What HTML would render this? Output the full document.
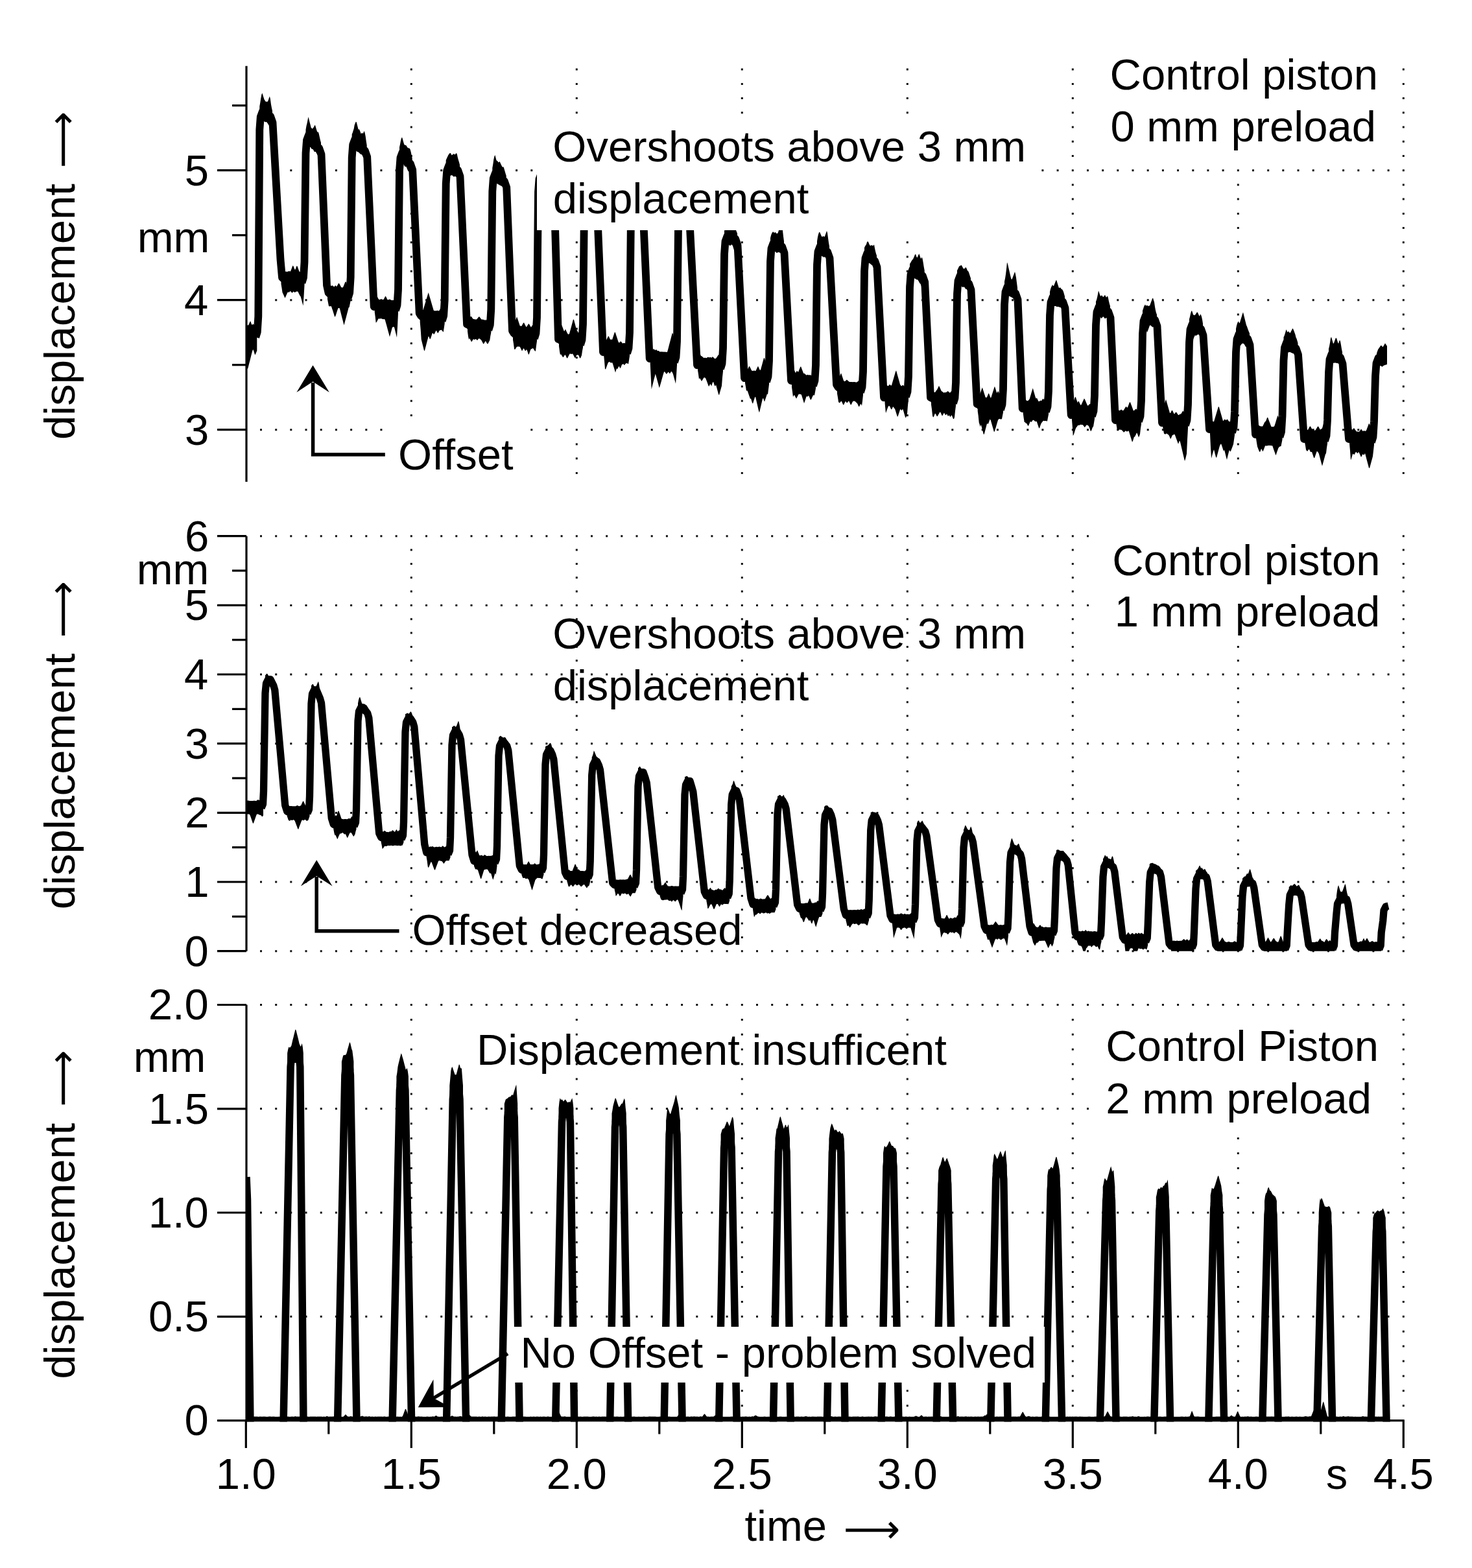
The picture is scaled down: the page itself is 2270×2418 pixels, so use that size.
<!DOCTYPE html>
<html><head><meta charset="utf-8"><title>Control piston displacement</title><style>html,body{margin:0;padding:0;background:#fff;width:2270px;height:2418px;overflow:hidden}svg{display:block}.t text{font-family:"Liberation Sans",Arial,Helvetica,sans-serif}.a text{font-family:"DejaVu Sans",sans-serif}</style></head><body>
<svg width="2270" height="2418" viewBox="0 0 2270 2418">
<rect width="2270" height="2418" fill="#fff"/>
<defs><clipPath id="cT"><rect x="380" y="101.7" width="1786" height="641.3"/></clipPath><clipPath id="cM"><rect x="380" y="826.7" width="1786" height="640"/></clipPath><clipPath id="cB"><rect x="380" y="1549.5" width="1786" height="643.1"/></clipPath></defs>
<path fill="#111" d="M401 261.2h3v3h-3zM424.2 261.2h3v3h-3zM447.3 261.2h3v3h-3zM470.5 261.2h3v3h-3zM493.7 261.2h3v3h-3zM516.9 261.2h3v3h-3zM540.1 261.2h3v3h-3zM563.3 261.2h3v3h-3zM586.4 261.2h3v3h-3zM609.6 261.2h3v3h-3zM632.8 261.2h3v3h-3zM656 261.2h3v3h-3zM679.2 261.2h3v3h-3zM702.3 261.2h3v3h-3zM725.5 261.2h3v3h-3zM748.7 261.2h3v3h-3zM771.9 261.2h3v3h-3zM795.1 261.2h3v3h-3zM818.3 261.2h3v3h-3zM841.4 261.2h3v3h-3zM864.6 261.2h3v3h-3zM887.8 261.2h3v3h-3zM911 261.2h3v3h-3zM934.2 261.2h3v3h-3zM957.3 261.2h3v3h-3zM980.5 261.2h3v3h-3zM1003.7 261.2h3v3h-3zM1026.9 261.2h3v3h-3zM1050.1 261.2h3v3h-3zM1073.3 261.2h3v3h-3zM1096.4 261.2h3v3h-3zM1119.6 261.2h3v3h-3zM1142.8 261.2h3v3h-3zM1166 261.2h3v3h-3zM1189.2 261.2h3v3h-3zM1212.3 261.2h3v3h-3zM1235.5 261.2h3v3h-3zM1258.7 261.2h3v3h-3zM1281.9 261.2h3v3h-3zM1305.1 261.2h3v3h-3zM1328.3 261.2h3v3h-3zM1351.4 261.2h3v3h-3zM1374.6 261.2h3v3h-3zM1397.8 261.2h3v3h-3zM1421 261.2h3v3h-3zM1444.2 261.2h3v3h-3zM1467.3 261.2h3v3h-3zM1490.5 261.2h3v3h-3zM1513.7 261.2h3v3h-3zM1536.9 261.2h3v3h-3zM1560.1 261.2h3v3h-3zM1583.3 261.2h3v3h-3zM1606.4 261.2h3v3h-3zM1629.6 261.2h3v3h-3zM1652.8 261.2h3v3h-3zM1676 261.2h3v3h-3zM1699.2 261.2h3v3h-3zM1722.3 261.2h3v3h-3zM1745.5 261.2h3v3h-3zM1768.7 261.2h3v3h-3zM1791.9 261.2h3v3h-3zM1815.1 261.2h3v3h-3zM1838.3 261.2h3v3h-3zM1861.4 261.2h3v3h-3zM1884.6 261.2h3v3h-3zM1907.8 261.2h3v3h-3zM1931 261.2h3v3h-3zM1954.2 261.2h3v3h-3zM1977.3 261.2h3v3h-3zM2000.5 261.2h3v3h-3zM2023.7 261.2h3v3h-3zM2046.9 261.2h3v3h-3zM2070.1 261.2h3v3h-3zM2093.3 261.2h3v3h-3zM2116.4 261.2h3v3h-3zM2139.6 261.2h3v3h-3zM2162.8 261.2h3v3h-3zM401 461.2h3v3h-3zM424.2 461.2h3v3h-3zM447.3 461.2h3v3h-3zM470.5 461.2h3v3h-3zM493.7 461.2h3v3h-3zM516.9 461.2h3v3h-3zM540.1 461.2h3v3h-3zM563.3 461.2h3v3h-3zM586.4 461.2h3v3h-3zM609.6 461.2h3v3h-3zM632.8 461.2h3v3h-3zM656 461.2h3v3h-3zM679.2 461.2h3v3h-3zM702.3 461.2h3v3h-3zM725.5 461.2h3v3h-3zM748.7 461.2h3v3h-3zM771.9 461.2h3v3h-3zM795.1 461.2h3v3h-3zM818.3 461.2h3v3h-3zM841.4 461.2h3v3h-3zM864.6 461.2h3v3h-3zM887.8 461.2h3v3h-3zM911 461.2h3v3h-3zM934.2 461.2h3v3h-3zM957.3 461.2h3v3h-3zM980.5 461.2h3v3h-3zM1003.7 461.2h3v3h-3zM1026.9 461.2h3v3h-3zM1050.1 461.2h3v3h-3zM1073.3 461.2h3v3h-3zM1096.4 461.2h3v3h-3zM1119.6 461.2h3v3h-3zM1142.8 461.2h3v3h-3zM1166 461.2h3v3h-3zM1189.2 461.2h3v3h-3zM1212.3 461.2h3v3h-3zM1235.5 461.2h3v3h-3zM1258.7 461.2h3v3h-3zM1281.9 461.2h3v3h-3zM1305.1 461.2h3v3h-3zM1328.3 461.2h3v3h-3zM1351.4 461.2h3v3h-3zM1374.6 461.2h3v3h-3zM1397.8 461.2h3v3h-3zM1421 461.2h3v3h-3zM1444.2 461.2h3v3h-3zM1467.3 461.2h3v3h-3zM1490.5 461.2h3v3h-3zM1513.7 461.2h3v3h-3zM1536.9 461.2h3v3h-3zM1560.1 461.2h3v3h-3zM1583.3 461.2h3v3h-3zM1606.4 461.2h3v3h-3zM1629.6 461.2h3v3h-3zM1652.8 461.2h3v3h-3zM1676 461.2h3v3h-3zM1699.2 461.2h3v3h-3zM1722.3 461.2h3v3h-3zM1745.5 461.2h3v3h-3zM1768.7 461.2h3v3h-3zM1791.9 461.2h3v3h-3zM1815.1 461.2h3v3h-3zM1838.3 461.2h3v3h-3zM1861.4 461.2h3v3h-3zM1884.6 461.2h3v3h-3zM1907.8 461.2h3v3h-3zM1931 461.2h3v3h-3zM1954.2 461.2h3v3h-3zM1977.3 461.2h3v3h-3zM2000.5 461.2h3v3h-3zM2023.7 461.2h3v3h-3zM2046.9 461.2h3v3h-3zM2070.1 461.2h3v3h-3zM2093.3 461.2h3v3h-3zM2116.4 461.2h3v3h-3zM2139.6 461.2h3v3h-3zM2162.8 461.2h3v3h-3zM401 661.2h3v3h-3zM424.2 661.2h3v3h-3zM447.3 661.2h3v3h-3zM470.5 661.2h3v3h-3zM493.7 661.2h3v3h-3zM516.9 661.2h3v3h-3zM540.1 661.2h3v3h-3zM563.3 661.2h3v3h-3zM586.4 661.2h3v3h-3zM609.6 661.2h3v3h-3zM632.8 661.2h3v3h-3zM656 661.2h3v3h-3zM679.2 661.2h3v3h-3zM702.3 661.2h3v3h-3zM725.5 661.2h3v3h-3zM748.7 661.2h3v3h-3zM771.9 661.2h3v3h-3zM795.1 661.2h3v3h-3zM818.3 661.2h3v3h-3zM841.4 661.2h3v3h-3zM864.6 661.2h3v3h-3zM887.8 661.2h3v3h-3zM911 661.2h3v3h-3zM934.2 661.2h3v3h-3zM957.3 661.2h3v3h-3zM980.5 661.2h3v3h-3zM1003.7 661.2h3v3h-3zM1026.9 661.2h3v3h-3zM1050.1 661.2h3v3h-3zM1073.3 661.2h3v3h-3zM1096.4 661.2h3v3h-3zM1119.6 661.2h3v3h-3zM1142.8 661.2h3v3h-3zM1166 661.2h3v3h-3zM1189.2 661.2h3v3h-3zM1212.3 661.2h3v3h-3zM1235.5 661.2h3v3h-3zM1258.7 661.2h3v3h-3zM1281.9 661.2h3v3h-3zM1305.1 661.2h3v3h-3zM1328.3 661.2h3v3h-3zM1351.4 661.2h3v3h-3zM1374.6 661.2h3v3h-3zM1397.8 661.2h3v3h-3zM1421 661.2h3v3h-3zM1444.2 661.2h3v3h-3zM1467.3 661.2h3v3h-3zM1490.5 661.2h3v3h-3zM1513.7 661.2h3v3h-3zM1536.9 661.2h3v3h-3zM1560.1 661.2h3v3h-3zM1583.3 661.2h3v3h-3zM1606.4 661.2h3v3h-3zM1629.6 661.2h3v3h-3zM1652.8 661.2h3v3h-3zM1676 661.2h3v3h-3zM1699.2 661.2h3v3h-3zM1722.3 661.2h3v3h-3zM1745.5 661.2h3v3h-3zM1768.7 661.2h3v3h-3zM1791.9 661.2h3v3h-3zM1815.1 661.2h3v3h-3zM1838.3 661.2h3v3h-3zM1861.4 661.2h3v3h-3zM1884.6 661.2h3v3h-3zM1907.8 661.2h3v3h-3zM1931 661.2h3v3h-3zM1954.2 661.2h3v3h-3zM1977.3 661.2h3v3h-3zM2000.5 661.2h3v3h-3zM2023.7 661.2h3v3h-3zM2046.9 661.2h3v3h-3zM2070.1 661.2h3v3h-3zM2093.3 661.2h3v3h-3zM2116.4 661.2h3v3h-3zM2139.6 661.2h3v3h-3zM2162.8 661.2h3v3h-3zM401 1465.2h3v3h-3zM424.2 1465.2h3v3h-3zM447.3 1465.2h3v3h-3zM470.5 1465.2h3v3h-3zM493.7 1465.2h3v3h-3zM516.9 1465.2h3v3h-3zM540.1 1465.2h3v3h-3zM563.3 1465.2h3v3h-3zM586.4 1465.2h3v3h-3zM609.6 1465.2h3v3h-3zM632.8 1465.2h3v3h-3zM656 1465.2h3v3h-3zM679.2 1465.2h3v3h-3zM702.3 1465.2h3v3h-3zM725.5 1465.2h3v3h-3zM748.7 1465.2h3v3h-3zM771.9 1465.2h3v3h-3zM795.1 1465.2h3v3h-3zM818.3 1465.2h3v3h-3zM841.4 1465.2h3v3h-3zM864.6 1465.2h3v3h-3zM887.8 1465.2h3v3h-3zM911 1465.2h3v3h-3zM934.2 1465.2h3v3h-3zM957.3 1465.2h3v3h-3zM980.5 1465.2h3v3h-3zM1003.7 1465.2h3v3h-3zM1026.9 1465.2h3v3h-3zM1050.1 1465.2h3v3h-3zM1073.3 1465.2h3v3h-3zM1096.4 1465.2h3v3h-3zM1119.6 1465.2h3v3h-3zM1142.8 1465.2h3v3h-3zM1166 1465.2h3v3h-3zM1189.2 1465.2h3v3h-3zM1212.3 1465.2h3v3h-3zM1235.5 1465.2h3v3h-3zM1258.7 1465.2h3v3h-3zM1281.9 1465.2h3v3h-3zM1305.1 1465.2h3v3h-3zM1328.3 1465.2h3v3h-3zM1351.4 1465.2h3v3h-3zM1374.6 1465.2h3v3h-3zM1397.8 1465.2h3v3h-3zM1421 1465.2h3v3h-3zM1444.2 1465.2h3v3h-3zM1467.3 1465.2h3v3h-3zM1490.5 1465.2h3v3h-3zM1513.7 1465.2h3v3h-3zM1536.9 1465.2h3v3h-3zM1560.1 1465.2h3v3h-3zM1583.3 1465.2h3v3h-3zM1606.4 1465.2h3v3h-3zM1629.6 1465.2h3v3h-3zM1652.8 1465.2h3v3h-3zM1676 1465.2h3v3h-3zM1699.2 1465.2h3v3h-3zM1722.3 1465.2h3v3h-3zM1745.5 1465.2h3v3h-3zM1768.7 1465.2h3v3h-3zM1791.9 1465.2h3v3h-3zM1815.1 1465.2h3v3h-3zM1838.3 1465.2h3v3h-3zM1861.4 1465.2h3v3h-3zM1884.6 1465.2h3v3h-3zM1907.8 1465.2h3v3h-3zM1931 1465.2h3v3h-3zM1954.2 1465.2h3v3h-3zM1977.3 1465.2h3v3h-3zM2000.5 1465.2h3v3h-3zM2023.7 1465.2h3v3h-3zM2046.9 1465.2h3v3h-3zM2070.1 1465.2h3v3h-3zM2093.3 1465.2h3v3h-3zM2116.4 1465.2h3v3h-3zM2139.6 1465.2h3v3h-3zM2162.8 1465.2h3v3h-3zM401 1358.5h3v3h-3zM424.2 1358.5h3v3h-3zM447.3 1358.5h3v3h-3zM470.5 1358.5h3v3h-3zM493.7 1358.5h3v3h-3zM516.9 1358.5h3v3h-3zM540.1 1358.5h3v3h-3zM563.3 1358.5h3v3h-3zM586.4 1358.5h3v3h-3zM609.6 1358.5h3v3h-3zM632.8 1358.5h3v3h-3zM656 1358.5h3v3h-3zM679.2 1358.5h3v3h-3zM702.3 1358.5h3v3h-3zM725.5 1358.5h3v3h-3zM748.7 1358.5h3v3h-3zM771.9 1358.5h3v3h-3zM795.1 1358.5h3v3h-3zM818.3 1358.5h3v3h-3zM841.4 1358.5h3v3h-3zM864.6 1358.5h3v3h-3zM887.8 1358.5h3v3h-3zM911 1358.5h3v3h-3zM934.2 1358.5h3v3h-3zM957.3 1358.5h3v3h-3zM980.5 1358.5h3v3h-3zM1003.7 1358.5h3v3h-3zM1026.9 1358.5h3v3h-3zM1050.1 1358.5h3v3h-3zM1073.3 1358.5h3v3h-3zM1096.4 1358.5h3v3h-3zM1119.6 1358.5h3v3h-3zM1142.8 1358.5h3v3h-3zM1166 1358.5h3v3h-3zM1189.2 1358.5h3v3h-3zM1212.3 1358.5h3v3h-3zM1235.5 1358.5h3v3h-3zM1258.7 1358.5h3v3h-3zM1281.9 1358.5h3v3h-3zM1305.1 1358.5h3v3h-3zM1328.3 1358.5h3v3h-3zM1351.4 1358.5h3v3h-3zM1374.6 1358.5h3v3h-3zM1397.8 1358.5h3v3h-3zM1421 1358.5h3v3h-3zM1444.2 1358.5h3v3h-3zM1467.3 1358.5h3v3h-3zM1490.5 1358.5h3v3h-3zM1513.7 1358.5h3v3h-3zM1536.9 1358.5h3v3h-3zM1560.1 1358.5h3v3h-3zM1583.3 1358.5h3v3h-3zM1606.4 1358.5h3v3h-3zM1629.6 1358.5h3v3h-3zM1652.8 1358.5h3v3h-3zM1676 1358.5h3v3h-3zM1699.2 1358.5h3v3h-3zM1722.3 1358.5h3v3h-3zM1745.5 1358.5h3v3h-3zM1768.7 1358.5h3v3h-3zM1791.9 1358.5h3v3h-3zM1815.1 1358.5h3v3h-3zM1838.3 1358.5h3v3h-3zM1861.4 1358.5h3v3h-3zM1884.6 1358.5h3v3h-3zM1907.8 1358.5h3v3h-3zM1931 1358.5h3v3h-3zM1954.2 1358.5h3v3h-3zM1977.3 1358.5h3v3h-3zM2000.5 1358.5h3v3h-3zM2023.7 1358.5h3v3h-3zM2046.9 1358.5h3v3h-3zM2070.1 1358.5h3v3h-3zM2093.3 1358.5h3v3h-3zM2116.4 1358.5h3v3h-3zM2139.6 1358.5h3v3h-3zM2162.8 1358.5h3v3h-3zM401 1251.9h3v3h-3zM424.2 1251.9h3v3h-3zM447.3 1251.9h3v3h-3zM470.5 1251.9h3v3h-3zM493.7 1251.9h3v3h-3zM516.9 1251.9h3v3h-3zM540.1 1251.9h3v3h-3zM563.3 1251.9h3v3h-3zM586.4 1251.9h3v3h-3zM609.6 1251.9h3v3h-3zM632.8 1251.9h3v3h-3zM656 1251.9h3v3h-3zM679.2 1251.9h3v3h-3zM702.3 1251.9h3v3h-3zM725.5 1251.9h3v3h-3zM748.7 1251.9h3v3h-3zM771.9 1251.9h3v3h-3zM795.1 1251.9h3v3h-3zM818.3 1251.9h3v3h-3zM841.4 1251.9h3v3h-3zM864.6 1251.9h3v3h-3zM887.8 1251.9h3v3h-3zM911 1251.9h3v3h-3zM934.2 1251.9h3v3h-3zM957.3 1251.9h3v3h-3zM980.5 1251.9h3v3h-3zM1003.7 1251.9h3v3h-3zM1026.9 1251.9h3v3h-3zM1050.1 1251.9h3v3h-3zM1073.3 1251.9h3v3h-3zM1096.4 1251.9h3v3h-3zM1119.6 1251.9h3v3h-3zM1142.8 1251.9h3v3h-3zM1166 1251.9h3v3h-3zM1189.2 1251.9h3v3h-3zM1212.3 1251.9h3v3h-3zM1235.5 1251.9h3v3h-3zM1258.7 1251.9h3v3h-3zM1281.9 1251.9h3v3h-3zM1305.1 1251.9h3v3h-3zM1328.3 1251.9h3v3h-3zM1351.4 1251.9h3v3h-3zM1374.6 1251.9h3v3h-3zM1397.8 1251.9h3v3h-3zM1421 1251.9h3v3h-3zM1444.2 1251.9h3v3h-3zM1467.3 1251.9h3v3h-3zM1490.5 1251.9h3v3h-3zM1513.7 1251.9h3v3h-3zM1536.9 1251.9h3v3h-3zM1560.1 1251.9h3v3h-3zM1583.3 1251.9h3v3h-3zM1606.4 1251.9h3v3h-3zM1629.6 1251.9h3v3h-3zM1652.8 1251.9h3v3h-3zM1676 1251.9h3v3h-3zM1699.2 1251.9h3v3h-3zM1722.3 1251.9h3v3h-3zM1745.5 1251.9h3v3h-3zM1768.7 1251.9h3v3h-3zM1791.9 1251.9h3v3h-3zM1815.1 1251.9h3v3h-3zM1838.3 1251.9h3v3h-3zM1861.4 1251.9h3v3h-3zM1884.6 1251.9h3v3h-3zM1907.8 1251.9h3v3h-3zM1931 1251.9h3v3h-3zM1954.2 1251.9h3v3h-3zM1977.3 1251.9h3v3h-3zM2000.5 1251.9h3v3h-3zM2023.7 1251.9h3v3h-3zM2046.9 1251.9h3v3h-3zM2070.1 1251.9h3v3h-3zM2093.3 1251.9h3v3h-3zM2116.4 1251.9h3v3h-3zM2139.6 1251.9h3v3h-3zM2162.8 1251.9h3v3h-3zM401 1145.2h3v3h-3zM424.2 1145.2h3v3h-3zM447.3 1145.2h3v3h-3zM470.5 1145.2h3v3h-3zM493.7 1145.2h3v3h-3zM516.9 1145.2h3v3h-3zM540.1 1145.2h3v3h-3zM563.3 1145.2h3v3h-3zM586.4 1145.2h3v3h-3zM609.6 1145.2h3v3h-3zM632.8 1145.2h3v3h-3zM656 1145.2h3v3h-3zM679.2 1145.2h3v3h-3zM702.3 1145.2h3v3h-3zM725.5 1145.2h3v3h-3zM748.7 1145.2h3v3h-3zM771.9 1145.2h3v3h-3zM795.1 1145.2h3v3h-3zM818.3 1145.2h3v3h-3zM841.4 1145.2h3v3h-3zM864.6 1145.2h3v3h-3zM887.8 1145.2h3v3h-3zM911 1145.2h3v3h-3zM934.2 1145.2h3v3h-3zM957.3 1145.2h3v3h-3zM980.5 1145.2h3v3h-3zM1003.7 1145.2h3v3h-3zM1026.9 1145.2h3v3h-3zM1050.1 1145.2h3v3h-3zM1073.3 1145.2h3v3h-3zM1096.4 1145.2h3v3h-3zM1119.6 1145.2h3v3h-3zM1142.8 1145.2h3v3h-3zM1166 1145.2h3v3h-3zM1189.2 1145.2h3v3h-3zM1212.3 1145.2h3v3h-3zM1235.5 1145.2h3v3h-3zM1258.7 1145.2h3v3h-3zM1281.9 1145.2h3v3h-3zM1305.1 1145.2h3v3h-3zM1328.3 1145.2h3v3h-3zM1351.4 1145.2h3v3h-3zM1374.6 1145.2h3v3h-3zM1397.8 1145.2h3v3h-3zM1421 1145.2h3v3h-3zM1444.2 1145.2h3v3h-3zM1467.3 1145.2h3v3h-3zM1490.5 1145.2h3v3h-3zM1513.7 1145.2h3v3h-3zM1536.9 1145.2h3v3h-3zM1560.1 1145.2h3v3h-3zM1583.3 1145.2h3v3h-3zM1606.4 1145.2h3v3h-3zM1629.6 1145.2h3v3h-3zM1652.8 1145.2h3v3h-3zM1676 1145.2h3v3h-3zM1699.2 1145.2h3v3h-3zM1722.3 1145.2h3v3h-3zM1745.5 1145.2h3v3h-3zM1768.7 1145.2h3v3h-3zM1791.9 1145.2h3v3h-3zM1815.1 1145.2h3v3h-3zM1838.3 1145.2h3v3h-3zM1861.4 1145.2h3v3h-3zM1884.6 1145.2h3v3h-3zM1907.8 1145.2h3v3h-3zM1931 1145.2h3v3h-3zM1954.2 1145.2h3v3h-3zM1977.3 1145.2h3v3h-3zM2000.5 1145.2h3v3h-3zM2023.7 1145.2h3v3h-3zM2046.9 1145.2h3v3h-3zM2070.1 1145.2h3v3h-3zM2093.3 1145.2h3v3h-3zM2116.4 1145.2h3v3h-3zM2139.6 1145.2h3v3h-3zM2162.8 1145.2h3v3h-3zM401 1038.5h3v3h-3zM424.2 1038.5h3v3h-3zM447.3 1038.5h3v3h-3zM470.5 1038.5h3v3h-3zM493.7 1038.5h3v3h-3zM516.9 1038.5h3v3h-3zM540.1 1038.5h3v3h-3zM563.3 1038.5h3v3h-3zM586.4 1038.5h3v3h-3zM609.6 1038.5h3v3h-3zM632.8 1038.5h3v3h-3zM656 1038.5h3v3h-3zM679.2 1038.5h3v3h-3zM702.3 1038.5h3v3h-3zM725.5 1038.5h3v3h-3zM748.7 1038.5h3v3h-3zM771.9 1038.5h3v3h-3zM795.1 1038.5h3v3h-3zM818.3 1038.5h3v3h-3zM841.4 1038.5h3v3h-3zM864.6 1038.5h3v3h-3zM887.8 1038.5h3v3h-3zM911 1038.5h3v3h-3zM934.2 1038.5h3v3h-3zM957.3 1038.5h3v3h-3zM980.5 1038.5h3v3h-3zM1003.7 1038.5h3v3h-3zM1026.9 1038.5h3v3h-3zM1050.1 1038.5h3v3h-3zM1073.3 1038.5h3v3h-3zM1096.4 1038.5h3v3h-3zM1119.6 1038.5h3v3h-3zM1142.8 1038.5h3v3h-3zM1166 1038.5h3v3h-3zM1189.2 1038.5h3v3h-3zM1212.3 1038.5h3v3h-3zM1235.5 1038.5h3v3h-3zM1258.7 1038.5h3v3h-3zM1281.9 1038.5h3v3h-3zM1305.1 1038.5h3v3h-3zM1328.3 1038.5h3v3h-3zM1351.4 1038.5h3v3h-3zM1374.6 1038.5h3v3h-3zM1397.8 1038.5h3v3h-3zM1421 1038.5h3v3h-3zM1444.2 1038.5h3v3h-3zM1467.3 1038.5h3v3h-3zM1490.5 1038.5h3v3h-3zM1513.7 1038.5h3v3h-3zM1536.9 1038.5h3v3h-3zM1560.1 1038.5h3v3h-3zM1583.3 1038.5h3v3h-3zM1606.4 1038.5h3v3h-3zM1629.6 1038.5h3v3h-3zM1652.8 1038.5h3v3h-3zM1676 1038.5h3v3h-3zM1699.2 1038.5h3v3h-3zM1722.3 1038.5h3v3h-3zM1745.5 1038.5h3v3h-3zM1768.7 1038.5h3v3h-3zM1791.9 1038.5h3v3h-3zM1815.1 1038.5h3v3h-3zM1838.3 1038.5h3v3h-3zM1861.4 1038.5h3v3h-3zM1884.6 1038.5h3v3h-3zM1907.8 1038.5h3v3h-3zM1931 1038.5h3v3h-3zM1954.2 1038.5h3v3h-3zM1977.3 1038.5h3v3h-3zM2000.5 1038.5h3v3h-3zM2023.7 1038.5h3v3h-3zM2046.9 1038.5h3v3h-3zM2070.1 1038.5h3v3h-3zM2093.3 1038.5h3v3h-3zM2116.4 1038.5h3v3h-3zM2139.6 1038.5h3v3h-3zM2162.8 1038.5h3v3h-3zM401 931.9h3v3h-3zM424.2 931.9h3v3h-3zM447.3 931.9h3v3h-3zM470.5 931.9h3v3h-3zM493.7 931.9h3v3h-3zM516.9 931.9h3v3h-3zM540.1 931.9h3v3h-3zM563.3 931.9h3v3h-3zM586.4 931.9h3v3h-3zM609.6 931.9h3v3h-3zM632.8 931.9h3v3h-3zM656 931.9h3v3h-3zM679.2 931.9h3v3h-3zM702.3 931.9h3v3h-3zM725.5 931.9h3v3h-3zM748.7 931.9h3v3h-3zM771.9 931.9h3v3h-3zM795.1 931.9h3v3h-3zM818.3 931.9h3v3h-3zM841.4 931.9h3v3h-3zM864.6 931.9h3v3h-3zM887.8 931.9h3v3h-3zM911 931.9h3v3h-3zM934.2 931.9h3v3h-3zM957.3 931.9h3v3h-3zM980.5 931.9h3v3h-3zM1003.7 931.9h3v3h-3zM1026.9 931.9h3v3h-3zM1050.1 931.9h3v3h-3zM1073.3 931.9h3v3h-3zM1096.4 931.9h3v3h-3zM1119.6 931.9h3v3h-3zM1142.8 931.9h3v3h-3zM1166 931.9h3v3h-3zM1189.2 931.9h3v3h-3zM1212.3 931.9h3v3h-3zM1235.5 931.9h3v3h-3zM1258.7 931.9h3v3h-3zM1281.9 931.9h3v3h-3zM1305.1 931.9h3v3h-3zM1328.3 931.9h3v3h-3zM1351.4 931.9h3v3h-3zM1374.6 931.9h3v3h-3zM1397.8 931.9h3v3h-3zM1421 931.9h3v3h-3zM1444.2 931.9h3v3h-3zM1467.3 931.9h3v3h-3zM1490.5 931.9h3v3h-3zM1513.7 931.9h3v3h-3zM1536.9 931.9h3v3h-3zM1560.1 931.9h3v3h-3zM1583.3 931.9h3v3h-3zM1606.4 931.9h3v3h-3zM1629.6 931.9h3v3h-3zM1652.8 931.9h3v3h-3zM1676 931.9h3v3h-3zM1699.2 931.9h3v3h-3zM1722.3 931.9h3v3h-3zM1745.5 931.9h3v3h-3zM1768.7 931.9h3v3h-3zM1791.9 931.9h3v3h-3zM1815.1 931.9h3v3h-3zM1838.3 931.9h3v3h-3zM1861.4 931.9h3v3h-3zM1884.6 931.9h3v3h-3zM1907.8 931.9h3v3h-3zM1931 931.9h3v3h-3zM1954.2 931.9h3v3h-3zM1977.3 931.9h3v3h-3zM2000.5 931.9h3v3h-3zM2023.7 931.9h3v3h-3zM2046.9 931.9h3v3h-3zM2070.1 931.9h3v3h-3zM2093.3 931.9h3v3h-3zM2116.4 931.9h3v3h-3zM2139.6 931.9h3v3h-3zM2162.8 931.9h3v3h-3zM401 825.2h3v3h-3zM424.2 825.2h3v3h-3zM447.3 825.2h3v3h-3zM470.5 825.2h3v3h-3zM493.7 825.2h3v3h-3zM516.9 825.2h3v3h-3zM540.1 825.2h3v3h-3zM563.3 825.2h3v3h-3zM586.4 825.2h3v3h-3zM609.6 825.2h3v3h-3zM632.8 825.2h3v3h-3zM656 825.2h3v3h-3zM679.2 825.2h3v3h-3zM702.3 825.2h3v3h-3zM725.5 825.2h3v3h-3zM748.7 825.2h3v3h-3zM771.9 825.2h3v3h-3zM795.1 825.2h3v3h-3zM818.3 825.2h3v3h-3zM841.4 825.2h3v3h-3zM864.6 825.2h3v3h-3zM887.8 825.2h3v3h-3zM911 825.2h3v3h-3zM934.2 825.2h3v3h-3zM957.3 825.2h3v3h-3zM980.5 825.2h3v3h-3zM1003.7 825.2h3v3h-3zM1026.9 825.2h3v3h-3zM1050.1 825.2h3v3h-3zM1073.3 825.2h3v3h-3zM1096.4 825.2h3v3h-3zM1119.6 825.2h3v3h-3zM1142.8 825.2h3v3h-3zM1166 825.2h3v3h-3zM1189.2 825.2h3v3h-3zM1212.3 825.2h3v3h-3zM1235.5 825.2h3v3h-3zM1258.7 825.2h3v3h-3zM1281.9 825.2h3v3h-3zM1305.1 825.2h3v3h-3zM1328.3 825.2h3v3h-3zM1351.4 825.2h3v3h-3zM1374.6 825.2h3v3h-3zM1397.8 825.2h3v3h-3zM1421 825.2h3v3h-3zM1444.2 825.2h3v3h-3zM1467.3 825.2h3v3h-3zM1490.5 825.2h3v3h-3zM1513.7 825.2h3v3h-3zM1536.9 825.2h3v3h-3zM1560.1 825.2h3v3h-3zM1583.3 825.2h3v3h-3zM1606.4 825.2h3v3h-3zM1629.6 825.2h3v3h-3zM1652.8 825.2h3v3h-3zM1676 825.2h3v3h-3zM1699.2 825.2h3v3h-3zM1722.3 825.2h3v3h-3zM1745.5 825.2h3v3h-3zM1768.7 825.2h3v3h-3zM1791.9 825.2h3v3h-3zM1815.1 825.2h3v3h-3zM1838.3 825.2h3v3h-3zM1861.4 825.2h3v3h-3zM1884.6 825.2h3v3h-3zM1907.8 825.2h3v3h-3zM1931 825.2h3v3h-3zM1954.2 825.2h3v3h-3zM1977.3 825.2h3v3h-3zM2000.5 825.2h3v3h-3zM2023.7 825.2h3v3h-3zM2046.9 825.2h3v3h-3zM2070.1 825.2h3v3h-3zM2093.3 825.2h3v3h-3zM2116.4 825.2h3v3h-3zM2139.6 825.2h3v3h-3zM2162.8 825.2h3v3h-3zM401 2189.1h3v3h-3zM424.2 2189.1h3v3h-3zM447.3 2189.1h3v3h-3zM470.5 2189.1h3v3h-3zM493.7 2189.1h3v3h-3zM516.9 2189.1h3v3h-3zM540.1 2189.1h3v3h-3zM563.3 2189.1h3v3h-3zM586.4 2189.1h3v3h-3zM609.6 2189.1h3v3h-3zM632.8 2189.1h3v3h-3zM656 2189.1h3v3h-3zM679.2 2189.1h3v3h-3zM702.3 2189.1h3v3h-3zM725.5 2189.1h3v3h-3zM748.7 2189.1h3v3h-3zM771.9 2189.1h3v3h-3zM795.1 2189.1h3v3h-3zM818.3 2189.1h3v3h-3zM841.4 2189.1h3v3h-3zM864.6 2189.1h3v3h-3zM887.8 2189.1h3v3h-3zM911 2189.1h3v3h-3zM934.2 2189.1h3v3h-3zM957.3 2189.1h3v3h-3zM980.5 2189.1h3v3h-3zM1003.7 2189.1h3v3h-3zM1026.9 2189.1h3v3h-3zM1050.1 2189.1h3v3h-3zM1073.3 2189.1h3v3h-3zM1096.4 2189.1h3v3h-3zM1119.6 2189.1h3v3h-3zM1142.8 2189.1h3v3h-3zM1166 2189.1h3v3h-3zM1189.2 2189.1h3v3h-3zM1212.3 2189.1h3v3h-3zM1235.5 2189.1h3v3h-3zM1258.7 2189.1h3v3h-3zM1281.9 2189.1h3v3h-3zM1305.1 2189.1h3v3h-3zM1328.3 2189.1h3v3h-3zM1351.4 2189.1h3v3h-3zM1374.6 2189.1h3v3h-3zM1397.8 2189.1h3v3h-3zM1421 2189.1h3v3h-3zM1444.2 2189.1h3v3h-3zM1467.3 2189.1h3v3h-3zM1490.5 2189.1h3v3h-3zM1513.7 2189.1h3v3h-3zM1536.9 2189.1h3v3h-3zM1560.1 2189.1h3v3h-3zM1583.3 2189.1h3v3h-3zM1606.4 2189.1h3v3h-3zM1629.6 2189.1h3v3h-3zM1652.8 2189.1h3v3h-3zM1676 2189.1h3v3h-3zM1699.2 2189.1h3v3h-3zM1722.3 2189.1h3v3h-3zM1745.5 2189.1h3v3h-3zM1768.7 2189.1h3v3h-3zM1791.9 2189.1h3v3h-3zM1815.1 2189.1h3v3h-3zM1838.3 2189.1h3v3h-3zM1861.4 2189.1h3v3h-3zM1884.6 2189.1h3v3h-3zM1907.8 2189.1h3v3h-3zM1931 2189.1h3v3h-3zM1954.2 2189.1h3v3h-3zM1977.3 2189.1h3v3h-3zM2000.5 2189.1h3v3h-3zM2023.7 2189.1h3v3h-3zM2046.9 2189.1h3v3h-3zM2070.1 2189.1h3v3h-3zM2093.3 2189.1h3v3h-3zM2116.4 2189.1h3v3h-3zM2139.6 2189.1h3v3h-3zM2162.8 2189.1h3v3h-3zM401 2028.8h3v3h-3zM424.2 2028.8h3v3h-3zM447.3 2028.8h3v3h-3zM470.5 2028.8h3v3h-3zM493.7 2028.8h3v3h-3zM516.9 2028.8h3v3h-3zM540.1 2028.8h3v3h-3zM563.3 2028.8h3v3h-3zM586.4 2028.8h3v3h-3zM609.6 2028.8h3v3h-3zM632.8 2028.8h3v3h-3zM656 2028.8h3v3h-3zM679.2 2028.8h3v3h-3zM702.3 2028.8h3v3h-3zM725.5 2028.8h3v3h-3zM748.7 2028.8h3v3h-3zM771.9 2028.8h3v3h-3zM795.1 2028.8h3v3h-3zM818.3 2028.8h3v3h-3zM841.4 2028.8h3v3h-3zM864.6 2028.8h3v3h-3zM887.8 2028.8h3v3h-3zM911 2028.8h3v3h-3zM934.2 2028.8h3v3h-3zM957.3 2028.8h3v3h-3zM980.5 2028.8h3v3h-3zM1003.7 2028.8h3v3h-3zM1026.9 2028.8h3v3h-3zM1050.1 2028.8h3v3h-3zM1073.3 2028.8h3v3h-3zM1096.4 2028.8h3v3h-3zM1119.6 2028.8h3v3h-3zM1142.8 2028.8h3v3h-3zM1166 2028.8h3v3h-3zM1189.2 2028.8h3v3h-3zM1212.3 2028.8h3v3h-3zM1235.5 2028.8h3v3h-3zM1258.7 2028.8h3v3h-3zM1281.9 2028.8h3v3h-3zM1305.1 2028.8h3v3h-3zM1328.3 2028.8h3v3h-3zM1351.4 2028.8h3v3h-3zM1374.6 2028.8h3v3h-3zM1397.8 2028.8h3v3h-3zM1421 2028.8h3v3h-3zM1444.2 2028.8h3v3h-3zM1467.3 2028.8h3v3h-3zM1490.5 2028.8h3v3h-3zM1513.7 2028.8h3v3h-3zM1536.9 2028.8h3v3h-3zM1560.1 2028.8h3v3h-3zM1583.3 2028.8h3v3h-3zM1606.4 2028.8h3v3h-3zM1629.6 2028.8h3v3h-3zM1652.8 2028.8h3v3h-3zM1676 2028.8h3v3h-3zM1699.2 2028.8h3v3h-3zM1722.3 2028.8h3v3h-3zM1745.5 2028.8h3v3h-3zM1768.7 2028.8h3v3h-3zM1791.9 2028.8h3v3h-3zM1815.1 2028.8h3v3h-3zM1838.3 2028.8h3v3h-3zM1861.4 2028.8h3v3h-3zM1884.6 2028.8h3v3h-3zM1907.8 2028.8h3v3h-3zM1931 2028.8h3v3h-3zM1954.2 2028.8h3v3h-3zM1977.3 2028.8h3v3h-3zM2000.5 2028.8h3v3h-3zM2023.7 2028.8h3v3h-3zM2046.9 2028.8h3v3h-3zM2070.1 2028.8h3v3h-3zM2093.3 2028.8h3v3h-3zM2116.4 2028.8h3v3h-3zM2139.6 2028.8h3v3h-3zM2162.8 2028.8h3v3h-3zM401 1868.5h3v3h-3zM424.2 1868.5h3v3h-3zM447.3 1868.5h3v3h-3zM470.5 1868.5h3v3h-3zM493.7 1868.5h3v3h-3zM516.9 1868.5h3v3h-3zM540.1 1868.5h3v3h-3zM563.3 1868.5h3v3h-3zM586.4 1868.5h3v3h-3zM609.6 1868.5h3v3h-3zM632.8 1868.5h3v3h-3zM656 1868.5h3v3h-3zM679.2 1868.5h3v3h-3zM702.3 1868.5h3v3h-3zM725.5 1868.5h3v3h-3zM748.7 1868.5h3v3h-3zM771.9 1868.5h3v3h-3zM795.1 1868.5h3v3h-3zM818.3 1868.5h3v3h-3zM841.4 1868.5h3v3h-3zM864.6 1868.5h3v3h-3zM887.8 1868.5h3v3h-3zM911 1868.5h3v3h-3zM934.2 1868.5h3v3h-3zM957.3 1868.5h3v3h-3zM980.5 1868.5h3v3h-3zM1003.7 1868.5h3v3h-3zM1026.9 1868.5h3v3h-3zM1050.1 1868.5h3v3h-3zM1073.3 1868.5h3v3h-3zM1096.4 1868.5h3v3h-3zM1119.6 1868.5h3v3h-3zM1142.8 1868.5h3v3h-3zM1166 1868.5h3v3h-3zM1189.2 1868.5h3v3h-3zM1212.3 1868.5h3v3h-3zM1235.5 1868.5h3v3h-3zM1258.7 1868.5h3v3h-3zM1281.9 1868.5h3v3h-3zM1305.1 1868.5h3v3h-3zM1328.3 1868.5h3v3h-3zM1351.4 1868.5h3v3h-3zM1374.6 1868.5h3v3h-3zM1397.8 1868.5h3v3h-3zM1421 1868.5h3v3h-3zM1444.2 1868.5h3v3h-3zM1467.3 1868.5h3v3h-3zM1490.5 1868.5h3v3h-3zM1513.7 1868.5h3v3h-3zM1536.9 1868.5h3v3h-3zM1560.1 1868.5h3v3h-3zM1583.3 1868.5h3v3h-3zM1606.4 1868.5h3v3h-3zM1629.6 1868.5h3v3h-3zM1652.8 1868.5h3v3h-3zM1676 1868.5h3v3h-3zM1699.2 1868.5h3v3h-3zM1722.3 1868.5h3v3h-3zM1745.5 1868.5h3v3h-3zM1768.7 1868.5h3v3h-3zM1791.9 1868.5h3v3h-3zM1815.1 1868.5h3v3h-3zM1838.3 1868.5h3v3h-3zM1861.4 1868.5h3v3h-3zM1884.6 1868.5h3v3h-3zM1907.8 1868.5h3v3h-3zM1931 1868.5h3v3h-3zM1954.2 1868.5h3v3h-3zM1977.3 1868.5h3v3h-3zM2000.5 1868.5h3v3h-3zM2023.7 1868.5h3v3h-3zM2046.9 1868.5h3v3h-3zM2070.1 1868.5h3v3h-3zM2093.3 1868.5h3v3h-3zM2116.4 1868.5h3v3h-3zM2139.6 1868.5h3v3h-3zM2162.8 1868.5h3v3h-3zM401 1708.3h3v3h-3zM424.2 1708.3h3v3h-3zM447.3 1708.3h3v3h-3zM470.5 1708.3h3v3h-3zM493.7 1708.3h3v3h-3zM516.9 1708.3h3v3h-3zM540.1 1708.3h3v3h-3zM563.3 1708.3h3v3h-3zM586.4 1708.3h3v3h-3zM609.6 1708.3h3v3h-3zM632.8 1708.3h3v3h-3zM656 1708.3h3v3h-3zM679.2 1708.3h3v3h-3zM702.3 1708.3h3v3h-3zM725.5 1708.3h3v3h-3zM748.7 1708.3h3v3h-3zM771.9 1708.3h3v3h-3zM795.1 1708.3h3v3h-3zM818.3 1708.3h3v3h-3zM841.4 1708.3h3v3h-3zM864.6 1708.3h3v3h-3zM887.8 1708.3h3v3h-3zM911 1708.3h3v3h-3zM934.2 1708.3h3v3h-3zM957.3 1708.3h3v3h-3zM980.5 1708.3h3v3h-3zM1003.7 1708.3h3v3h-3zM1026.9 1708.3h3v3h-3zM1050.1 1708.3h3v3h-3zM1073.3 1708.3h3v3h-3zM1096.4 1708.3h3v3h-3zM1119.6 1708.3h3v3h-3zM1142.8 1708.3h3v3h-3zM1166 1708.3h3v3h-3zM1189.2 1708.3h3v3h-3zM1212.3 1708.3h3v3h-3zM1235.5 1708.3h3v3h-3zM1258.7 1708.3h3v3h-3zM1281.9 1708.3h3v3h-3zM1305.1 1708.3h3v3h-3zM1328.3 1708.3h3v3h-3zM1351.4 1708.3h3v3h-3zM1374.6 1708.3h3v3h-3zM1397.8 1708.3h3v3h-3zM1421 1708.3h3v3h-3zM1444.2 1708.3h3v3h-3zM1467.3 1708.3h3v3h-3zM1490.5 1708.3h3v3h-3zM1513.7 1708.3h3v3h-3zM1536.9 1708.3h3v3h-3zM1560.1 1708.3h3v3h-3zM1583.3 1708.3h3v3h-3zM1606.4 1708.3h3v3h-3zM1629.6 1708.3h3v3h-3zM1652.8 1708.3h3v3h-3zM1676 1708.3h3v3h-3zM1699.2 1708.3h3v3h-3zM1722.3 1708.3h3v3h-3zM1745.5 1708.3h3v3h-3zM1768.7 1708.3h3v3h-3zM1791.9 1708.3h3v3h-3zM1815.1 1708.3h3v3h-3zM1838.3 1708.3h3v3h-3zM1861.4 1708.3h3v3h-3zM1884.6 1708.3h3v3h-3zM1907.8 1708.3h3v3h-3zM1931 1708.3h3v3h-3zM1954.2 1708.3h3v3h-3zM1977.3 1708.3h3v3h-3zM2000.5 1708.3h3v3h-3zM2023.7 1708.3h3v3h-3zM2046.9 1708.3h3v3h-3zM2070.1 1708.3h3v3h-3zM2093.3 1708.3h3v3h-3zM2116.4 1708.3h3v3h-3zM2139.6 1708.3h3v3h-3zM2162.8 1708.3h3v3h-3zM401 1548h3v3h-3zM424.2 1548h3v3h-3zM447.3 1548h3v3h-3zM470.5 1548h3v3h-3zM493.7 1548h3v3h-3zM516.9 1548h3v3h-3zM540.1 1548h3v3h-3zM563.3 1548h3v3h-3zM586.4 1548h3v3h-3zM609.6 1548h3v3h-3zM632.8 1548h3v3h-3zM656 1548h3v3h-3zM679.2 1548h3v3h-3zM702.3 1548h3v3h-3zM725.5 1548h3v3h-3zM748.7 1548h3v3h-3zM771.9 1548h3v3h-3zM795.1 1548h3v3h-3zM818.3 1548h3v3h-3zM841.4 1548h3v3h-3zM864.6 1548h3v3h-3zM887.8 1548h3v3h-3zM911 1548h3v3h-3zM934.2 1548h3v3h-3zM957.3 1548h3v3h-3zM980.5 1548h3v3h-3zM1003.7 1548h3v3h-3zM1026.9 1548h3v3h-3zM1050.1 1548h3v3h-3zM1073.3 1548h3v3h-3zM1096.4 1548h3v3h-3zM1119.6 1548h3v3h-3zM1142.8 1548h3v3h-3zM1166 1548h3v3h-3zM1189.2 1548h3v3h-3zM1212.3 1548h3v3h-3zM1235.5 1548h3v3h-3zM1258.7 1548h3v3h-3zM1281.9 1548h3v3h-3zM1305.1 1548h3v3h-3zM1328.3 1548h3v3h-3zM1351.4 1548h3v3h-3zM1374.6 1548h3v3h-3zM1397.8 1548h3v3h-3zM1421 1548h3v3h-3zM1444.2 1548h3v3h-3zM1467.3 1548h3v3h-3zM1490.5 1548h3v3h-3zM1513.7 1548h3v3h-3zM1536.9 1548h3v3h-3zM1560.1 1548h3v3h-3zM1583.3 1548h3v3h-3zM1606.4 1548h3v3h-3zM1629.6 1548h3v3h-3zM1652.8 1548h3v3h-3zM1676 1548h3v3h-3zM1699.2 1548h3v3h-3zM1722.3 1548h3v3h-3zM1745.5 1548h3v3h-3zM1768.7 1548h3v3h-3zM1791.9 1548h3v3h-3zM1815.1 1548h3v3h-3zM1838.3 1548h3v3h-3zM1861.4 1548h3v3h-3zM1884.6 1548h3v3h-3zM1907.8 1548h3v3h-3zM1931 1548h3v3h-3zM1954.2 1548h3v3h-3zM1977.3 1548h3v3h-3zM2000.5 1548h3v3h-3zM2023.7 1548h3v3h-3zM2046.9 1548h3v3h-3zM2070.1 1548h3v3h-3zM2093.3 1548h3v3h-3zM2116.4 1548h3v3h-3zM2139.6 1548h3v3h-3zM2162.8 1548h3v3h-3zM632.8 639h3v3h-3zM632.8 127.9h3v3h-3zM632.8 261.2h3v3h-3zM632.8 394.5h3v3h-3zM632.8 527.9h3v3h-3zM632.8 661.2h3v3h-3zM632.8 150.1h3v3h-3zM632.8 283.4h3v3h-3zM632.8 416.8h3v3h-3zM632.8 550.1h3v3h-3zM632.8 683.4h3v3h-3zM632.8 172.3h3v3h-3zM632.8 305.6h3v3h-3zM632.8 439h3v3h-3zM632.8 572.3h3v3h-3zM632.8 705.6h3v3h-3zM632.8 194.5h3v3h-3zM632.8 327.9h3v3h-3zM632.8 461.2h3v3h-3zM632.8 594.5h3v3h-3zM632.8 727.9h3v3h-3zM632.8 216.8h3v3h-3zM632.8 350.1h3v3h-3zM632.8 483.4h3v3h-3zM632.8 616.8h3v3h-3zM632.8 105.6h3v3h-3zM632.8 239h3v3h-3zM632.8 372.3h3v3h-3zM632.8 505.6h3v3h-3zM632.8 1145.2h3v3h-3zM632.8 1273.2h3v3h-3zM632.8 1401.2h3v3h-3zM632.8 910.5h3v3h-3zM632.8 1038.5h3v3h-3zM632.8 1166.5h3v3h-3zM632.8 1294.5h3v3h-3zM632.8 1422.5h3v3h-3zM632.8 931.9h3v3h-3zM632.8 1059.9h3v3h-3zM632.8 1187.9h3v3h-3zM632.8 1315.9h3v3h-3zM632.8 1443.9h3v3h-3zM632.8 953.2h3v3h-3zM632.8 1081.2h3v3h-3zM632.8 1209.2h3v3h-3zM632.8 825.2h3v3h-3zM632.8 1337.2h3v3h-3zM632.8 1465.2h3v3h-3zM632.8 846.5h3v3h-3zM632.8 974.5h3v3h-3zM632.8 1102.5h3v3h-3zM632.8 1230.5h3v3h-3zM632.8 1358.5h3v3h-3zM632.8 867.9h3v3h-3zM632.8 995.9h3v3h-3zM632.8 1123.9h3v3h-3zM632.8 1251.9h3v3h-3zM632.8 1379.9h3v3h-3zM632.8 1017.2h3v3h-3zM632.8 889.2h3v3h-3zM632.8 1662.5h3v3h-3zM632.8 2051.7h3v3h-3zM632.8 1799.9h3v3h-3zM632.8 1548h3v3h-3zM632.8 2189.1h3v3h-3zM632.8 1937.2h3v3h-3zM632.8 1685.4h3v3h-3zM632.8 2074.6h3v3h-3zM632.8 1822.8h3v3h-3zM632.8 1570.9h3v3h-3zM632.8 1960.1h3v3h-3zM632.8 1708.3h3v3h-3zM632.8 2097.5h3v3h-3zM632.8 1845.7h3v3h-3zM632.8 1593.8h3v3h-3zM632.8 1983h3v3h-3zM632.8 1731.2h3v3h-3zM632.8 2120.4h3v3h-3zM632.8 1868.5h3v3h-3zM632.8 1616.7h3v3h-3zM632.8 2005.9h3v3h-3zM632.8 1754.1h3v3h-3zM632.8 2143.3h3v3h-3zM632.8 1891.4h3v3h-3zM632.8 1639.6h3v3h-3zM632.8 2028.8h3v3h-3zM632.8 1777h3v3h-3zM632.8 2166.2h3v3h-3zM632.8 1914.3h3v3h-3zM887.8 639h3v3h-3zM887.8 127.9h3v3h-3zM887.8 261.2h3v3h-3zM887.8 394.5h3v3h-3zM887.8 527.9h3v3h-3zM887.8 661.2h3v3h-3zM887.8 150.1h3v3h-3zM887.8 283.4h3v3h-3zM887.8 416.8h3v3h-3zM887.8 550.1h3v3h-3zM887.8 683.4h3v3h-3zM887.8 172.3h3v3h-3zM887.8 305.6h3v3h-3zM887.8 439h3v3h-3zM887.8 572.3h3v3h-3zM887.8 705.6h3v3h-3zM887.8 194.5h3v3h-3zM887.8 327.9h3v3h-3zM887.8 461.2h3v3h-3zM887.8 594.5h3v3h-3zM887.8 727.9h3v3h-3zM887.8 216.8h3v3h-3zM887.8 350.1h3v3h-3zM887.8 483.4h3v3h-3zM887.8 616.8h3v3h-3zM887.8 105.6h3v3h-3zM887.8 239h3v3h-3zM887.8 372.3h3v3h-3zM887.8 505.6h3v3h-3zM887.8 1145.2h3v3h-3zM887.8 1273.2h3v3h-3zM887.8 1401.2h3v3h-3zM887.8 910.5h3v3h-3zM887.8 1038.5h3v3h-3zM887.8 1166.5h3v3h-3zM887.8 1294.5h3v3h-3zM887.8 1422.5h3v3h-3zM887.8 931.9h3v3h-3zM887.8 1059.9h3v3h-3zM887.8 1187.9h3v3h-3zM887.8 1315.9h3v3h-3zM887.8 1443.9h3v3h-3zM887.8 953.2h3v3h-3zM887.8 1081.2h3v3h-3zM887.8 1209.2h3v3h-3zM887.8 825.2h3v3h-3zM887.8 1337.2h3v3h-3zM887.8 1465.2h3v3h-3zM887.8 846.5h3v3h-3zM887.8 974.5h3v3h-3zM887.8 1102.5h3v3h-3zM887.8 1230.5h3v3h-3zM887.8 1358.5h3v3h-3zM887.8 867.9h3v3h-3zM887.8 995.9h3v3h-3zM887.8 1123.9h3v3h-3zM887.8 1251.9h3v3h-3zM887.8 1379.9h3v3h-3zM887.8 1017.2h3v3h-3zM887.8 889.2h3v3h-3zM887.8 1662.5h3v3h-3zM887.8 2051.7h3v3h-3zM887.8 1799.9h3v3h-3zM887.8 1548h3v3h-3zM887.8 2189.1h3v3h-3zM887.8 1937.2h3v3h-3zM887.8 1685.4h3v3h-3zM887.8 2074.6h3v3h-3zM887.8 1822.8h3v3h-3zM887.8 1570.9h3v3h-3zM887.8 1960.1h3v3h-3zM887.8 1708.3h3v3h-3zM887.8 2097.5h3v3h-3zM887.8 1845.7h3v3h-3zM887.8 1593.8h3v3h-3zM887.8 1983h3v3h-3zM887.8 1731.2h3v3h-3zM887.8 2120.4h3v3h-3zM887.8 1868.5h3v3h-3zM887.8 1616.7h3v3h-3zM887.8 2005.9h3v3h-3zM887.8 1754.1h3v3h-3zM887.8 2143.3h3v3h-3zM887.8 1891.4h3v3h-3zM887.8 1639.6h3v3h-3zM887.8 2028.8h3v3h-3zM887.8 1777h3v3h-3zM887.8 2166.2h3v3h-3zM887.8 1914.3h3v3h-3zM1142.8 639h3v3h-3zM1142.8 127.9h3v3h-3zM1142.8 261.2h3v3h-3zM1142.8 394.5h3v3h-3zM1142.8 527.9h3v3h-3zM1142.8 661.2h3v3h-3zM1142.8 150.1h3v3h-3zM1142.8 283.4h3v3h-3zM1142.8 416.8h3v3h-3zM1142.8 550.1h3v3h-3zM1142.8 683.4h3v3h-3zM1142.8 172.3h3v3h-3zM1142.8 305.6h3v3h-3zM1142.8 439h3v3h-3zM1142.8 572.3h3v3h-3zM1142.8 705.6h3v3h-3zM1142.8 194.5h3v3h-3zM1142.8 327.9h3v3h-3zM1142.8 461.2h3v3h-3zM1142.8 594.5h3v3h-3zM1142.8 727.9h3v3h-3zM1142.8 216.8h3v3h-3zM1142.8 350.1h3v3h-3zM1142.8 483.4h3v3h-3zM1142.8 616.8h3v3h-3zM1142.8 105.6h3v3h-3zM1142.8 239h3v3h-3zM1142.8 372.3h3v3h-3zM1142.8 505.6h3v3h-3zM1142.8 1145.2h3v3h-3zM1142.8 1273.2h3v3h-3zM1142.8 1401.2h3v3h-3zM1142.8 910.5h3v3h-3zM1142.8 1038.5h3v3h-3zM1142.8 1166.5h3v3h-3zM1142.8 1294.5h3v3h-3zM1142.8 1422.5h3v3h-3zM1142.8 931.9h3v3h-3zM1142.8 1059.9h3v3h-3zM1142.8 1187.9h3v3h-3zM1142.8 1315.9h3v3h-3zM1142.8 1443.9h3v3h-3zM1142.8 953.2h3v3h-3zM1142.8 1081.2h3v3h-3zM1142.8 1209.2h3v3h-3zM1142.8 825.2h3v3h-3zM1142.8 1337.2h3v3h-3zM1142.8 1465.2h3v3h-3zM1142.8 846.5h3v3h-3zM1142.8 974.5h3v3h-3zM1142.8 1102.5h3v3h-3zM1142.8 1230.5h3v3h-3zM1142.8 1358.5h3v3h-3zM1142.8 867.9h3v3h-3zM1142.8 995.9h3v3h-3zM1142.8 1123.9h3v3h-3zM1142.8 1251.9h3v3h-3zM1142.8 1379.9h3v3h-3zM1142.8 1017.2h3v3h-3zM1142.8 889.2h3v3h-3zM1142.8 1662.5h3v3h-3zM1142.8 2051.7h3v3h-3zM1142.8 1799.9h3v3h-3zM1142.8 1548h3v3h-3zM1142.8 2189.1h3v3h-3zM1142.8 1937.2h3v3h-3zM1142.8 1685.4h3v3h-3zM1142.8 2074.6h3v3h-3zM1142.8 1822.8h3v3h-3zM1142.8 1570.9h3v3h-3zM1142.8 1960.1h3v3h-3zM1142.8 1708.3h3v3h-3zM1142.8 2097.5h3v3h-3zM1142.8 1845.7h3v3h-3zM1142.8 1593.8h3v3h-3zM1142.8 1983h3v3h-3zM1142.8 1731.2h3v3h-3zM1142.8 2120.4h3v3h-3zM1142.8 1868.5h3v3h-3zM1142.8 1616.7h3v3h-3zM1142.8 2005.9h3v3h-3zM1142.8 1754.1h3v3h-3zM1142.8 2143.3h3v3h-3zM1142.8 1891.4h3v3h-3zM1142.8 1639.6h3v3h-3zM1142.8 2028.8h3v3h-3zM1142.8 1777h3v3h-3zM1142.8 2166.2h3v3h-3zM1142.8 1914.3h3v3h-3zM1397.8 639h3v3h-3zM1397.8 127.9h3v3h-3zM1397.8 261.2h3v3h-3zM1397.8 394.5h3v3h-3zM1397.8 527.9h3v3h-3zM1397.8 661.2h3v3h-3zM1397.8 150.1h3v3h-3zM1397.8 283.4h3v3h-3zM1397.8 416.8h3v3h-3zM1397.8 550.1h3v3h-3zM1397.8 683.4h3v3h-3zM1397.8 172.3h3v3h-3zM1397.8 305.6h3v3h-3zM1397.8 439h3v3h-3zM1397.8 572.3h3v3h-3zM1397.8 705.6h3v3h-3zM1397.8 194.5h3v3h-3zM1397.8 327.9h3v3h-3zM1397.8 461.2h3v3h-3zM1397.8 594.5h3v3h-3zM1397.8 727.9h3v3h-3zM1397.8 216.8h3v3h-3zM1397.8 350.1h3v3h-3zM1397.8 483.4h3v3h-3zM1397.8 616.8h3v3h-3zM1397.8 105.6h3v3h-3zM1397.8 239h3v3h-3zM1397.8 372.3h3v3h-3zM1397.8 505.6h3v3h-3zM1397.8 1145.2h3v3h-3zM1397.8 1273.2h3v3h-3zM1397.8 1401.2h3v3h-3zM1397.8 910.5h3v3h-3zM1397.8 1038.5h3v3h-3zM1397.8 1166.5h3v3h-3zM1397.8 1294.5h3v3h-3zM1397.8 1422.5h3v3h-3zM1397.8 931.9h3v3h-3zM1397.8 1059.9h3v3h-3zM1397.8 1187.9h3v3h-3zM1397.8 1315.9h3v3h-3zM1397.8 1443.9h3v3h-3zM1397.8 953.2h3v3h-3zM1397.8 1081.2h3v3h-3zM1397.8 1209.2h3v3h-3zM1397.8 825.2h3v3h-3zM1397.8 1337.2h3v3h-3zM1397.8 1465.2h3v3h-3zM1397.8 846.5h3v3h-3zM1397.8 974.5h3v3h-3zM1397.8 1102.5h3v3h-3zM1397.8 1230.5h3v3h-3zM1397.8 1358.5h3v3h-3zM1397.8 867.9h3v3h-3zM1397.8 995.9h3v3h-3zM1397.8 1123.9h3v3h-3zM1397.8 1251.9h3v3h-3zM1397.8 1379.9h3v3h-3zM1397.8 1017.2h3v3h-3zM1397.8 889.2h3v3h-3zM1397.8 1662.5h3v3h-3zM1397.8 2051.7h3v3h-3zM1397.8 1799.9h3v3h-3zM1397.8 1548h3v3h-3zM1397.8 2189.1h3v3h-3zM1397.8 1937.2h3v3h-3zM1397.8 1685.4h3v3h-3zM1397.8 2074.6h3v3h-3zM1397.8 1822.8h3v3h-3zM1397.8 1570.9h3v3h-3zM1397.8 1960.1h3v3h-3zM1397.8 1708.3h3v3h-3zM1397.8 2097.5h3v3h-3zM1397.8 1845.7h3v3h-3zM1397.8 1593.8h3v3h-3zM1397.8 1983h3v3h-3zM1397.8 1731.2h3v3h-3zM1397.8 2120.4h3v3h-3zM1397.8 1868.5h3v3h-3zM1397.8 1616.7h3v3h-3zM1397.8 2005.9h3v3h-3zM1397.8 1754.1h3v3h-3zM1397.8 2143.3h3v3h-3zM1397.8 1891.4h3v3h-3zM1397.8 1639.6h3v3h-3zM1397.8 2028.8h3v3h-3zM1397.8 1777h3v3h-3zM1397.8 2166.2h3v3h-3zM1397.8 1914.3h3v3h-3zM1652.8 639h3v3h-3zM1652.8 127.9h3v3h-3zM1652.8 261.2h3v3h-3zM1652.8 394.5h3v3h-3zM1652.8 527.9h3v3h-3zM1652.8 661.2h3v3h-3zM1652.8 150.1h3v3h-3zM1652.8 283.4h3v3h-3zM1652.8 416.8h3v3h-3zM1652.8 550.1h3v3h-3zM1652.8 683.4h3v3h-3zM1652.8 172.3h3v3h-3zM1652.8 305.6h3v3h-3zM1652.8 439h3v3h-3zM1652.8 572.3h3v3h-3zM1652.8 705.6h3v3h-3zM1652.8 194.5h3v3h-3zM1652.8 327.9h3v3h-3zM1652.8 461.2h3v3h-3zM1652.8 594.5h3v3h-3zM1652.8 727.9h3v3h-3zM1652.8 216.8h3v3h-3zM1652.8 350.1h3v3h-3zM1652.8 483.4h3v3h-3zM1652.8 616.8h3v3h-3zM1652.8 105.6h3v3h-3zM1652.8 239h3v3h-3zM1652.8 372.3h3v3h-3zM1652.8 505.6h3v3h-3zM1652.8 1145.2h3v3h-3zM1652.8 1273.2h3v3h-3zM1652.8 1401.2h3v3h-3zM1652.8 910.5h3v3h-3zM1652.8 1038.5h3v3h-3zM1652.8 1166.5h3v3h-3zM1652.8 1294.5h3v3h-3zM1652.8 1422.5h3v3h-3zM1652.8 931.9h3v3h-3zM1652.8 1059.9h3v3h-3zM1652.8 1187.9h3v3h-3zM1652.8 1315.9h3v3h-3zM1652.8 1443.9h3v3h-3zM1652.8 953.2h3v3h-3zM1652.8 1081.2h3v3h-3zM1652.8 1209.2h3v3h-3zM1652.8 825.2h3v3h-3zM1652.8 1337.2h3v3h-3zM1652.8 1465.2h3v3h-3zM1652.8 846.5h3v3h-3zM1652.8 974.5h3v3h-3zM1652.8 1102.5h3v3h-3zM1652.8 1230.5h3v3h-3zM1652.8 1358.5h3v3h-3zM1652.8 867.9h3v3h-3zM1652.8 995.9h3v3h-3zM1652.8 1123.9h3v3h-3zM1652.8 1251.9h3v3h-3zM1652.8 1379.9h3v3h-3zM1652.8 1017.2h3v3h-3zM1652.8 889.2h3v3h-3zM1652.8 1662.5h3v3h-3zM1652.8 2051.7h3v3h-3zM1652.8 1799.9h3v3h-3zM1652.8 1548h3v3h-3zM1652.8 2189.1h3v3h-3zM1652.8 1937.2h3v3h-3zM1652.8 1685.4h3v3h-3zM1652.8 2074.6h3v3h-3zM1652.8 1822.8h3v3h-3zM1652.8 1570.9h3v3h-3zM1652.8 1960.1h3v3h-3zM1652.8 1708.3h3v3h-3zM1652.8 2097.5h3v3h-3zM1652.8 1845.7h3v3h-3zM1652.8 1593.8h3v3h-3zM1652.8 1983h3v3h-3zM1652.8 1731.2h3v3h-3zM1652.8 2120.4h3v3h-3zM1652.8 1868.5h3v3h-3zM1652.8 1616.7h3v3h-3zM1652.8 2005.9h3v3h-3zM1652.8 1754.1h3v3h-3zM1652.8 2143.3h3v3h-3zM1652.8 1891.4h3v3h-3zM1652.8 1639.6h3v3h-3zM1652.8 2028.8h3v3h-3zM1652.8 1777h3v3h-3zM1652.8 2166.2h3v3h-3zM1652.8 1914.3h3v3h-3zM1907.8 639h3v3h-3zM1907.8 127.9h3v3h-3zM1907.8 261.2h3v3h-3zM1907.8 394.5h3v3h-3zM1907.8 527.9h3v3h-3zM1907.8 661.2h3v3h-3zM1907.8 150.1h3v3h-3zM1907.8 283.4h3v3h-3zM1907.8 416.8h3v3h-3zM1907.8 550.1h3v3h-3zM1907.8 683.4h3v3h-3zM1907.8 172.3h3v3h-3zM1907.8 305.6h3v3h-3zM1907.8 439h3v3h-3zM1907.8 572.3h3v3h-3zM1907.8 705.6h3v3h-3zM1907.8 194.5h3v3h-3zM1907.8 327.9h3v3h-3zM1907.8 461.2h3v3h-3zM1907.8 594.5h3v3h-3zM1907.8 727.9h3v3h-3zM1907.8 216.8h3v3h-3zM1907.8 350.1h3v3h-3zM1907.8 483.4h3v3h-3zM1907.8 616.8h3v3h-3zM1907.8 105.6h3v3h-3zM1907.8 239h3v3h-3zM1907.8 372.3h3v3h-3zM1907.8 505.6h3v3h-3zM1907.8 1145.2h3v3h-3zM1907.8 1273.2h3v3h-3zM1907.8 1401.2h3v3h-3zM1907.8 910.5h3v3h-3zM1907.8 1038.5h3v3h-3zM1907.8 1166.5h3v3h-3zM1907.8 1294.5h3v3h-3zM1907.8 1422.5h3v3h-3zM1907.8 931.9h3v3h-3zM1907.8 1059.9h3v3h-3zM1907.8 1187.9h3v3h-3zM1907.8 1315.9h3v3h-3zM1907.8 1443.9h3v3h-3zM1907.8 953.2h3v3h-3zM1907.8 1081.2h3v3h-3zM1907.8 1209.2h3v3h-3zM1907.8 825.2h3v3h-3zM1907.8 1337.2h3v3h-3zM1907.8 1465.2h3v3h-3zM1907.8 846.5h3v3h-3zM1907.8 974.5h3v3h-3zM1907.8 1102.5h3v3h-3zM1907.8 1230.5h3v3h-3zM1907.8 1358.5h3v3h-3zM1907.8 867.9h3v3h-3zM1907.8 995.9h3v3h-3zM1907.8 1123.9h3v3h-3zM1907.8 1251.9h3v3h-3zM1907.8 1379.9h3v3h-3zM1907.8 1017.2h3v3h-3zM1907.8 889.2h3v3h-3zM1907.8 1662.5h3v3h-3zM1907.8 2051.7h3v3h-3zM1907.8 1799.9h3v3h-3zM1907.8 1548h3v3h-3zM1907.8 2189.1h3v3h-3zM1907.8 1937.2h3v3h-3zM1907.8 1685.4h3v3h-3zM1907.8 2074.6h3v3h-3zM1907.8 1822.8h3v3h-3zM1907.8 1570.9h3v3h-3zM1907.8 1960.1h3v3h-3zM1907.8 1708.3h3v3h-3zM1907.8 2097.5h3v3h-3zM1907.8 1845.7h3v3h-3zM1907.8 1593.8h3v3h-3zM1907.8 1983h3v3h-3zM1907.8 1731.2h3v3h-3zM1907.8 2120.4h3v3h-3zM1907.8 1868.5h3v3h-3zM1907.8 1616.7h3v3h-3zM1907.8 2005.9h3v3h-3zM1907.8 1754.1h3v3h-3zM1907.8 2143.3h3v3h-3zM1907.8 1891.4h3v3h-3zM1907.8 1639.6h3v3h-3zM1907.8 2028.8h3v3h-3zM1907.8 1777h3v3h-3zM1907.8 2166.2h3v3h-3zM1907.8 1914.3h3v3h-3zM2162.8 639h3v3h-3zM2162.8 127.9h3v3h-3zM2162.8 261.2h3v3h-3zM2162.8 394.5h3v3h-3zM2162.8 527.9h3v3h-3zM2162.8 661.2h3v3h-3zM2162.8 150.1h3v3h-3zM2162.8 283.4h3v3h-3zM2162.8 416.8h3v3h-3zM2162.8 550.1h3v3h-3zM2162.8 683.4h3v3h-3zM2162.8 172.3h3v3h-3zM2162.8 305.6h3v3h-3zM2162.8 439h3v3h-3zM2162.8 572.3h3v3h-3zM2162.8 705.6h3v3h-3zM2162.8 194.5h3v3h-3zM2162.8 327.9h3v3h-3zM2162.8 461.2h3v3h-3zM2162.8 594.5h3v3h-3zM2162.8 727.9h3v3h-3zM2162.8 216.8h3v3h-3zM2162.8 350.1h3v3h-3zM2162.8 483.4h3v3h-3zM2162.8 616.8h3v3h-3zM2162.8 105.6h3v3h-3zM2162.8 239h3v3h-3zM2162.8 372.3h3v3h-3zM2162.8 505.6h3v3h-3zM2162.8 1145.2h3v3h-3zM2162.8 1273.2h3v3h-3zM2162.8 1401.2h3v3h-3zM2162.8 910.5h3v3h-3zM2162.8 1038.5h3v3h-3zM2162.8 1166.5h3v3h-3zM2162.8 1294.5h3v3h-3zM2162.8 1422.5h3v3h-3zM2162.8 931.9h3v3h-3zM2162.8 1059.9h3v3h-3zM2162.8 1187.9h3v3h-3zM2162.8 1315.9h3v3h-3zM2162.8 1443.9h3v3h-3zM2162.8 953.2h3v3h-3zM2162.8 1081.2h3v3h-3zM2162.8 1209.2h3v3h-3zM2162.8 825.2h3v3h-3zM2162.8 1337.2h3v3h-3zM2162.8 1465.2h3v3h-3zM2162.8 846.5h3v3h-3zM2162.8 974.5h3v3h-3zM2162.8 1102.5h3v3h-3zM2162.8 1230.5h3v3h-3zM2162.8 1358.5h3v3h-3zM2162.8 867.9h3v3h-3zM2162.8 995.9h3v3h-3zM2162.8 1123.9h3v3h-3zM2162.8 1251.9h3v3h-3zM2162.8 1379.9h3v3h-3zM2162.8 1017.2h3v3h-3zM2162.8 889.2h3v3h-3zM2162.8 1662.5h3v3h-3zM2162.8 2051.7h3v3h-3zM2162.8 1799.9h3v3h-3zM2162.8 1548h3v3h-3zM2162.8 2189.1h3v3h-3zM2162.8 1937.2h3v3h-3zM2162.8 1685.4h3v3h-3zM2162.8 2074.6h3v3h-3zM2162.8 1822.8h3v3h-3zM2162.8 1570.9h3v3h-3zM2162.8 1960.1h3v3h-3zM2162.8 1708.3h3v3h-3zM2162.8 2097.5h3v3h-3zM2162.8 1845.7h3v3h-3zM2162.8 1593.8h3v3h-3zM2162.8 1983h3v3h-3zM2162.8 1731.2h3v3h-3zM2162.8 2120.4h3v3h-3zM2162.8 1868.5h3v3h-3zM2162.8 1616.7h3v3h-3zM2162.8 2005.9h3v3h-3zM2162.8 1754.1h3v3h-3zM2162.8 2143.3h3v3h-3zM2162.8 1891.4h3v3h-3zM2162.8 1639.6h3v3h-3zM2162.8 2028.8h3v3h-3zM2162.8 1777h3v3h-3zM2162.8 2166.2h3v3h-3zM2162.8 1914.3h3v3h-3z"/>
<g clip-path="url(#cT)">
<path fill="#000" d="M380 500.8 381 501 382 501.4 383.1 501.5 384.1 499.3 385.1 497.1 386.1 494.9 387.1 497.6 388.1 500.5 389.2 500.8 390.2 499.7 391.2 500.1 392.2 502 393.2 503.8 394.3 505.5 395.3 506.1 396.3 506.7 396.3 540.8 395.3 543.2 394.3 545.6 393.2 547.4 392.2 544.3 391.2 541.1 390.2 538.8 389.2 541.3 388.1 545.3 387.1 549.2 386.1 553.2 385.1 557.2 384.1 561.1 383.1 565.1 382 569 381 568.2 380 563.5ZM400.3 164 401.3 158.3 402.4 151 403.4 145.7 404.4 143.5 405.5 146.9 406.5 150.3 407.6 153.5 408.6 155 409.6 156.6 410.7 157 411.7 156.6 412.7 157 413.8 154.2 414.8 151.3 415.9 148.5 416.9 152.8 417.9 160.6 419 166.6 420 171 420 183 419 185 417.9 187.3 416.9 189.4 415.9 192.5 414.8 193.4 413.8 192 412.7 190.3 411.7 188.7 410.7 188.1 409.6 188.2 408.6 188.2 407.6 187.3 406.5 186.4 405.5 186 404.4 186.2 403.4 184.3 402.4 181.3 401.3 178.5 400.3 176ZM433.5 426 434.5 421.9 435.5 418.3 436.5 419 437.5 418.7 438.5 418.4 439.5 418.3 440.5 418.7 441.5 418.9 442.5 418.7 443.5 418.9 444.5 418.6 445.5 418.1 446.5 418.2 447.5 418.8 448.5 417.2 449.5 414.7 450.5 412.1 451.5 409.6 452.5 410.4 453.5 413.1 454.5 415.7 455.5 415.5 456.5 412.8 457.5 410.1 458.5 410.5 459.5 413.2 460.5 416 461.5 418.8 462.5 419.2 463.5 419.8 464.5 419.3 465.5 419.6 466.5 420.2 467.5 420.8 468.5 424.4 469.5 428 469.5 440 468.5 457.2 467.5 471.5 466.5 467.9 465.5 464.2 464.5 460.6 463.5 457 462.5 455.9 461.5 454 460.5 451.9 459.5 449.8 458.5 449.5 457.5 449.4 456.5 449.7 455.5 450.5 454.5 451.1 453.5 450.2 452.5 449.6 451.5 450.7 450.5 451.8 449.5 450.7 448.5 449.5 447.5 448.9 446.5 449.9 445.5 450.9 444.5 450.3 443.5 450.9 442.5 453.1 441.5 455.3 440.5 457.5 439.5 459.7 438.5 457.6 437.5 455.3 436.5 453 435.5 450.9 434.5 443.9 433.5 438ZM471.5 200 472.5 194.3 473.5 190.3 474.6 184.4 475.6 180.3 476.6 184.4 477.6 188.6 478.7 192.7 479.7 196.8 480.7 197.7 481.7 198.6 482.7 197.8 483.8 196 484.8 194.2 485.8 192.4 486.8 195.4 487.8 198.9 488.9 202.5 489.9 204.1 490.9 203.6 491.9 207.1 493 212.1 494 216.4 495 220 495 232 494 233.3 493 235.1 491.9 237.6 490.9 240.5 489.9 239.9 488.9 237.8 487.8 235.7 486.8 233.9 485.8 234.1 484.8 234.2 483.8 232.2 482.7 230.2 481.7 229.9 480.7 229.8 479.7 228.3 478.7 226.7 477.6 227 476.6 227.8 475.6 228.5 474.6 225.3 473.5 220.1 472.5 215.6 471.5 212ZM505 449.5 506 446 507 441.2 508.1 439.8 509.1 439.2 510.1 440.7 511.1 441.1 512.1 440.3 513.2 440.5 514.2 441.5 515.2 442.4 516.2 441.2 517.2 440 518.3 441.4 519.3 441.7 520.3 440 521.3 438.3 522.3 436.6 523.4 437.8 524.4 439.6 525.4 441.4 526.4 443.3 527.4 443.2 528.5 443.5 529.5 442 530.5 439.5 531.5 437 532.5 434.5 533.6 434.8 534.6 437.4 535.6 440 536.6 442.6 537.6 442.1 538.7 440.3 539.7 445.5 540.7 451.5 540.7 463.5 539.7 468.5 538.7 473.4 537.6 474.5 536.6 478.4 535.6 482.3 534.6 486.1 533.6 490 532.5 493.9 531.5 497.7 530.5 501.6 529.5 497.7 528.5 493.7 527.4 489.7 526.4 485.8 525.4 481.8 524.4 477.8 523.4 474.9 522.3 474.9 521.3 475.4 520.3 478.5 519.3 481.6 518.3 484.7 517.2 487.8 516.2 488.7 515.2 485.5 514.2 482.3 513.2 479.1 512.1 475.9 511.1 472.7 510.1 472.1 509.1 472.3 508.1 472.4 507 472.1 506 466.8 505 461.5ZM542.7 207 543.7 204.7 544.7 201.6 545.7 198.6 546.7 192.7 547.7 190.2 548.7 187.7 549.7 188.2 550.7 192.1 551.7 196.1 552.7 200 553.7 199.1 554.7 200.9 555.7 203.5 556.7 206.2 557.7 205.6 558.7 204.8 559.7 206.2 560.7 204.1 561.7 202 562.7 205.3 563.7 210.2 564.7 217.8 565.7 224 565.7 236 564.7 237.3 563.7 239.2 562.7 241.8 561.7 245 560.7 243.6 559.7 241.6 558.7 239.6 557.7 238.3 556.7 237.9 555.7 237.5 554.7 236.6 553.7 235.6 552.7 234.6 551.7 234.2 550.7 233.9 549.7 232.9 548.7 231.8 547.7 232.2 546.7 232.6 545.7 229.9 544.7 225.7 543.7 222.1 542.7 219ZM577.7 468.7 578.7 464.5 579.7 458.3 580.7 456.3 581.7 457 582.7 459.2 583.8 461.3 584.8 461.9 585.8 462 586.8 462.1 587.8 462.3 588.8 462.2 589.8 462.1 590.8 462 591.8 461.4 592.8 459.5 593.8 457.6 594.8 456.8 595.9 458.8 596.9 460.9 597.9 462.6 598.9 462.2 599.9 461.8 600.9 461.5 601.9 462 602.9 462.5 603.9 463 604.9 463 605.9 462.9 606.9 462.8 608 463.1 609 463.2 610 463 611 462.9 612 463.2 613 467 614 470.7 614 482.7 613 503.5 612 520.5 611 516.5 610 512.5 609 508.6 608 504.6 606.9 504 605.9 504.3 604.9 505.1 603.9 508.7 602.9 512.4 601.9 516 600.9 519.4 599.9 515.6 598.9 511.9 597.9 508.2 596.9 504.4 595.9 500.7 594.8 497 593.8 493.3 592.8 492 591.8 492.2 590.8 492.3 589.8 491.9 588.8 491.6 587.8 491.3 586.8 491.3 585.8 491.4 584.8 491.4 583.8 491.3 582.7 493.1 581.7 494.9 580.7 496.7 579.7 497.8 578.7 488.4 577.7 480.7ZM616 227 617 222.4 618.1 216.4 619.1 212.7 620.1 211.7 621.2 215.5 622.2 219.3 623.3 222.8 624.3 223.7 625.3 223.8 626.4 224.3 627.4 225.9 628.4 227.6 629.5 228.2 630.5 228.6 631.6 228.7 632.6 230.5 633.6 233.9 634.7 239.2 635.7 244 635.7 256 634.7 257.5 633.6 258.6 632.6 261.1 631.6 264 630.5 264.6 629.5 264.1 628.4 261.7 627.4 259.2 626.4 256.9 625.3 257 624.3 256.7 623.3 254.9 622.2 253 621.2 251.5 620.1 250.7 619.1 248 618.1 245 617 242 616 239ZM647.7 485 648.7 481.5 649.7 478 650.7 478 651.7 478 652.7 477.7 653.7 474.3 654.7 471 655.7 467.6 656.7 464.3 657.7 460.9 658.7 457.6 659.7 454.2 660.7 451 661.7 454.4 662.7 457.9 663.7 461.3 664.7 464.8 665.7 468.2 666.7 471.7 667.7 475.1 668.7 478.6 669.7 479.2 670.7 479.2 671.7 479.3 672.7 479.3 673.7 479 674.7 478.8 675.7 479.2 676.7 479.5 677.7 478.6 678.7 476.4 679.7 474.2 680.7 471.9 681.7 470.1 682.7 472.4 683.7 474.8 684.7 482 685.7 487 685.7 499 684.7 505.7 683.7 512.3 682.7 511 681.7 509.8 680.7 508.7 679.7 508.9 678.7 509.2 677.7 509.8 676.7 511.6 675.7 513.4 674.7 513.2 673.7 511.3 672.7 509.4 671.7 511.3 670.7 513.2 669.7 515.2 668.7 515.4 667.7 513.4 666.7 514 665.7 516.9 664.7 519.9 663.7 522.8 662.7 522.8 661.7 519.8 660.7 518.5 659.7 522.4 658.7 526.2 657.7 530 656.7 533.9 655.7 537.7 654.7 541.6 653.7 539.4 652.7 535.4 651.7 531.5 650.7 527.6 649.7 523.6 648.7 508.4 647.7 497ZM687.7 247 688.7 244.8 689.7 242.6 690.7 240.4 691.8 238.3 692.8 237.3 693.8 236.1 694.8 236.1 695.8 237.9 696.8 239.5 697.8 238.6 698.9 237.8 699.9 236.9 700.9 238.2 701.9 238.2 702.9 236.7 703.9 236 704.9 238.2 706 243.4 707 247.1 708 250.3 709 254 709 266 708 267.7 707 269.4 706 271.3 704.9 273.4 703.9 273 702.9 272.2 701.9 271.9 700.9 272.3 699.9 272.6 698.9 271.9 697.8 270.8 696.8 270 695.8 270.4 694.8 270.8 693.8 270.4 692.8 269.4 691.8 269.9 690.7 267.9 689.7 264.9 688.7 261.7 687.7 259ZM721 499 722 490.1 723 484.2 724 487.3 725 489.2 726 487.7 727 488.2 728.1 489.8 729.1 491.4 730.1 491.9 731.1 492.1 732.1 492.5 733.1 492.5 734.1 492.4 735.1 492.4 736.1 491.2 737.1 490 738.1 488.7 739.1 488.3 740.2 489.6 741.2 491 742.2 492.3 743.2 492.8 744.2 492.5 745.2 492.8 746.2 493.2 747.2 493.4 748.2 493.5 749.2 493.5 750.2 493.4 751.2 493.3 752.3 493.4 753.3 493.7 754.3 493.8 755.3 493.9 756.3 497.4 757.3 501 757.3 513 756.3 518 755.3 524.8 754.3 526.6 753.3 528.4 752.3 530.2 751.2 530.1 750.2 528.2 749.2 526.3 748.2 526.5 747.2 528.3 746.2 530.1 745.2 530.2 744.2 528.3 743.2 526.3 742.2 524.4 741.2 523.4 740.2 522.7 739.1 522 738.1 522.2 737.1 523.5 736.1 524.8 735.1 524.2 734.1 522.8 733.1 522.9 732.1 523.7 731.1 523.7 730.1 522.8 729.1 524.3 728.1 526.1 727 527.2 726 525.3 725 523.3 724 521.6 723 523.7 722 518.5 721 511ZM759.3 259 760.3 253.3 761.3 246 762.4 241.2 763.4 239.1 764.4 242.9 765.4 246.7 766.4 248.3 767.5 248.4 768.5 250.4 769.5 250.1 770.5 249 771.5 251 772.5 253.2 773.6 255.4 774.6 257.5 775.6 257.5 776.6 257.4 777.6 260.8 778.7 264.5 779.7 267.9 780.7 271 780.7 283 779.7 285.2 778.7 287.2 777.6 288.4 776.6 288.9 775.6 288.2 774.6 287.7 773.6 287.1 772.5 286.5 771.5 285.9 770.5 285.5 769.5 284.9 768.5 284.2 767.5 283.7 766.4 283.3 765.4 282.8 764.4 282.1 763.4 282 762.4 279.9 761.3 277.3 760.3 274.1 759.3 271ZM791 512 792 507.5 793 500 794 497 795 494.1 796 491.2 797 488.2 798 490.9 799 493.9 800 496.9 801 500 802 503 803 502.2 804 503.2 805 501.7 806 499.8 807 497.9 808 497.4 809 499.4 810 501.4 811 503.5 812 504.3 813 502.6 814 501 815 499.3 816 499.8 817 501.5 818 503.3 819 504.8 820 503.1 821 501.3 822 502.2 823 504.1 824 505.9 825 506.4 826 506.6 827 510.4 828 514 828 526 827 533 826 541.4 825 541.5 824 540 823 538.4 822 536.9 821 537.2 820 538 819 538.3 818 539.7 817 542.7 816 545.8 815 546.9 814 543.8 813 540.7 812 538.8 811 540.5 810 541.3 809 539.5 808 537.6 807 537.6 806 539.6 805 541.4 804 539.3 803 537.3 802 535.2 801 534.5 800 534.6 799 534.6 798 534.5 797 534.7 796 536.2 795 537.7 794 539.2 793 538 792 530.2 791 524ZM830 260 831 258.8 832 257.5 833 256.2 834 254.4 835 254.8 836 255.4 837 255.9 838 255.3 839 254.7 840 255.2 841 251.9 842 248.6 843 245.3 844 242 845 238.7 846 235.4 847 232.9 848 237.8 849 242.4 850 239.3 851 248.2 852 260.4 853 270.7 854 279 854 291 853 292.1 852 293.5 851 295 850 295.7 849 294.3 848 293.5 847 292.7 846 292.5 845 292.3 844 292.1 843 290.7 842 289.3 841 288.6 840 289 839 289.4 838 289.8 837 288.1 836 286.1 835 284.1 834 282.8 833 279.9 832 277.4 831 274.7 830 272ZM862 522 863 515.4 864 506.2 865 503.6 866 501.1 867 503.2 868 505.8 869 508.5 870 511.1 871 509.5 872 507.5 873 509.7 874 511.9 875 514.1 876 515.6 877 515.4 878 514.8 879 511.1 880 507.4 881 503.7 882 500 883 496.2 884 492.5 885 492.9 886 496.8 887 500.6 888 504.4 889 508.2 890 509.8 891 511.6 892 513.6 893 511.7 894 508.7 895 505.7 896 502.6 897 503.2 898 515.1 899 524 899 536 898 540.9 897 547.9 896 550.2 895 552.5 894 552 893 549.6 892 547.2 891 547.7 890 546.9 889 548.3 888 550.3 887 552.3 886 551.1 885 549 884 546.9 883 545.4 882 545.7 881 546 880 545.7 879 545.3 878 546.4 877 548.4 876 550.5 875 552.6 874 551.9 873 549.7 872 547.5 871 547.3 870 548.9 869 550.5 868 551 867 549.3 866 547.7 865 546 864 547.6 863 541.7 862 534ZM901 284 902 277.8 903 272.3 904 268.6 905 266.4 906 269.8 907 273.3 908 276 909 278.2 910 279.8 911 280 912 281 913 280.9 914 279.7 915 278.5 916 277.3 917 279.9 918 283.1 919 287.7 920 294 920 306 919 310 918 312.9 917 314.5 916 314.8 915 311.9 914 310.8 913 309.9 912 309 911 308.3 910 308 909 308 908 307.9 907 307 906 306 905 305.1 904 302.8 903 300.6 902 298.4 901 296ZM931 535 932 531.5 933 528.1 934 526.6 935 524.5 936 522.4 937 520.3 938 518.2 939 519 940 521.2 941 523.4 942 523.7 943 523.3 944 524 945 521 946 518.1 947 515.1 948 512.1 949 513.1 950 516.2 951 519.2 952 522.3 953 525.4 954 527.9 955 528.5 956 527.4 957 526.3 958 527 959 528.2 960 529.4 961 529.3 962 529.1 963 529.1 964 529.4 965 529.7 966 529 967 527.9 968 526.8 969 527.2 970 532.7 971 537 971 549 970 555.5 969 561.6 968 560.7 967 560.1 966 560.3 965 560.4 964 561.8 963 563.2 962 562.2 961 560.9 960 561.9 959 562.2 958 564.9 957 567.6 956 567.7 955 565 954 565.2 953 567.5 952 569.6 951 568.1 950 571.3 949 574.4 948 571.1 947 567.8 946 564.5 945 561.1 944 558.9 943 559.5 942 559.4 941 558.7 940 558 939 558.2 938 558.9 937 561.2 936 563.9 935 566.7 934 569.5 933 569.1 932 556.6 931 547ZM973 296 974 291.3 975 288.1 976 283.1 977 277.9 978 280.9 979 279.2 980 276.1 981 273 982 270.9 983 275.1 984 279.3 985 283.6 986 286.6 987 288.2 988 294.5 989 299.6 990 302.8 991 306 991 318 990 319.4 989 320.9 988 322.4 987 323.4 986 322.5 985 322.4 984 322.3 983 324.9 982 327.9 981 330.8 980 333.8 979 336.7 978 333 977 328.9 976 321.1 975 315 974 310.8 973 308ZM1002.7 548.7 1003.7 545.2 1004.7 541.7 1005.7 541 1006.7 539.6 1007.7 538.3 1008.7 538.3 1009.8 539.7 1010.8 540.1 1011.8 539 1012.8 539.8 1013.8 541 1014.8 540.9 1015.8 541 1016.8 541.9 1017.8 542.4 1018.8 542.4 1019.8 542.3 1020.8 542.4 1021.8 542.5 1022.8 542.6 1023.9 542.7 1024.9 542.6 1025.9 542.7 1026.9 542.8 1027.9 542.9 1028.9 542.9 1029.9 539.8 1030.9 536 1031.9 532.1 1032.9 528.3 1033.9 524.5 1034.9 520.7 1035.9 516.8 1036.9 513 1038 515.5 1039 519.4 1040 523.3 1041 527.3 1042 525.4 1043 536.3 1044 550.7 1044 562.7 1043 579.1 1042 591.7 1041 588 1040 584.4 1039 580.7 1038 577.1 1036.9 574.4 1035.9 573 1034.9 573.1 1033.9 574.7 1032.9 576.2 1031.9 575.1 1030.9 573.5 1029.9 574.4 1028.9 575.6 1027.9 576.9 1026.9 575.7 1025.9 574.4 1024.9 573 1023.9 573.8 1022.8 577.3 1021.8 580.8 1020.8 584.3 1019.8 587.9 1018.8 591.4 1017.8 594.9 1016.8 598.3 1015.8 594.7 1014.8 591.1 1013.8 587.5 1012.8 583.8 1011.8 580.2 1010.8 576.6 1009.8 580.3 1008.7 584.3 1007.7 588.3 1006.7 592.3 1005.7 596.3 1004.7 600.3 1003.7 581.1 1002.7 560.7ZM1046 314 1047 312.4 1048 310.7 1049 309.5 1050 308.4 1051 308.6 1052 308.8 1053 308.9 1054 309.4 1055 310.4 1056 311.4 1057 310.3 1058 308.9 1059 308.8 1060 314 1061 317.3 1062 320.3 1063 324 1063 336 1062 337.2 1061 338.4 1060 339.6 1059 340.8 1058 340.2 1057 339.7 1056 339.6 1055 339.4 1054 338.8 1053 337.7 1052 337.3 1051 338.3 1050 339.3 1049 335.9 1048 331.8 1047 328.5 1046 326ZM1076 558.7 1077 550.4 1078 541.5 1079 544 1080 546.5 1081 549 1082 549 1083 549.9 1084 550.8 1085 551.7 1086 552 1087 551.6 1088 551.7 1089 552.2 1090 551.7 1091 551.1 1092 550.5 1093 550.9 1094 551.5 1095 550.6 1096 551 1097 551.7 1098 550.9 1099 550.1 1100 551 1101 551.9 1102 552.9 1103 553 1104 552.8 1105 551.6 1106 550 1107 548.4 1108 546.8 1109 548.4 1110 549.5 1111 548 1112 549.5 1113 551.2 1114 556.7 1115 560.7 1115 572.7 1114 582 1113 594.9 1112 598.5 1111 602.1 1110 605.6 1109 609.2 1108 607.9 1107 604.2 1106 600.5 1105 596.8 1104 593.2 1103 595.4 1102 594.7 1101 591.7 1100 588.7 1099 589.8 1098 592.7 1097 595.7 1096 592.7 1095 592.2 1094 594.7 1093 596 1092 593.4 1091 590.7 1090 588.1 1089 585.5 1088 582.9 1087 582.5 1086 581.9 1085 583.1 1084 584.7 1083 586.3 1082 587.9 1081 586.3 1080 584.6 1079 583.1 1078 584.7 1077 577.2 1076 570.7ZM1117 356 1118 352.7 1119 348.4 1120 343.6 1121 341.6 1122 344 1123 343.6 1124 341 1125 339.6 1126 342.6 1127 345.5 1128 348.5 1129 349.6 1130 349.3 1131 349 1132 349.7 1133 350.5 1134 352.9 1135 355.1 1136 357.6 1137 360 1137 372 1136 377.4 1135 383.1 1134 386.5 1133 388.5 1132 385.4 1131 382.4 1130 379.3 1129 377.4 1128 377.2 1127 378.1 1126 379 1125 378.5 1124 377.2 1123 378.4 1122 380.6 1121 382.9 1120 381 1119 376 1118 371.4 1117 368ZM1149 578.7 1150 575.1 1151 570.4 1152 569.2 1153 569.4 1154 567.3 1155 565.3 1156 564.7 1157 566.9 1158 569 1159 571.2 1160 571.8 1161 572 1162 571.7 1163 571.3 1164 571.8 1165 572.3 1166 570.7 1167 568.6 1168 566.6 1169 564.6 1170 566.8 1171 568.9 1172 571.1 1173 570.2 1174 566.5 1175 562.9 1176 559.2 1177 555.5 1178 551.9 1179 552.3 1180 556.1 1181 559.9 1182 563.6 1183 567.4 1184 571.2 1185 576.3 1186 580.7 1186 592.7 1185 600.6 1184 608.6 1183 607.3 1182 610.4 1181 613.4 1180 616.4 1179 619.4 1178 617.2 1177 614.1 1176 615 1175 619.2 1174 623.5 1173 627.7 1172 632 1171 636.2 1170 633.6 1169 629.2 1168 624.8 1167 620.5 1166 616.1 1165 611.8 1164 612.7 1163 615.9 1162 619.2 1161 622.4 1160 621.2 1159 617.9 1158 614.6 1157 615.2 1156 612.3 1155 609.4 1154 606.4 1153 603.5 1152 602.1 1151 602.9 1150 596.4 1149 590.7ZM1188 367 1189 363.1 1190 360.3 1191 358.4 1192 357.3 1193 358 1194 359.2 1195 358.3 1196 358.2 1197 359.6 1198 360.3 1199 360 1200 358.2 1201 354.9 1202 351.7 1203 348.5 1204 345.2 1205 342 1206 346.9 1207 355.5 1208 364.6 1209 372 1209 384 1208 385.6 1207 387.3 1206 389.1 1205 390.6 1204 390.1 1203 389.7 1202 389.4 1201 389.1 1200 388.9 1199 389.5 1198 390.1 1197 389.6 1196 388.6 1195 387.7 1194 387.5 1193 387.3 1192 387.1 1191 385.1 1190 383 1189 381 1188 379ZM1221 585 1222 577.9 1223 568.3 1224 568.2 1225 570.8 1226 573.4 1227 575.1 1228 573.3 1229 571.5 1230 572.9 1231 573.7 1232 571.2 1233 568.7 1234 566.2 1235 565 1236 567.6 1237 570.2 1238 572.8 1239 575.4 1240 575.9 1241 576 1242 577.2 1243 578.3 1244 578.5 1245 577.9 1246 577.7 1247 578.4 1248 578.4 1249 577.9 1250 578.4 1251 579 1252 579.6 1253 579.3 1254 579 1255 579.2 1256 579.6 1257 583.4 1258 587 1258 599 1257 604.5 1256 609.8 1255 609.3 1254 609.4 1253 611.6 1252 613.8 1251 615.9 1250 616.7 1249 614.4 1248 612.1 1247 610 1246 611.1 1245 612.1 1244 610.8 1243 613.1 1242 616.2 1241 619.3 1240 621.9 1239 618.7 1238 615.5 1237 612.3 1236 609.1 1235 607.9 1234 607.9 1233 607.7 1232 607.6 1231 609 1230 611 1229 612.9 1228 614.8 1227 613 1226 611 1225 609 1224 610.3 1223 612.1 1222 604.3 1221 597ZM1260 372 1261 365.7 1262 361.2 1263 358.6 1264 357.8 1265 359.8 1266 362.2 1267 364.6 1268 365.2 1269 364.4 1270 363.9 1271 365.5 1272 364.3 1273 361.5 1274 358.7 1275 355.9 1276 359.5 1277 367.3 1278 374.5 1279 380 1279 392 1278 393.3 1277 394.7 1276 396 1275 397.6 1274 397.4 1273 396.7 1272 396.3 1271 396.4 1270 396.5 1269 396.1 1268 395.2 1267 394.5 1266 394.5 1265 394.3 1264 393.5 1263 390.8 1262 388.9 1261 386.6 1260 384ZM1291 595 1292 586.9 1293 579.2 1294 581.8 1295 580.3 1296 577.5 1297 575.2 1298 578.1 1299 581.1 1300 584 1301 587 1302 588 1303 588 1304 587.2 1305 586.3 1306 585.5 1307 586.4 1308 587.4 1309 588.3 1310 588.9 1311 588.9 1312 588.9 1313 589 1314 589.1 1315 589.2 1316 589.1 1317 589 1318 588.9 1319 589.2 1320 589.4 1321 589.5 1322 588.9 1323 588.1 1324 587.2 1325 587 1326 587.9 1327 588.9 1328 589.5 1329 589.4 1330 593.3 1331 597 1331 609 1330 618.5 1329 625.8 1328 623.5 1327 623 1326 625.1 1325 627.2 1324 626.4 1323 624.2 1322 621.9 1321 621.3 1320 620.3 1319 619.3 1318 618.5 1317 618.6 1316 618.4 1315 619.2 1314 621.3 1313 623.4 1312 624.6 1311 622.4 1310 620.2 1309 618.2 1308 619.3 1307 620.5 1306 621.4 1305 620.1 1304 618.8 1303 620.2 1302 622.4 1301 624.6 1300 623.7 1299 621.4 1298 619.1 1297 618.8 1296 620.1 1295 621.3 1294 621.1 1293 619.7 1292 612.7 1291 607ZM1333 382 1334 379.7 1335 378.3 1336 376.8 1337 373.3 1338 372.2 1339 373 1340 375.4 1341 377.8 1342 378.9 1343 378.6 1344 378.2 1345 378.1 1346 379.6 1347 378.3 1348 377.2 1349 382.8 1350 387.4 1351 391.2 1352 394 1352 406 1351 407.2 1350 408.4 1349 409.7 1348 410.8 1347 410 1346 409.3 1345 408.9 1344 408.4 1343 407.6 1342 406.8 1341 406.1 1340 405.7 1339 405.4 1338 405 1337 404 1336 401.5 1335 399.2 1334 396.6 1333 394ZM1364 602 1365 598.5 1366 594.5 1367 594 1368 594.4 1369 595 1370 595.1 1371 593.9 1372 592.7 1373 593.4 1374 594.8 1375 594.1 1376 590.6 1377 587.1 1378 583.7 1379 580.2 1380 576.7 1381 573.3 1382 571.2 1383 574.8 1384 578.4 1385 581.9 1386 585.5 1387 589.1 1388 592.7 1389 594.2 1390 595.6 1391 594.7 1392 593.8 1393 594.3 1394 595.3 1395 596.3 1396 596.5 1397 596.2 1398 596.2 1399 596.6 1400 600.4 1401 604 1401 616 1400 625.3 1399 637.9 1398 641.1 1397 644.4 1396 643.3 1395 639.9 1394 636.5 1393 633.1 1392 630.6 1391 632.5 1390 633 1389 630.9 1388 631.8 1387 634.9 1386 637.9 1385 641 1384 643.1 1383 639.9 1382 636.7 1381 633.6 1380 630.4 1379 629.6 1378 627.7 1377 627.3 1376 629.4 1375 631.4 1374 630.7 1373 628.5 1372 626.4 1371 625.8 1370 626.4 1369 628.8 1368 631.5 1367 634.3 1366 637 1365 626.9 1364 614ZM1403 407 1404 405.4 1405.1 403.6 1406.1 401.8 1407.1 400.6 1408.2 399.3 1409.2 396.9 1410.2 394.4 1411.3 392 1412.3 392.4 1413.3 395.7 1414.3 397.6 1415.4 395.3 1416.4 393 1417.4 391.2 1418.5 394.4 1419.5 397.6 1420.5 399 1421.6 396.6 1422.6 399.1 1423.6 404.4 1424.7 411.4 1425.7 417 1425.7 429 1424.7 433.6 1423.6 439.9 1422.6 443.1 1421.6 444 1420.5 440.3 1419.5 437.7 1418.5 437.1 1417.4 435.1 1416.4 433.2 1415.4 431.5 1414.3 431.2 1413.3 431 1412.3 430.5 1411.3 429.7 1410.2 429.2 1409.2 428.8 1408.2 428.5 1407.1 428.2 1406.1 426 1405.1 423.6 1404 421.3 1403 419ZM1436 612 1437 608.1 1438 603.7 1439 603.8 1440 604.3 1441 604.9 1442 605 1443 603.5 1444 602.1 1445 601.1 1446 599.1 1447 596.9 1448 594.8 1449 596.9 1450 599.1 1451 601.4 1452 603.2 1453 603.7 1454 604.6 1455 605.5 1456 605.4 1457 605.1 1458 605.3 1459 605.2 1460 604.3 1461 603.4 1462 603.3 1463 604.3 1464 605.2 1465 605.7 1466 604.4 1467 603.2 1468 603.3 1469 604.7 1470 606 1471 604.5 1472 602.7 1473 608.4 1474 614 1474 626 1473 633.5 1472 643.5 1471 645.9 1470 645.9 1469 643.4 1468 640.9 1467 640.3 1466 642.6 1465 642.7 1464 640.4 1463 640.8 1462 642 1461 640.1 1460 638.2 1459 639.5 1458 640.3 1457 638.5 1456 636.6 1455 638.1 1454 640.1 1453 641.5 1452 639.4 1451 637.3 1450 635.2 1449 636.1 1448 637.9 1447 639.6 1446 641.4 1445 642.3 1444 640.4 1443 638.6 1442 637.5 1441 639.9 1440 642.4 1439 643.6 1438 641.1 1437 631.3 1436 624ZM1476 417 1477 415.2 1478 412.9 1479 411 1480 409.9 1481 409.8 1482 409.1 1483 409.3 1484 411.2 1485 413 1486 414.5 1487 414.6 1488 413.5 1489 412.3 1490 412.8 1491 415.1 1492 417.4 1493 418.1 1494 420.1 1495 423 1496 426.2 1497 429 1497 441 1496 442.5 1495 443.8 1494 444.8 1493 446 1492 445.4 1491 445.7 1490 446.1 1489 445.4 1488 443.9 1487 442.5 1486 442.6 1485 442.7 1484 442.8 1483 441.7 1482 440.5 1481 440.9 1480 441.3 1479 437.5 1478 434.2 1477 431.4 1476 429ZM1507.7 622 1508.7 618.5 1509.7 612.4 1510.7 609.4 1511.7 606.5 1512.7 603.5 1513.7 600.5 1514.8 597.5 1515.8 600.5 1516.8 603.6 1517.8 606.7 1518.8 609.8 1519.8 612.9 1520.8 612.7 1521.8 613 1522.8 610.4 1523.8 607.9 1524.8 606.2 1525.8 608.8 1526.8 611.5 1527.9 614.1 1528.9 611.5 1529.9 608.3 1530.9 605.1 1531.9 602 1532.9 598.8 1533.9 595.7 1534.9 598.5 1535.9 601.8 1536.9 605 1537.9 605.7 1538.9 603.1 1539.9 604.3 1541 607 1542 609.7 1543 612.4 1544 615.1 1545 614.1 1546 619 1547 624 1547 636 1546 641 1545 646.1 1544 646.4 1543 646.4 1542 646 1541 645.9 1539.9 646.4 1538.9 648.2 1537.9 651.6 1536.9 655 1535.9 658.4 1534.9 661.8 1533.9 665.2 1532.9 666.1 1531.9 662.6 1530.9 659.1 1529.9 655.6 1528.9 652.1 1527.9 648.6 1526.8 646.2 1525.8 648.8 1524.8 651.4 1523.8 654 1522.8 653.1 1521.8 654 1520.8 657.9 1519.8 661.7 1518.8 665.6 1517.8 669.4 1516.8 669.8 1515.8 665.8 1514.8 661.9 1513.7 657.9 1512.7 654.8 1511.7 658 1510.7 654.8 1509.7 651.5 1508.7 641.2 1507.7 634ZM1549 434 1550 429.5 1551 423 1552 414.7 1553 404.4 1554 407.1 1555 411.5 1556 415.8 1557 420.2 1558 424.5 1559 428.8 1560 431.2 1561 429.8 1562 427.1 1563 424.4 1564 421.7 1565 418.9 1566 422.8 1567 428.3 1568 435.9 1569 444 1569 456 1568 457.3 1567 458.5 1566 459.8 1565 461.4 1564 461.3 1563 460.6 1562 459.7 1561 459 1560 458.5 1559 458 1558 457.5 1557 457 1556 456.5 1555 456.2 1554 458.8 1553 461.4 1552 459.8 1551 456.7 1550 451.9 1549 446ZM1577.7 625 1578.7 616.9 1579.7 611.3 1580.7 613.6 1581.7 616 1582.7 617.6 1583.7 617.9 1584.8 618.2 1585.8 617.5 1586.8 616.6 1587.8 615 1588.8 611.6 1589.8 608.2 1590.8 604.8 1591.8 601.4 1592.8 598.6 1593.8 602.2 1594.8 605.7 1595.8 609.2 1596.8 612.7 1597.9 614.7 1598.9 613.5 1599.9 615.6 1600.9 617.8 1601.9 619.2 1602.9 618.8 1603.9 618.1 1604.9 617.5 1605.9 618.3 1606.9 617 1607.9 615.2 1608.9 615 1609.9 616.4 1611 614 1612 611.7 1613 610.2 1614 612.6 1615 615 1616 622.2 1617 627 1617 639 1616 644.1 1615 649.4 1614 649.4 1613 649.1 1612 649.1 1611 649.2 1609.9 649 1608.9 648.7 1607.9 650 1606.9 651.3 1605.9 652.6 1604.9 654.7 1603.9 657.7 1602.9 660.7 1601.9 659.6 1600.9 656.5 1599.9 653.4 1598.9 650.4 1597.9 649.4 1596.8 650.3 1595.8 649.6 1594.8 648.6 1593.8 647.8 1592.8 647.8 1591.8 649.3 1590.8 650.7 1589.8 650.6 1588.8 650.1 1587.8 652.5 1586.8 654.8 1585.8 657.1 1584.8 655.9 1583.7 653.4 1582.7 652.8 1581.7 652.5 1580.7 650.9 1579.7 651.1 1578.7 644.8 1577.7 637ZM1619 450 1620 445.9 1621 442.9 1622 441 1623 439 1624 440.8 1625 441 1626 438.5 1627 435.9 1628 433.4 1629 431.5 1630 434.6 1631 437.8 1632 440.9 1633 444 1634 443.7 1635 443.3 1636 444.6 1637 445.9 1638 446.3 1639 447.7 1640 450 1641 453.4 1642 457 1642 469 1641 470.4 1640 471.9 1639 473.4 1638 474.9 1637 474.7 1636 474.3 1635 473.9 1634 473.7 1633 473.3 1632 473 1631 472.9 1630 472.9 1629 472.8 1628 472.1 1627 472 1626 472 1625 471.8 1624 472.4 1623 473.1 1622 470.7 1621 467.3 1620 464.4 1619 462ZM1652.7 632 1653.7 627 1654.7 620.8 1655.7 618.7 1656.7 615.7 1657.7 612.7 1658.8 612.1 1659.8 615.2 1660.8 618.3 1661.8 621 1662.8 618.8 1663.8 619.1 1664.8 621.3 1665.8 623.6 1666.8 624.9 1667.8 623.5 1668.8 621.3 1669.8 619.1 1670.9 616.8 1671.9 614.6 1672.9 615.7 1673.9 618 1674.9 620.4 1675.9 622.7 1676.9 625.1 1677.9 625.8 1678.9 624.6 1679.9 623.3 1680.9 623.3 1681.9 622.8 1683 620.9 1684 619 1685 619.1 1686 621.1 1687 628.5 1688 634 1688 646 1687 652.3 1686 658 1685 658.8 1684 661.5 1683 664.2 1681.9 664.9 1680.9 662.1 1679.9 659.2 1678.9 657.1 1677.9 656.3 1676.9 655.5 1675.9 655.3 1674.9 656.2 1673.9 657.5 1672.9 658.9 1671.9 658.1 1670.9 656.6 1669.8 655.2 1668.8 655 1667.8 654.9 1666.8 654.8 1665.8 655 1664.8 655.4 1663.8 655.9 1662.8 655.4 1661.8 656.4 1660.8 657.9 1659.8 658.9 1658.8 661 1657.7 664.2 1656.7 667.4 1655.7 670.6 1654.7 672.1 1653.7 656.6 1652.7 644ZM1690 465 1691 462.5 1692 458.7 1693 453.7 1694 448.3 1695 451.1 1696 453.9 1697 456.7 1698 456.3 1699 455.3 1700 456.4 1701 458 1702 457.4 1703 456.1 1704 454.8 1705 456.7 1706 458.7 1707 457.6 1708 456.2 1709 459.7 1710 464.7 1711 468.8 1712 472 1712 484 1711 485.4 1710 487 1709 488.9 1708 490.4 1707 489.7 1706 490 1705 490.8 1704 491.5 1703 490.2 1702 488.8 1701 488.3 1700 489.4 1699 490.6 1698 491.1 1697 489.3 1696 487.5 1695 485.7 1694 485.3 1693 483.2 1692 481.1 1691 479.1 1690 477ZM1721 640 1722 636.1 1723 631.7 1724 632.1 1725 632.6 1726 633.1 1727 633.1 1728 632.3 1729 631.5 1730 632.1 1731 633 1732 633.3 1733 632.3 1734 630.6 1735 628.9 1736 627.2 1737 627 1738 628.8 1739 627.9 1740 625.4 1741 622.8 1742 620.3 1743 620.3 1744 623 1745 625.6 1746 628.3 1747 630.9 1748 633.6 1749 633.1 1750 632 1751 630.9 1752 630.4 1753 631.6 1754 632.7 1755 633.8 1756 633.1 1757 633 1758 633.9 1759 638.3 1760 642 1760 654 1759 660.4 1758 669.5 1757 672.2 1756 674.6 1755 671.8 1754 669 1753 667.2 1752 669.4 1751 671.6 1750 673.8 1749 673.6 1748 676.8 1747 679.9 1746 681.8 1745 678.6 1744 675.3 1743 672 1742 668.8 1741 665.5 1740 664.2 1739 665 1738 665.7 1737 665 1736 664.2 1735 665 1734 666 1733 666.7 1732 665.5 1731 664.4 1730 663.3 1729 662.8 1728 662.8 1727 662.6 1726 662.6 1725 663.2 1724 663.9 1723 664 1722 657.7 1721 652ZM1762 479 1763 476.3 1764 472.9 1765 470.9 1766 469.6 1767 471.4 1768 471.3 1769 470.8 1770 471.6 1771 472.1 1772 471.4 1773 471.4 1774 468.7 1775 466 1776 463.3 1777 460.6 1778 459.5 1779 462.8 1780 466 1781 473 1782 478.5 1783 482.5 1784 485 1784 497 1783 498.7 1782 500.8 1781 502.5 1780 503.6 1779 504.1 1778 504.6 1777 504.3 1776 503.2 1775 502.2 1774 501.4 1773 502 1772 504.7 1771 507.5 1770 510.2 1769 512.8 1768 509.5 1767 506.2 1766 502.9 1765 497.8 1764 495.5 1763 493.1 1762 491ZM1793 646 1794 637.6 1795 625.7 1796 622.3 1797 619 1798 615.8 1799 619.3 1800 622.7 1801 626.2 1802 629.7 1803 633.2 1804 636.7 1805 637 1806 634.9 1807 632.8 1808 632.9 1809 635.1 1810 637.3 1811 638.6 1812 637.2 1813 635.8 1814 635.5 1815 637 1816 638.5 1817 640 1818 639.9 1819 639.1 1820 638.3 1821 638.7 1822 637 1823 635.4 1824 633.7 1825 634.2 1826 636 1827 637.8 1828 636.2 1829 634.3 1830 636.1 1831 643 1832 648 1832 660 1831 677.8 1830 699.8 1829 703.9 1828 708.1 1827 711.1 1826 706.9 1825 702.7 1824 698.4 1823 694.2 1822 690 1821 685.8 1820 681.6 1819 679.4 1818 682 1817 684.7 1816 682 1815 679.2 1814 676.5 1813 673.7 1812 671 1811 669.6 1810 670.2 1809 670.8 1808 670.9 1807 673.2 1806 675.5 1805 676.9 1804 674.5 1803 672.1 1802 670.6 1801 670.1 1800 669 1799 668.4 1798 669.1 1797 669.8 1796 669.2 1795 668.4 1794 663.1 1793 658ZM1834 492 1835 488.6 1836 483.8 1837 480.3 1838 479 1839 482 1840 485 1841 486 1842 486.1 1843 485.7 1844 484.2 1845 482.7 1846 481.3 1847 482.1 1848 484.3 1849 486.4 1850 487.7 1851 484.4 1852 485.4 1853 488.2 1854 492.7 1855 499 1855 511 1854 512.4 1853 513.8 1852 515.2 1851 516.8 1850 516.5 1849 516.1 1848 515.7 1847 515.9 1846 516.6 1845 517.2 1844 517.9 1843 516.7 1842 518.7 1841 521.1 1840 523.5 1839 522.9 1838 519.9 1837 513.9 1836 509.2 1835 506.3 1834 504ZM1866 657 1867 653.3 1868 649.1 1869 649 1870 649.5 1871 650 1872 650.2 1873 646.9 1874 643.5 1875 640.2 1876 636.8 1877 633.4 1878 630.1 1879 626.7 1880 628.1 1881 631.6 1882 635.1 1883 638.5 1884 642 1885 645.4 1886 648.9 1887 648.6 1888 647.2 1889 646.3 1890 647.7 1891 648 1892 646.6 1893 646.7 1894 648.2 1895 649.7 1896 650.1 1897 650.3 1898 648.6 1899 647 1900 647.4 1901 649.1 1902 647.2 1903 653 1904 659 1904 671 1903 677.9 1902 685.1 1901 687.8 1900 690.5 1899 693.1 1898 695.8 1897 696.6 1896 693.8 1895 696.8 1894 700.8 1893 704.8 1892 708.9 1891 705.6 1890 701.5 1889 697.3 1888 693.6 1887 696 1886 692.9 1885 689.8 1884 686.7 1883 684.2 1882 685.6 1881 687.4 1880 691.1 1879 694.8 1878 698.5 1877 702.2 1876 705.9 1875 704.7 1874 700.9 1873 697.1 1872 693.3 1871 695.9 1870 699.6 1869 703.3 1868 707.1 1867 689.9 1866 669ZM1906 507 1907 502.2 1908 498.7 1909 496.5 1910 495.6 1911 498.5 1912 497.4 1913 494.1 1914 490.8 1915 487.4 1916 484.1 1917 481.4 1918 485.4 1919 489.4 1920 493.4 1921 497.4 1922 501.4 1923 503.4 1924 506.6 1925 509.3 1926 511.7 1927 514 1927 526 1926 527.5 1925 529 1924 531.1 1923 534.1 1922 535.1 1921 534.7 1920 533 1919 531.3 1918 530 1917 529.7 1916 529.4 1915 530.2 1914 531.6 1913 533 1912 533.1 1911 531.1 1910 529 1909 525.4 1908 523.6 1907 521.4 1906 519ZM1937 664 1938 659 1939 655.3 1940 655.7 1941 655.5 1942.1 656.4 1943.1 657.2 1944.1 657.3 1945.1 657.4 1946.1 657.4 1947.1 657.5 1948.1 655.4 1949.2 653.2 1950.2 650.9 1951.2 650.3 1952.2 649.1 1953.2 646.4 1954.2 643.7 1955.2 644 1956.2 646.8 1957.2 649.5 1958.3 652.3 1959.3 655.1 1960.3 657.8 1961.3 658.1 1962.3 658.2 1963.3 658 1964.3 657.9 1965.3 657.1 1966.4 653.8 1967.4 650.4 1968.4 647.1 1969.4 643.8 1970.4 640.5 1971.4 643 1972.4 646.4 1973.5 649.8 1974.5 653.2 1975.5 656.6 1976.5 661.8 1977.5 666 1977.5 678 1976.5 683 1975.5 687.9 1974.5 688.2 1973.5 688.8 1972.4 689.4 1971.4 690.9 1970.4 693.7 1969.4 696.6 1968.4 699.4 1967.4 702.2 1966.4 699.2 1965.3 696.3 1964.3 693.4 1963.3 690.4 1962.3 687.5 1961.3 687.2 1960.3 687.2 1959.3 687.1 1958.3 687 1957.2 687.1 1956.2 687.1 1955.2 687.1 1954.2 687.4 1953.2 687.6 1952.2 687.5 1951.2 687.2 1950.2 689.4 1949.2 692.2 1948.1 694.9 1947.1 696.2 1946.1 693.4 1945.1 691.9 1944.1 694.4 1943.1 697 1942.1 696.6 1941 693.9 1940 691.3 1939 688.7 1938 682.7 1937 676ZM1979.5 520 1980.5 518 1981.5 515.1 1982.5 511.4 1983.5 508.1 1984.5 510.2 1985.5 512.3 1986.5 511.4 1987.5 510.9 1988.5 512.7 1989.5 513.7 1990.5 511.8 1991.5 510 1992.5 508.1 1993.5 506.3 1994.5 507.9 1995.5 510.6 1996.5 513.2 1997.5 515.9 1998.5 520.3 1999.5 522.3 2000.5 525.6 2001.5 529 2001.5 541 2000.5 542.3 1999.5 543.7 1998.5 545.1 1997.5 546.5 1996.5 546 1995.5 545.6 1994.5 545.2 1993.5 544.8 1992.5 544.4 1991.5 543.9 1990.5 543.5 1989.5 543.1 1988.5 543.1 1987.5 543.3 1986.5 543.4 1985.5 542.3 1984.5 541.3 1983.5 540.9 1982.5 538.8 1981.5 536.5 1980.5 534.2 1979.5 532ZM2012 670 2013 665.7 2014 661.1 2015 662 2016 662.9 2017 662.7 2018 660.9 2019 659.1 2020 657.4 2021 657.6 2022 659.5 2023 661.3 2024 661.9 2025 662.3 2026 663.1 2027 663.8 2028 663.7 2029 662.8 2030 661.1 2031 659.5 2032 657.8 2033 657.5 2034 659.2 2035 661 2036 662.7 2037 661.5 2038 661.4 2039 660.3 2040 656.9 2041 653.5 2042 650.1 2043 646.7 2044 643.3 2045 646.7 2046 661.1 2047 672 2047 684 2046 690.5 2045 698.9 2044 700.4 2043 704.1 2042 707.7 2041 711.4 2040 715 2039 718.7 2038 715.2 2037 711.5 2036 707.7 2035 703.9 2034 700.2 2033 697.7 2032 696.9 2031 695.5 2030 697.9 2029 700.8 2028 703.7 2027 706.5 2026 705.7 2025 702.7 2024 699.7 2023 696.7 2022 697.1 2021 696.9 2020 694.9 2019 692.9 2018 693.2 2017 694.7 2016 696.1 2015 695 2014 693.5 2013 687.1 2012 682ZM2049 538 2050 534.1 2051 528.6 2052 521.8 2053 519.6 2054 523.1 2055 526.6 2056 530.1 2057 528.9 2058 526.3 2059 523.6 2060 521 2061 521.4 2062 524.6 2063 527.7 2064 530 2065 527.1 2066 524.2 2067 526.6 2068 531.9 2069 538.3 2070 543 2070 555 2069 556.7 2068 559.1 2067 561.6 2066 562.5 2065 560.9 2064 560.6 2063 560.3 2062 560.1 2061 559.9 2060 559.6 2059 559.5 2058 559.6 2057 559.8 2056 559.7 2055 559.1 2054 558.5 2053 558 2052 556.2 2051 554.5 2050 552.4 2049 550ZM2081 672 2082 668.1 2083 663.1 2084 662 2085 662.6 2086 662.2 2087 660.9 2088 660 2089 661.5 2090 662.9 2091 664.3 2092 665.4 2093 665.4 2094 665.6 2095 665.7 2096 665.8 2097 664.4 2098 663 2099 661.6 2100 662.8 2101 664.3 2102 665.1 2103 664.3 2104 663.9 2105 664.9 2106 664.6 2107 663.7 2108 661.1 2109 658.4 2110 655.7 2111 653.1 2112 653.9 2113 656.7 2114 659.4 2115 662.2 2116 664.9 2117 666.6 2118 670.4 2119 674 2119 686 2118 695 2117 703.7 2116 707.4 2115 711.1 2114 714.7 2113 718.4 2112 722.1 2111 721.5 2110 717.7 2109 713.9 2108 710.2 2107 706.4 2106 702.6 2105 698.9 2104 700.8 2103 702.1 2102 700.2 2101 701.1 2100 703.2 2099 705.1 2098 702.8 2097 700.5 2096 698.2 2095 697 2094 698.6 2093 699.2 2092 697.5 2091 696.8 2090 698.5 2089 700.2 2088 701.6 2087 699.8 2086 700.3 2085 703.6 2084 706.9 2083 709.5 2082 695 2081 684ZM2123 545 2124 541.9 2125 539.2 2126 537.4 2127 536.2 2128 534.7 2129 533.2 2130 532.4 2131 533.7 2132 534.9 2133 534.5 2134 532.7 2135 531 2136 529.3 2137 530.8 2138 532.3 2139 533.8 2139 562 2138 562.2 2137 562.6 2136 563 2135 563.2 2134 563.4 2133 564.4 2132 565.3 2131 565.4 2130 564.6 2129 563.9 2128 564.2 2127 564.2 2126 562.8 2125 561.2 2124 559.1 2123 557Z"/>
<path fill="none" stroke="#000" stroke-width="11.8" stroke-linejoin="round" d="M394.3 520 396.8 512 398.3 488 400.3 200 401.8 180 404.8 172 409.3 170M412 177 417 179 420.5 189 432.5 400 435 428 441.5 434M465.5 436 468 428 469.5 404 471.5 236 473 216 476 208 480.5 206M487 226 492 228 495.5 238 504 440 506.5 451.5 513 457.5M536.7 459.5 539.2 451.5 540.7 427.5 542.7 243 544.2 223 547.2 215 551.7 213M557.7 230 562.7 232 566.2 242 576.7 473 579.2 470.7 585.7 476.7M610 478.7 612.5 470.7 614 446.7 616 263 617.5 243 620.5 235 625 233M627.7 250 632.7 252 636.2 262 646.7 483 649.2 487 655.7 493M681.7 495 684.2 487 685.7 463 687.7 283 689.2 263 692.2 255 696.7 253M701 260 706 262 709.5 272 720 500 722.5 501 729 507M753.3 509 755.8 501 757.3 477 759.3 295 760.8 275 763.8 267 768.3 265M772.7 277 777.7 279 781.2 289 790 510 792.5 514 799 520M824 522 826.5 514 828 490 830 296 831.5 276 834.5 268 839 266M846 285 851 287 854.5 297 861 523 863.5 524 870 530M895 532 897.5 524 899 500 901 320 902.5 300 905.5 292 910 290M912 300 917 302 920.5 312 930 543 932.5 537 939 543M967 545 969.5 537 971 513 973 332 974.5 312 977.5 304 982 302M983 312 988 314 991.5 324 1001.7 553 1004.2 550.7 1010.7 556.7M1040 558.7 1042.5 550.7 1044 526.7 1046 350 1047.5 330 1050.5 322 1055 320M1055 330 1060 332 1063.5 342 1075 563 1077.5 560.7 1084 566.7M1111 568.7 1113.5 560.7 1115 536.7 1117 392 1118.5 372 1121.5 364 1126 362M1129 366 1134 368 1137.5 378 1148 583 1150.5 580.7 1157 586.7M1182 588.7 1184.5 580.7 1186 556.7 1188 403 1189.5 383 1192.5 375 1197 373M1201 378 1206 380 1209.5 390 1220 587 1222.5 587 1229 593M1254 595 1256.5 587 1258 563 1260 408 1261.5 388 1264.5 380 1269 378M1271 386 1276 388 1279.5 398 1290 593 1292.5 597 1299 603M1327 605 1329.5 597 1331 573 1333 418 1334.5 398 1337.5 390 1342 388M1344 400 1349 402 1352.5 412 1363 613 1365.5 604 1372 610M1397 612 1399.5 604 1401 580 1403 443 1404.5 423 1407.5 415 1412 413M1417.7 423 1422.7 425 1426.2 435 1435 613 1437.5 614 1444 620M1470 622 1472.5 614 1474 590 1476 453 1477.5 433 1480.5 425 1485 423M1489 435 1494 437 1497.5 447 1506.7 623 1509.2 624 1515.7 630M1543 632 1545.5 624 1547 600 1549 470 1550.5 450 1553.5 442 1558 440M1561 450 1566 452 1569.5 462 1576.7 630 1579.2 627 1585.7 633M1613 635 1615.5 627 1617 603 1619 486 1620.5 466 1623.5 458 1628 456M1634 463 1639 465 1642.5 475 1651.7 640 1654.2 634 1660.7 640M1684 642 1686.5 634 1688 610 1690 501 1691.5 481 1694.5 473 1699 471M1704 478 1709 480 1712.5 490 1720 648 1722.5 642 1729 648M1756 650 1758.5 642 1760 618 1762 515 1763.5 495 1766.5 487 1771 485M1776 491 1781 493 1784.5 503 1792 652 1794.5 648 1801 654M1828 656 1830.5 648 1832 624 1834 528 1835.5 508 1838.5 500 1843 498M1847 505 1852 507 1855.5 517 1865 662 1867.5 659 1874 665M1900 667 1902.5 659 1904 635 1906 543 1907.5 523 1910.5 515 1915 513M1919 520 1924 522 1927.5 532 1936 670 1938.5 666 1945 672M1973.5 674 1976 666 1977.5 642 1979.5 556 1981 536 1984 528 1988.5 526M1993.5 535 1998.5 537 2002 547 2011 677 2013.5 672 2020 678M2043 680 2045.5 672 2047 648 2049 574 2050.5 554 2053.5 546 2058 544M2062 549 2067 551 2070.5 561 2080 677 2082.5 674 2089 680M2115 682 2117.5 674 2119 650 2121 580 2122.5 560 2125.5 552 2130 550"/>
</g>
<g clip-path="url(#cM)">
<path fill="#000" d="M380 1234.9 381 1234.8 382 1234.6 383 1234.6 384 1234.8 385 1234.9 386 1234.9 387 1234.9 388 1234.9 389 1234.9 390 1234.9 391 1234.8 392 1234.7 393 1234.8 394 1234.9 395 1235 396 1234.6 397 1233.7 398 1233 399 1233.8 400 1234.3 401 1233.3 402 1232.3 403 1233.1 404 1234.1 405 1235 406 1235 406 1257.6 405 1258.9 404 1259.2 403 1258 402 1256.7 401 1257 400 1256.5 399 1256 398 1255.6 397 1255.6 396 1255.6 395 1257.9 394 1260.8 393 1263.7 392 1266.6 391 1269.4 390 1269.8 389 1266.9 388 1264 387 1261.1 386 1258.2 385 1256 384 1255.6 383 1255.5 382 1255.6 381 1255.6 380 1255.5ZM409 1041.2 410 1040.5 411 1039.1 412.1 1038.8 413.1 1040.5 414.1 1041.9 415.1 1042.4 416.1 1042.8 417.2 1043.4 418.2 1044.3 419.2 1045.2 420.2 1045.7 421.3 1047.1 422.3 1048.7 423.3 1050.5 423.3 1061.5 422.3 1061 421.3 1060.5 420.2 1060.3 419.2 1060.4 418.2 1060.4 417.2 1060.1 416.1 1058.7 415.1 1057.4 414.1 1056.2 413.1 1055.7 412.1 1054.9 411 1054 410 1053.2 409 1052.2ZM442.7 1247.8 443.7 1245.4 444.7 1242.9 445.8 1243 446.8 1243.1 447.8 1243 448.8 1243 449.9 1243.1 450.9 1243.2 451.9 1243.2 452.9 1243.3 454 1243.3 455 1243.3 456 1243.3 457 1242.7 458.1 1242.1 459.1 1242.3 460.1 1242.8 461.1 1243.2 462.1 1242.9 463.2 1242.5 464.2 1242.1 465.2 1239.8 466.2 1237.5 467.3 1235.2 468.3 1235.9 469.3 1238.2 470.3 1240.5 471.4 1242.8 472.4 1243.2 473.4 1243.2 474.4 1243.2 475.5 1243.3 476.5 1245.5 477.5 1247.8 477.5 1258.8 476.5 1261.4 475.5 1264.5 474.4 1265.2 473.4 1266 472.4 1265.4 471.4 1264.6 470.3 1263.8 469.3 1264.5 468.3 1265.2 467.3 1265 466.2 1264.3 465.2 1265.5 464.2 1268 463.2 1270.8 462.1 1273.6 461.1 1276.3 460.1 1279.1 459.1 1277.9 458.1 1275.1 457 1272.3 456 1269.5 455 1266.8 454 1264.9 452.9 1264.2 451.9 1264.3 450.9 1264.9 449.9 1264.9 448.8 1264.3 447.8 1265 446.8 1266 445.8 1265.6 444.7 1264.6 443.7 1261.4 442.7 1258.8ZM480 1057.5 481 1055.8 482 1055.1 483 1055.2 484 1057.5 485 1059.1 486 1059.8 487 1059.6 488 1057.3 489 1054.9 490 1052.5 491 1050.8 492 1054.9 493 1062.3 494 1067.5 495 1070.5 495 1081.5 494 1080.8 493 1080.3 492 1080.2 491 1079.3 490 1077.9 489 1076.8 488 1075.9 487 1075.1 486 1074.2 485 1073.4 484 1072.5 483 1071.6 482 1070.7 481 1069.7 480 1068.5ZM514.3 1267.8 515.3 1264.4 516.3 1259 517.3 1257 518.3 1258.4 519.3 1256.9 520.3 1253.9 521.3 1251 522.3 1250.2 523.4 1253.2 524.4 1256.1 525.4 1259.1 526.4 1262.1 527.4 1263.1 528.4 1263.1 529.4 1263.2 530.4 1263.3 531.4 1263.1 532.4 1262.9 533.4 1263.1 534.4 1263.3 535.4 1263.3 536.4 1262.8 537.4 1262.3 538.4 1262.1 539.4 1262.6 540.4 1262.3 541.5 1260.6 542.5 1259 543.5 1259.3 544.5 1261 545.5 1262.6 546.5 1263 547.5 1261.6 548.5 1263.9 549.5 1267.8 549.5 1278.8 548.5 1281.9 547.5 1286.6 546.5 1288.3 545.5 1290 544.5 1288.9 543.5 1287.2 542.5 1285.5 541.5 1283.9 540.4 1284.1 539.4 1284.4 538.4 1286.7 537.4 1289 536.4 1291.3 535.4 1292.1 534.4 1289.8 533.4 1287.5 532.4 1285.7 531.4 1286.8 530.4 1286 529.4 1284.8 528.4 1284 527.4 1284.6 526.4 1285.1 525.4 1285.7 524.4 1285.3 523.4 1287.3 522.3 1289.6 521.3 1291.9 520.3 1294.2 519.3 1292 518.3 1289.7 517.3 1287.5 516.3 1288 515.3 1284.2 514.3 1278.8ZM552 1084.5 553 1079.3 554 1076 555.1 1074.7 556.1 1077.9 557.1 1081.2 558.1 1084.4 559.1 1085.8 560.1 1086.4 561.2 1086.9 562.2 1086.9 563.2 1086.9 564.2 1086.9 565.2 1087.8 566.3 1089.2 567.3 1091 568.3 1093.5 568.3 1104.5 567.3 1104.2 566.3 1104 565.2 1103.8 564.2 1103.1 563.2 1102.3 562.2 1101.8 561.2 1101.5 560.1 1101.1 559.1 1100.3 558.1 1099.5 557.1 1098.9 556.1 1098.4 555.1 1097.8 554 1097 553 1096.2 552 1095.5ZM587.7 1287.8 588.7 1284.6 589.7 1282 590.8 1282.6 591.8 1282 592.8 1281.1 593.8 1281.3 594.9 1282.2 595.9 1283 596.9 1283 597.9 1283.1 599 1283.2 600 1283 601 1282.3 602 1281.9 603.1 1282.4 604.1 1281.3 605.1 1280.2 606.1 1280.5 607.1 1281.6 608.2 1282.7 609.2 1282.4 610.2 1280.7 611.2 1279 612.3 1280.3 613.3 1282.1 614.3 1281.6 615.3 1280.2 616.4 1280.6 617.4 1282 618.4 1282.9 619.4 1282.8 620.5 1283 621.5 1285.5 622.5 1287.8 622.5 1298.8 621.5 1301.4 620.5 1303.8 619.4 1303.8 618.4 1304.1 617.4 1304.5 616.4 1304.2 615.3 1303.8 614.3 1304.1 613.3 1304.3 612.3 1304.1 611.2 1303.9 610.2 1303.8 609.2 1303.8 608.2 1303.8 607.1 1304.1 606.1 1304.4 605.1 1304.3 604.1 1304 603.1 1303.8 602 1304 601 1304.2 600 1304.1 599 1303.9 597.9 1304 596.9 1304.5 595.9 1305 594.9 1305.1 593.8 1304.6 592.8 1305.3 591.8 1306.7 590.8 1308 589.7 1309.3 588.7 1303.5 587.7 1298.8ZM625 1101.2 626 1100.8 627 1100.2 628.1 1099.6 629.1 1100.1 630.1 1100.8 631.1 1099.9 632.2 1098.6 633.2 1097.3 634.2 1098.1 635.2 1100.3 636.3 1103.7 637.3 1105.9 638.3 1107.2 638.3 1118.2 637.3 1117.9 636.3 1117.8 635.2 1118.3 634.2 1118.5 633.2 1117.6 632.2 1116.4 631.1 1115.7 630.1 1115.2 629.1 1114.7 628.1 1114.2 627 1113.6 626 1112.9 625 1112.2ZM657.7 1311.2 658.7 1308.8 659.7 1306.6 660.8 1306.7 661.8 1306.2 662.8 1305.8 663.8 1305.3 664.9 1305.8 665.9 1305.6 666.9 1304.9 667.9 1305.5 668.9 1306.2 670 1306.6 671 1306.3 672 1305.9 673 1305.7 674.1 1306 675.1 1306.3 676.1 1305.9 677.1 1305.5 678.1 1305.7 679.2 1306.1 680.2 1306.5 681.2 1305.8 682.2 1304.6 683.3 1304.6 684.3 1305.7 685.3 1306.5 686.3 1306 687.3 1305.5 688.4 1304.8 689.4 1302 690.4 1299.2 691.4 1296.4 692.5 1298.5 693.5 1306.1 694.5 1311.2 694.5 1322.2 693.5 1324.8 692.5 1327.2 691.4 1327.2 690.4 1327.3 689.4 1327.3 688.4 1327.3 687.3 1327.7 686.3 1329.2 685.3 1330.7 684.3 1332.1 683.3 1330.6 682.2 1329.1 681.2 1327.7 680.2 1327.9 679.2 1327.6 678.1 1327.2 677.1 1327.2 676.1 1327.7 675.1 1330.4 674.1 1333.2 673 1335.9 672 1338.7 671 1341.4 670 1341.6 668.9 1338.8 667.9 1336.1 666.9 1333.3 665.9 1330.6 664.9 1328.8 663.8 1331.1 662.8 1333.5 661.8 1335.9 660.8 1338.3 659.7 1336.2 658.7 1328.1 657.7 1322.2ZM697 1121.2 698 1120.8 699 1120.1 700 1119.1 701 1119.6 702 1120.5 703 1120.8 704 1119.4 705 1116.8 706 1114.1 707 1111.5 708 1114.7 709 1119.9 710 1127.2 710 1138.2 709 1138.1 708 1138.1 707 1137.9 706 1137.1 705 1136.4 704 1136 703 1135.6 702 1135.1 701 1134.6 700 1134.2 699 1133.6 698 1132.9 697 1132.2ZM731 1324.5 732 1319.1 733 1312.8 734 1314.7 735.1 1312.8 736.1 1310.9 737.1 1313.4 738.1 1316 739.1 1318.5 740.1 1319.6 741.1 1319 742.2 1318.4 743.2 1318.9 744.2 1319.5 745.2 1319.9 746.2 1318.9 747.2 1318 748.2 1318.4 749.3 1319.3 750.3 1320 751.3 1320 752.3 1319.9 753.3 1319.7 754.3 1319.8 755.3 1319.9 756.4 1319.8 757.4 1319.8 758.4 1319.6 759.4 1319 760.4 1318.4 761.4 1317.9 762.4 1318.6 763.5 1319.2 764.5 1319.8 765.5 1322.2 766.5 1324.5 766.5 1335.5 765.5 1343.7 764.5 1348.8 763.5 1346.6 762.4 1350 761.4 1353.4 760.4 1356.8 759.4 1354.4 758.4 1351 757.4 1347.6 756.4 1346.4 755.3 1346.8 754.3 1345 753.3 1343.3 752.3 1341.6 751.3 1340.6 750.3 1340.6 749.3 1340.7 748.2 1340.8 747.2 1340.9 746.2 1342.3 745.2 1345.5 744.2 1348.7 743.2 1351.8 742.2 1355 741.1 1354.9 740.1 1351.8 739.1 1348.6 738.1 1345.4 737.1 1342.3 736.1 1340.9 735.1 1340.6 734 1340.5 733 1340.5 732 1338.1 731 1335.5ZM769 1137.8 770 1136.3 771 1135 772.1 1134.7 773.1 1135.7 774.1 1136 775.1 1137 776.1 1137.5 777.2 1137.1 778.2 1136.7 779.2 1137.3 780.2 1138.5 781.3 1140.8 782.3 1142.5 783.3 1143.8 783.3 1154.8 782.3 1154.5 781.3 1154.3 780.2 1154.1 779.2 1153.8 778.2 1153.2 777.2 1152.9 776.1 1152.5 775.1 1152 774.1 1151.5 773.1 1151 772.1 1150.9 771 1150.5 770 1149.8 769 1148.8ZM804.3 1337.8 805.3 1334.2 806.3 1331.8 807.3 1333.1 808.3 1333.2 809.3 1333.1 810.3 1333.1 811.3 1333.2 812.3 1332.9 813.4 1331 814.4 1329.1 815.4 1328.3 816.4 1330.2 817.4 1332.1 818.4 1333.3 819.4 1333.1 820.4 1333 821.4 1333.1 822.4 1333.1 823.4 1332.2 824.4 1331.3 825.4 1331.8 826.4 1332.7 827.4 1333.3 828.4 1333.1 829.4 1332.9 830.5 1332.6 831.5 1332.6 832.5 1329.8 833.5 1326.8 834.5 1323.7 835.5 1320.7 836.5 1323 837.5 1331.9 838.5 1337.8 838.5 1348.8 837.5 1351.9 836.5 1355.5 835.5 1355.2 834.5 1354.7 833.5 1354.1 832.5 1354.1 831.5 1354.1 830.5 1353.9 829.4 1353.8 828.4 1354.1 827.4 1354.9 826.4 1355.8 825.4 1357.3 824.4 1360.5 823.4 1363.8 822.4 1367.1 821.4 1370.4 820.4 1373 819.4 1369.8 818.4 1366.5 817.4 1363.2 816.4 1359.9 815.4 1356.7 814.4 1355.5 813.4 1354.7 812.3 1354.8 811.3 1355.5 810.3 1354.8 809.3 1354.1 808.3 1353.8 807.3 1354 806.3 1354.1 805.3 1351.4 804.3 1348.8ZM841 1151.2 842 1150.7 843 1150.1 844.1 1149.7 845.1 1149.3 846.1 1148.2 847.1 1147 848.2 1145.8 849.2 1145.9 850.2 1148.1 851.2 1152.1 852.3 1155.1 853.3 1157.2 853.3 1168.2 852.3 1167.9 851.2 1167.7 850.2 1167.4 849.2 1166.8 848.2 1166.2 847.1 1165.7 846.1 1165.2 845.1 1164.9 844.1 1164.5 843 1163.6 842 1162.9 841 1162.2ZM874.3 1347.8 875.3 1345.2 876.4 1341.8 877.4 1341.1 878.4 1342 879.4 1342.9 880.5 1342.9 881.5 1343 882.5 1343.2 883.5 1340.8 884.6 1338.1 885.6 1335.5 886.6 1332.8 887.6 1332.7 888.7 1335.4 889.7 1338 890.7 1340.7 891.7 1340.4 892.8 1341.1 893.8 1342 894.8 1342.9 895.8 1343 896.9 1342.9 897.9 1343 898.9 1343.1 899.9 1343.3 901 1343.3 902 1343.2 903 1342.2 904 1340.5 905.1 1338.8 906.1 1337.1 907.1 1337.7 908.1 1339.4 909.2 1344 910.2 1347.8 910.2 1358.8 909.2 1363.3 908.1 1366.5 907.1 1366.2 906.1 1367.8 905.1 1369.4 904 1368.6 903 1367 902 1365.4 901 1364.1 899.9 1364.3 898.9 1364.9 897.9 1366 896.9 1367 895.8 1367.2 894.8 1366.1 893.8 1365.1 892.8 1364 891.7 1364.2 890.7 1365 889.7 1365.5 888.7 1364.7 887.6 1363.8 886.6 1363.8 885.6 1364.9 884.6 1366.3 883.5 1367.6 882.5 1366.3 881.5 1364.9 880.5 1364.2 879.4 1365.5 878.4 1366.9 877.4 1367.5 876.4 1366.2 875.3 1361.9 874.3 1358.8ZM912.7 1167.8 913.7 1165.7 914.8 1162.2 915.8 1157.5 916.8 1159.2 917.8 1161.8 918.9 1164.4 919.9 1166.8 920.9 1167.5 921.9 1168.2 923 1169.4 924 1171.8 925 1173.8 925 1184.8 924 1184.5 923 1184.2 921.9 1183.9 920.9 1183.6 919.9 1183.5 918.9 1183 917.8 1182.1 916.8 1181.4 915.8 1181 914.8 1180.3 913.7 1179.5 912.7 1178.8ZM947.7 1361.2 948.7 1358.9 949.7 1356.6 950.8 1356.5 951.8 1356.6 952.8 1356.7 953.8 1356.7 954.9 1356.5 955.9 1356.4 956.9 1356.3 957.9 1356.4 959 1356.6 960 1356.4 961 1356.2 962 1356.4 963.1 1356.6 964.1 1356.6 965.1 1356.3 966.1 1356 967.2 1355.7 968.2 1355.2 969.2 1353.2 970.2 1351.2 971.3 1349.2 972.3 1348.4 973.3 1350.4 974.3 1352.4 975.4 1354.2 976.4 1354.7 977.4 1355.4 978.4 1355.3 979.5 1354.2 980.5 1357.4 981.5 1361.2 981.5 1372.2 980.5 1374.8 979.5 1377.3 978.4 1377.3 977.4 1377.3 976.4 1377.2 975.4 1377.3 974.3 1379.1 973.3 1380.9 972.3 1382.7 971.3 1381.8 970.2 1380 969.2 1378.2 968.2 1378.4 967.2 1379.3 966.1 1379.3 965.1 1378.4 964.1 1377.5 963.1 1377.7 962 1378.3 961 1378.5 960 1377.9 959 1377.4 957.9 1379.4 956.9 1381.3 955.9 1382.3 954.9 1380.3 953.8 1378.4 952.8 1377.7 951.8 1379.3 950.8 1380.8 949.7 1381.9 948.7 1376.4 947.7 1372.2ZM984 1184.5 985.1 1183.4 986.1 1182 987.2 1182.2 988.2 1184 989.3 1185.8 990.4 1186.5 991.4 1187.2 992.5 1188 993.5 1188.8 994.6 1190.2 995.6 1191.9 996.7 1193.5 996.7 1204.5 995.6 1204.1 994.6 1203.8 993.5 1203.2 992.5 1202.1 991.4 1201.4 990.4 1200.7 989.3 1199.9 988.2 1199.1 987.2 1198.3 986.1 1197.4 985.1 1196.4 984 1195.5ZM1017.7 1371.2 1018.7 1368.8 1019.7 1365.9 1020.8 1365.2 1021.8 1364.7 1022.8 1365.3 1023.8 1363.6 1024.9 1361.9 1025.9 1360.2 1026.9 1361.7 1027.9 1363.4 1029 1365.1 1030 1366.4 1031 1366.5 1032 1366.6 1033 1366.7 1034.1 1366.4 1035.1 1366 1036.1 1366 1037.1 1366.3 1038.2 1366.6 1039.2 1366.7 1040.2 1366.6 1041.2 1366.4 1042.2 1366.4 1043.3 1366.6 1044.3 1366.7 1045.3 1366.6 1046.3 1366.6 1047.4 1366.7 1048.4 1366.7 1049.4 1365.6 1050.4 1363.6 1051.5 1361.7 1052.5 1365.8 1053.5 1371.2 1053.5 1382.2 1052.5 1391.9 1051.5 1404.3 1050.4 1402.3 1049.4 1399.2 1048.4 1396.1 1047.4 1392.9 1046.3 1389.8 1045.3 1387.8 1044.3 1387.2 1043.3 1388.2 1042.2 1389.4 1041.2 1390.6 1040.2 1389.6 1039.2 1388.4 1038.2 1388.1 1037.1 1389.3 1036.1 1390.4 1035.1 1390 1034.1 1388.8 1033 1389 1032 1389.5 1031 1388.5 1030 1387.6 1029 1387.2 1027.9 1387.4 1026.9 1387.6 1025.9 1387.7 1024.9 1387.5 1023.8 1387.9 1022.8 1388.3 1021.8 1388.2 1020.8 1387.8 1019.7 1387.6 1018.7 1385.2 1017.7 1382.2ZM1056 1197.8 1057 1197.7 1058 1197.3 1059.1 1196.6 1060.1 1197.2 1061.1 1198.5 1062.2 1199.8 1063.2 1199.8 1064.2 1199.7 1065.2 1199.7 1066.2 1202.5 1067.3 1205.1 1068.3 1207.2 1068.3 1218.2 1067.3 1217.6 1066.2 1217 1065.2 1216.5 1064.2 1216 1063.2 1215.4 1062.2 1214.6 1061.1 1213.6 1060.1 1212.6 1059.1 1211.8 1058 1211 1057 1209.9 1056 1208.8ZM1089.3 1377.8 1090.3 1373.6 1091.4 1370.8 1092.4 1372.1 1093.4 1371.6 1094.4 1370.1 1095.5 1368.8 1096.5 1370.3 1097.5 1371.8 1098.5 1372.3 1099.6 1372.5 1100.6 1372.9 1101.6 1373 1102.6 1372.4 1103.7 1371.7 1104.7 1372 1105.7 1371.8 1106.7 1370.8 1107.8 1369.7 1108.8 1370.5 1109.8 1371.5 1110.8 1371.5 1111.9 1371.4 1112.9 1372.2 1113.9 1373 1114.9 1371.9 1116 1370.7 1117 1369.4 1118 1369.2 1119 1370.5 1120.1 1371.7 1121.1 1371.2 1122.1 1370 1123.1 1369.4 1124.2 1374.1 1125.2 1377.8 1125.2 1388.8 1124.2 1391.9 1123.1 1394.4 1122.1 1393.9 1121.1 1394 1120.1 1394.1 1119 1394 1118 1393.9 1117 1393.8 1116 1394.1 1114.9 1395 1113.9 1395.7 1112.9 1394.7 1111.9 1394.6 1110.8 1396.5 1109.8 1398.3 1108.8 1397.5 1107.8 1395.7 1106.7 1394 1105.7 1393.9 1104.7 1394.6 1103.7 1397 1102.6 1399.4 1101.6 1401.8 1100.6 1401.9 1099.6 1399.5 1098.5 1397.1 1097.5 1394.7 1096.5 1394.2 1095.5 1395.1 1094.4 1397 1093.4 1398.9 1092.4 1400.8 1091.4 1401.3 1090.3 1394.2 1089.3 1388.8ZM1127.7 1212.8 1128.7 1211.1 1129.8 1208.9 1130.8 1204.8 1131.8 1203.8 1132.8 1206.8 1133.8 1209.8 1134.9 1212.3 1135.9 1213.8 1136.9 1215.3 1138 1216.9 1139 1218.5 1140 1220.5 1140 1231.5 1139 1231 1138 1230.6 1136.9 1230.1 1135.9 1229.4 1134.9 1228.8 1133.8 1228.2 1132.8 1227.9 1131.8 1227.6 1130.8 1226.7 1129.8 1225.5 1128.7 1224.6 1127.7 1223.8ZM1161 1391.2 1162 1388.5 1163 1384.9 1164 1384.5 1165.1 1385.4 1166.1 1386.3 1167.1 1385.8 1168.1 1386 1169.1 1386.5 1170.1 1386.7 1171.1 1386.4 1172.2 1385.8 1173.2 1385.4 1174.2 1386 1175.2 1386.6 1176.2 1386.6 1177.2 1386.5 1178.2 1386.3 1179.3 1386.4 1180.3 1385.4 1181.3 1383.7 1182.3 1382.1 1183.3 1380.4 1184.3 1380.2 1185.3 1381.8 1186.4 1383.5 1187.4 1385.2 1188.4 1386 1189.4 1384.9 1190.4 1384.5 1191.4 1385.6 1192.4 1386.7 1193.5 1386.7 1194.5 1386.7 1195.5 1388.9 1196.5 1391.2 1196.5 1402.2 1195.5 1404.7 1194.5 1407.2 1193.5 1407.2 1192.4 1407.2 1191.4 1407.2 1190.4 1407.2 1189.4 1407.2 1188.4 1408 1187.4 1408.8 1186.4 1408.9 1185.3 1408 1184.3 1408.2 1183.3 1408.7 1182.3 1408 1181.3 1407.3 1180.3 1407.6 1179.3 1408 1178.2 1408.5 1177.2 1408.6 1176.2 1408.1 1175.2 1407.6 1174.2 1407.4 1173.2 1408.4 1172.2 1409.4 1171.1 1408.8 1170.1 1407.8 1169.1 1407.9 1168.1 1408.9 1167.1 1409.9 1166.1 1410.8 1165.1 1410.6 1164 1412.6 1163 1414.5 1162 1409.3 1161 1402.2ZM1199 1227.8 1200.1 1227.4 1201.1 1226.7 1202.2 1225.8 1203.2 1226 1204.3 1227.1 1205.3 1228.2 1206.4 1227.9 1207.5 1226.7 1208.5 1225.5 1209.6 1228.6 1210.6 1231.8 1211.7 1233.8 1211.7 1244.8 1210.6 1244.5 1209.6 1244.2 1208.5 1244 1207.5 1243.4 1206.4 1242.9 1205.3 1242.3 1204.3 1241.8 1203.2 1241.3 1202.2 1240.8 1201.1 1240.2 1200.1 1239.5 1199 1238.8ZM1232.7 1397.8 1233.7 1395.4 1234.7 1392.9 1235.8 1392.9 1236.8 1393.1 1237.8 1393.2 1238.8 1393.2 1239.9 1393.1 1240.9 1393.1 1241.9 1392.7 1242.9 1392.2 1244 1392.4 1245 1392.8 1246 1391.5 1247 1388.9 1248 1386.3 1249.1 1385.2 1250.1 1387.8 1251.1 1390.4 1252.1 1392.7 1253.2 1392.4 1254.2 1392.5 1255.2 1392.7 1256.2 1392 1257.2 1391.2 1258.3 1392 1259.3 1391 1260.3 1389.3 1261.3 1389.5 1262.4 1389.6 1263.4 1387.3 1264.4 1385 1265.4 1386.5 1266.5 1388.8 1267.5 1394.3 1268.5 1397.8 1268.5 1408.8 1267.5 1411.4 1266.5 1413.8 1265.4 1413.9 1264.4 1413.9 1263.4 1414 1262.4 1416.3 1261.3 1419.7 1260.3 1423 1259.3 1426.4 1258.3 1429.7 1257.2 1427 1256.2 1423.7 1255.2 1420.3 1254.2 1418.6 1253.2 1421.5 1252.1 1424.5 1251.1 1423.6 1250.1 1420.7 1249.1 1418.6 1248 1420.2 1247 1419.2 1246 1417.6 1245 1416 1244 1414.4 1242.9 1414.4 1241.9 1416.3 1240.9 1419 1239.9 1421.7 1238.8 1421.9 1237.8 1419.2 1236.8 1416.4 1235.8 1416.1 1234.7 1415 1233.7 1411.4 1232.7 1408.8ZM1271 1244.5 1272 1243 1273 1242.3 1274.1 1242.3 1275.1 1242.1 1276.1 1242.3 1277.2 1243.6 1278.2 1244.8 1279.2 1245.9 1280.2 1246.4 1281.2 1247.8 1282.3 1249.1 1283.3 1250.5 1283.3 1261.5 1282.3 1261.2 1281.2 1261 1280.2 1260.7 1279.2 1260.2 1278.2 1259.7 1277.2 1259.3 1276.1 1258.7 1275.1 1258.1 1274.1 1257.5 1273 1257 1272 1256.3 1271 1255.5ZM1304.3 1407.8 1305.3 1405.4 1306.4 1403.1 1307.4 1403.2 1308.4 1403.3 1309.4 1403.3 1310.5 1403.2 1311.5 1403.1 1312.5 1403.2 1313.5 1403.3 1314.6 1403.3 1315.6 1403.2 1316.6 1403.1 1317.6 1403 1318.7 1403.1 1319.7 1403.2 1320.7 1403.2 1321.7 1402.9 1322.8 1402.6 1323.8 1402.8 1324.8 1403 1325.8 1403.1 1326.9 1402.5 1327.9 1402 1328.9 1402.3 1329.9 1402.8 1331 1402.7 1332 1402 1333 1401.4 1334 1401.7 1335.1 1402.4 1336.1 1402.3 1337.1 1401 1338.1 1399.6 1339.2 1403.1 1340.2 1407.8 1340.2 1418.8 1339.2 1422.1 1338.1 1426.3 1337.1 1427.3 1336.1 1426.6 1335.1 1425.6 1334 1424.6 1333 1424.4 1332 1424.3 1331 1424.2 1329.9 1424.5 1328.9 1424.3 1327.9 1424 1326.9 1424.8 1325.8 1425.8 1324.8 1426.8 1323.8 1427.1 1322.8 1426.1 1321.7 1425.2 1320.7 1424.2 1319.7 1424.4 1318.7 1424.9 1317.6 1425.1 1316.6 1424.6 1315.6 1424.3 1314.6 1424.7 1313.5 1425.9 1312.5 1427.7 1311.5 1429.5 1310.5 1430.6 1309.4 1428.8 1308.4 1427 1307.4 1428.1 1306.4 1427.7 1305.3 1422.7 1304.3 1418.8ZM1342.7 1252.8 1343.7 1252.4 1344.8 1251.9 1345.8 1251.6 1346.8 1252.3 1347.8 1252.4 1348.8 1252.6 1349.9 1252.7 1350.9 1253.5 1351.9 1254 1353 1255.1 1354 1256.9 1355 1258.8 1355 1269.8 1354 1269.6 1353 1269.2 1351.9 1268.9 1350.9 1268.4 1349.9 1267.9 1348.8 1267.4 1347.8 1266.9 1346.8 1266.6 1345.8 1266.5 1344.8 1265.9 1343.7 1264.8 1342.7 1263.8ZM1376 1414.5 1377 1412.2 1378 1409.7 1379 1409.4 1380.1 1409.7 1381.1 1410 1382.1 1409.9 1383.1 1409.7 1384.1 1409.6 1385.1 1409.6 1386.1 1409.8 1387.2 1409.7 1388.2 1409.1 1389.2 1408.5 1390.2 1408.5 1391.2 1409.1 1392.2 1409.8 1393.2 1409.9 1394.3 1409.3 1395.3 1408.9 1396.3 1409.5 1397.3 1409.9 1398.3 1409.8 1399.3 1409.7 1400.3 1409.8 1401.4 1409.9 1402.4 1410 1403.4 1409.4 1404.4 1408.6 1405.4 1407.9 1406.4 1408.1 1407.4 1408.9 1408.5 1409.6 1409.5 1409.8 1410.5 1412.2 1411.5 1414.5 1411.5 1425.5 1410.5 1436.5 1409.5 1448 1408.5 1444.6 1407.4 1441.3 1406.4 1437.9 1405.4 1434.6 1404.4 1431.2 1403.4 1430.6 1402.4 1430.7 1401.4 1430.7 1400.3 1430.6 1399.3 1431.5 1398.3 1432.5 1397.3 1432.1 1396.3 1431.1 1395.3 1430.5 1394.3 1430.6 1393.2 1430.9 1392.2 1431 1391.2 1432.4 1390.2 1433.8 1389.2 1433.9 1388.2 1432.5 1387.2 1431 1386.1 1430.5 1385.1 1430.5 1384.1 1430.6 1383.1 1430.7 1382.1 1434 1381.1 1437.2 1380.1 1440.5 1379 1443.7 1378 1447 1377 1435.5 1376 1425.5ZM1414 1269.5 1415 1266.8 1416 1265.5 1417.1 1265.6 1418.1 1268 1419.1 1268.8 1420.1 1268 1421.2 1266.6 1422.2 1265.3 1423.2 1267.1 1424.2 1269.3 1425.2 1271.2 1426.3 1272.3 1427.3 1273.9 1428.3 1275.5 1428.3 1286.5 1427.3 1286.3 1426.3 1286.1 1425.2 1285.8 1424.2 1285.3 1423.2 1284.9 1422.2 1284.5 1421.2 1284 1420.1 1283.6 1419.1 1283.2 1418.1 1282.9 1417.1 1282.5 1416 1281.8 1415 1281.2 1414 1280.5ZM1449.3 1421.2 1450.3 1418.4 1451.3 1415.7 1452.3 1416.1 1453.3 1416.3 1454.3 1416.3 1455.3 1416.4 1456.3 1416.6 1457.3 1415.8 1458.4 1413.7 1459.4 1411.6 1460.4 1410.8 1461.4 1412.9 1462.4 1415 1463.4 1416.7 1464.4 1416.5 1465.4 1415.8 1466.4 1415.2 1467.4 1415.9 1468.4 1416.5 1469.4 1416.3 1470.4 1415.7 1471.4 1415 1472.4 1414.4 1473.4 1415.1 1474.4 1415.2 1475.5 1413.3 1476.5 1411.4 1477.5 1411.3 1478.5 1413.2 1479.5 1415.1 1480.5 1414.7 1481.5 1415.3 1482.5 1418.7 1483.5 1421.2 1483.5 1432.2 1482.5 1441.9 1481.5 1448.2 1480.5 1444.9 1479.5 1441.7 1478.5 1440.3 1477.5 1439.4 1476.5 1438.4 1475.5 1437.5 1474.4 1437.3 1473.4 1437.5 1472.4 1438.5 1471.4 1439.5 1470.4 1438.5 1469.4 1437.5 1468.4 1438 1467.4 1438.2 1466.4 1437.7 1465.4 1437.2 1464.4 1438.1 1463.4 1439.3 1462.4 1440.4 1461.4 1441 1460.4 1439.8 1459.4 1438.7 1458.4 1438.8 1457.3 1438.5 1456.3 1437.9 1455.3 1438.2 1454.3 1439.4 1453.3 1441.6 1452.3 1443.8 1451.3 1446 1450.3 1438.2 1449.3 1432.2ZM1486 1279.5 1487 1277.2 1488 1273.8 1489 1272.4 1490 1274.5 1491 1276.6 1492 1278.6 1493 1279.5 1494 1280 1495 1279.9 1496 1277.2 1497 1274.6 1498 1276.2 1499 1279.8 1500 1285.5 1500 1296.5 1499 1296.3 1498 1296.1 1497 1295.8 1496 1295.5 1495 1295.1 1494 1294.6 1493 1294.2 1492 1294.1 1491 1294 1490 1293.3 1489 1292.6 1488 1292 1487 1291.3 1486 1290.5ZM1521 1431.2 1522 1428.3 1523 1425.9 1524 1426.3 1525 1426.2 1526 1426.4 1527 1426.5 1528 1426.1 1529 1425.8 1530 1425.9 1531 1426.3 1532 1425.4 1533 1423.9 1534 1422.4 1535 1420.9 1536 1421.4 1537 1422.9 1538 1424.3 1539 1425.8 1540 1426.6 1541 1426.4 1542 1426.2 1543 1426.1 1544 1426.3 1545 1426.5 1546 1426.6 1547 1426.3 1548 1425.9 1549 1425.7 1550 1426 1551 1426.3 1552 1426.7 1553 1426.1 1554 1428.2 1555 1431.2 1555 1442.2 1554 1451.9 1553 1458.8 1552 1455.9 1551 1453.1 1550 1450.3 1549 1447.5 1548 1447.2 1547 1447.2 1546 1447.7 1545 1448.5 1544 1449.3 1543 1449.3 1542 1448.5 1541 1447.7 1540 1447.3 1539 1448.2 1538 1449 1537 1448.3 1536 1447.5 1535 1448.6 1534 1450.6 1533 1453.4 1532 1456.2 1531 1459 1530 1461.7 1529 1458.9 1528 1456.2 1527 1453.4 1526 1450.6 1525 1448.5 1524 1449.2 1523 1449 1522 1445.3 1521 1442.2ZM1557.5 1302.5 1558.5 1298.5 1559.6 1293.9 1560.6 1292.4 1561.6 1295.2 1562.6 1298 1563.7 1300.8 1564.7 1302.8 1565.7 1303.2 1566.8 1304 1567.8 1304.3 1568.8 1302.9 1569.9 1301.5 1570.9 1300.8 1571.9 1303.1 1572.9 1306.5 1574 1308 1575 1310.5 1575 1321.5 1574 1321.4 1572.9 1321.1 1571.9 1320.6 1570.9 1320.1 1569.9 1319.9 1568.8 1319.6 1567.8 1319.1 1566.8 1318.4 1565.7 1318 1564.7 1317.5 1563.7 1316.9 1562.6 1316.4 1561.6 1316.3 1560.6 1316.4 1559.6 1315.7 1558.5 1314.4 1557.5 1313.5ZM1591 1434.5 1592 1430.3 1593 1424.5 1594 1423.6 1595.1 1425.3 1596.1 1426.9 1597.1 1428.6 1598.1 1429.5 1599.1 1429.7 1600.1 1429.9 1601.1 1429.8 1602.2 1428.3 1603.2 1426.8 1604.2 1426.3 1605.2 1427.8 1606.2 1428.9 1607.2 1428.7 1608.2 1429.3 1609.3 1429.9 1610.3 1430 1611.3 1429.8 1612.3 1429.6 1613.3 1429.5 1614.3 1429.7 1615.3 1429.9 1616.4 1430 1617.4 1430 1618.4 1430 1619.4 1430 1620.4 1430 1621.4 1430 1622.4 1430 1623.5 1430 1624.5 1429.9 1625.5 1432.1 1626.5 1434.5 1626.5 1445.5 1625.5 1449.4 1624.5 1455.3 1623.5 1457.5 1622.4 1459.8 1621.4 1457.8 1620.4 1455.5 1619.4 1456 1618.4 1458.4 1617.4 1460.8 1616.4 1461.9 1615.3 1459.5 1614.3 1457.1 1613.3 1454.7 1612.3 1452.3 1611.3 1450.7 1610.3 1450.5 1609.3 1450.7 1608.2 1450.8 1607.2 1450.8 1606.2 1450.7 1605.2 1450.9 1604.2 1450.9 1603.2 1450.7 1602.2 1451.4 1601.1 1452.8 1600.1 1454.1 1599.1 1453.4 1598.1 1454.6 1597.1 1456.6 1596.1 1458.6 1595.1 1457 1594 1455 1593 1453.1 1592 1448.6 1591 1445.5ZM1629 1311.2 1630 1310.6 1631.1 1310.3 1632.1 1310.2 1633.2 1310.9 1634.2 1311.4 1635.2 1311.9 1636.3 1312.5 1637.3 1312.3 1638.4 1312 1639.4 1311.7 1640.5 1312.9 1641.5 1314.3 1642.5 1315.7 1643.6 1316.2 1644.6 1317.4 1645.7 1318.9 1646.7 1320.5 1646.7 1331.5 1645.7 1331.1 1644.6 1330.8 1643.6 1330.4 1642.5 1329.8 1641.5 1329.4 1640.5 1329.1 1639.4 1328.8 1638.4 1328.1 1637.3 1327.3 1636.3 1327.4 1635.2 1327.5 1634.2 1326.4 1633.2 1325.2 1632.1 1324.4 1631.1 1323.7 1630 1323 1629 1322.2ZM1661 1441.2 1662 1438.9 1663 1436.3 1664 1435.7 1665.1 1435.8 1666.1 1436.3 1667.1 1436.3 1668.1 1435.8 1669.1 1435.3 1670.1 1435.6 1671.1 1436.1 1672.1 1436.1 1673.2 1434.9 1674.2 1433.8 1675.2 1435 1676.2 1436.2 1677.2 1435.9 1678.2 1435.5 1679.2 1435.7 1680.3 1436.2 1681.3 1436.2 1682.3 1435.9 1683.3 1436.2 1684.3 1436.5 1685.3 1436.5 1686.3 1436.2 1687.4 1435.9 1688.4 1435.9 1689.4 1436.2 1690.4 1436.5 1691.4 1436.7 1692.4 1436 1693.4 1435.3 1694.4 1434.9 1695.5 1435.6 1696.5 1436.3 1697.5 1438.9 1698.5 1441.2 1698.5 1452.2 1697.5 1456.3 1696.5 1462.5 1695.5 1464.7 1694.4 1463.2 1693.4 1461 1692.4 1458.9 1691.4 1459.9 1690.4 1460.4 1689.4 1459.4 1688.4 1458.5 1687.4 1457.7 1686.3 1457.8 1685.3 1458.3 1684.3 1459.6 1683.3 1460.8 1682.3 1459.6 1681.3 1458.3 1680.3 1458.6 1679.2 1458.7 1678.2 1458.2 1677.2 1459.9 1676.2 1461.6 1675.2 1462.3 1674.2 1465.6 1673.2 1469 1672.1 1472.3 1671.1 1469.2 1670.1 1465.9 1669.1 1462.6 1668.1 1459.9 1667.1 1458.7 1666.1 1458.5 1665.1 1458.4 1664 1457.8 1663 1457.3 1662 1454.8 1661 1452.2ZM1701 1324.5 1702 1323.1 1703 1320.8 1704.1 1318.3 1705.1 1319.9 1706.1 1321.2 1707.1 1320.1 1708.1 1321.6 1709.1 1323.4 1710.2 1324.3 1711.2 1324 1712.2 1325 1713.2 1324.9 1714.2 1322.5 1715.2 1320.1 1716.3 1321.6 1717.3 1325.4 1718.3 1330.5 1718.3 1341.5 1717.3 1341.4 1716.3 1341.3 1715.2 1341.1 1714.2 1340.6 1713.2 1340.4 1712.2 1340.1 1711.2 1339.7 1710.2 1339.2 1709.1 1338.8 1708.1 1338.6 1707.1 1338.5 1706.1 1338.4 1705.1 1338 1704.1 1337.5 1703 1337.1 1702 1336.2 1701 1335.5ZM1734.3 1446.2 1735.3 1443.7 1736.4 1441.5 1737.4 1441.2 1738.4 1439.7 1739.4 1438.1 1740.5 1438.1 1741.5 1439.6 1742.5 1441.1 1743.5 1441 1744.6 1440 1745.6 1439 1746.6 1438.8 1747.6 1439.8 1748.7 1440.8 1749.7 1440.5 1750.7 1439.5 1751.7 1438.4 1752.8 1439.3 1753.8 1440.3 1754.8 1439.6 1755.8 1438.4 1756.9 1438.8 1757.9 1440 1758.9 1439.6 1759.9 1438.6 1761 1438.9 1762 1439.8 1763 1440.8 1764 1439.9 1765.1 1438.8 1766.1 1437.7 1767.1 1438.4 1768.1 1439.5 1769.2 1443.3 1770.2 1446.2 1770.2 1457.2 1769.2 1461.4 1768.1 1464.6 1767.1 1463.7 1766.1 1462.8 1765.1 1462.9 1764 1463.8 1763 1464.6 1762 1463.9 1761 1463 1759.9 1463.1 1758.9 1463.5 1757.9 1463.1 1756.9 1462.7 1755.8 1462.3 1754.8 1464.5 1753.8 1467.6 1752.8 1470.7 1751.7 1473.7 1750.7 1475.1 1749.7 1472 1748.7 1468.9 1747.6 1465.9 1746.6 1462.8 1745.6 1462.3 1744.6 1462.2 1743.5 1462.6 1742.5 1462.9 1741.5 1465.5 1740.5 1468.5 1739.4 1471.6 1738.4 1474.7 1737.4 1477.7 1736.4 1476.9 1735.3 1465.7 1734.3 1457.2ZM1772.7 1332.8 1773.7 1331.7 1774.7 1331.1 1775.8 1330.9 1776.8 1330.8 1777.8 1330.7 1778.8 1331.5 1779.8 1332.2 1780.8 1332.2 1781.9 1332.5 1782.9 1333.2 1783.9 1333.8 1784.9 1334.5 1785.9 1334.7 1786.9 1334.9 1788 1336.3 1789 1337.6 1790 1338.8 1790 1349.8 1789 1350.4 1788 1350.4 1786.9 1349.8 1785.9 1348.9 1784.9 1348.6 1783.9 1348.6 1782.9 1348.5 1781.9 1347.8 1780.8 1347.4 1779.8 1347.4 1778.8 1347.1 1777.8 1346.4 1776.8 1345.7 1775.8 1345.6 1774.7 1345.2 1773.7 1344.5 1772.7 1343.8ZM1806 1455.5 1807 1453.2 1808 1450.9 1809 1450.7 1810.1 1450.6 1811.1 1450.8 1812.1 1451 1813.1 1450.9 1814.1 1450.8 1815.1 1450.6 1816.1 1450.7 1817.2 1450.9 1818.2 1450.9 1819.2 1450.8 1820.2 1450.7 1821.2 1450.7 1822.2 1450.7 1823.2 1449.9 1824.3 1449 1825.3 1448.1 1826.3 1448.4 1827.3 1449.3 1828.3 1450.2 1829.3 1449.3 1830.3 1448.3 1831.4 1449 1832.4 1450 1833.4 1450.4 1834.4 1449.2 1835.4 1447.9 1836.4 1446.7 1837.4 1447.2 1838.5 1448.4 1839.5 1449.6 1840.5 1453.1 1841.5 1455.5 1841.5 1466.5 1840.5 1469 1839.5 1472.2 1838.5 1472.9 1837.4 1473.6 1836.4 1473.1 1835.4 1472.5 1834.4 1471.9 1833.4 1472 1832.4 1471.8 1831.4 1471.7 1830.3 1473 1829.3 1474.2 1828.3 1474.4 1827.3 1473.2 1826.3 1471.9 1825.3 1471.8 1824.3 1472.5 1823.2 1473.1 1822.2 1472.5 1821.2 1471.9 1820.2 1471.7 1819.2 1472 1818.2 1472.2 1817.2 1471.9 1816.1 1471.6 1815.1 1472.4 1814.1 1473.3 1813.1 1473.8 1812.1 1472.9 1811.1 1472.5 1810.1 1473.1 1809 1472.8 1808 1472.2 1807 1469.1 1806 1466.5ZM1844 1342.8 1845 1342 1846.1 1341 1847.1 1340.1 1848.2 1337.9 1849.2 1335.7 1850.2 1334.5 1851.3 1337 1852.3 1339 1853.4 1337.9 1854.4 1339.6 1855.5 1341.3 1856.5 1341 1857.5 1340.1 1858.6 1340.6 1859.6 1342.8 1860.7 1344.5 1861.7 1345.5 1861.7 1356.5 1860.7 1356.5 1859.6 1356.6 1858.6 1356.7 1857.5 1356.6 1856.5 1356.5 1855.5 1356.2 1854.4 1356 1853.4 1355.8 1852.3 1355.6 1851.3 1355.5 1850.2 1355.4 1849.2 1355.2 1848.2 1354.9 1847.1 1354.8 1846.1 1354.5 1845 1354.2 1844 1353.8ZM1877.7 1457.5 1878.7 1455.2 1879.7 1452.5 1880.8 1452 1881.8 1450.8 1882.8 1449 1883.8 1447.3 1884.9 1445.6 1885.9 1446.9 1886.9 1448.6 1887.9 1450.3 1889 1452.1 1890 1452.3 1891 1452.7 1892 1452.9 1893 1452.6 1894.1 1452.2 1895.1 1452.1 1896.1 1452.4 1897.1 1452.7 1898.2 1453 1899.2 1453 1900.2 1453 1901.2 1453 1902.2 1452.3 1903.3 1451.6 1904.3 1451.2 1905.3 1451.9 1906.3 1452.7 1907.4 1452.6 1908.4 1452.3 1909.4 1452.5 1910.4 1452.8 1911.5 1453 1912.5 1455.2 1913.5 1457.5 1913.5 1468.5 1912.5 1471.9 1911.5 1474.5 1910.4 1473.9 1909.4 1473.9 1908.4 1474.2 1907.4 1474.5 1906.3 1474.3 1905.3 1473.9 1904.3 1473.6 1903.3 1473.8 1902.2 1474.4 1901.2 1475.1 1900.2 1474.6 1899.2 1474.8 1898.2 1476.8 1897.1 1478.9 1896.1 1477.5 1895.1 1475.4 1894.1 1475.1 1893 1475.1 1892 1474.2 1891 1473.5 1890 1473.5 1889 1474.3 1887.9 1475.2 1886.9 1475.4 1885.9 1474.6 1884.9 1473.7 1883.8 1473.6 1882.8 1473.7 1881.8 1473.9 1880.8 1473.8 1879.7 1473.7 1878.7 1471.1 1877.7 1468.5ZM1916 1354.5 1917 1353.7 1918 1352.6 1919.1 1351.4 1920.1 1351.8 1921.1 1350.5 1922.1 1348.7 1923.1 1346.8 1924.1 1347.7 1925.2 1346.6 1926.2 1343.4 1927.2 1340.2 1928.2 1341.1 1929.2 1344.4 1930.2 1347.7 1931.3 1352.4 1932.3 1354.6 1933.3 1355.5 1933.3 1366.5 1932.3 1366.8 1931.3 1367.4 1930.2 1367.3 1929.2 1366.8 1928.2 1366.7 1927.2 1367.1 1926.2 1367.6 1925.2 1367.5 1924.1 1367.2 1923.1 1367.6 1922.1 1367.7 1921.1 1367.2 1920.1 1366.7 1919.1 1366.2 1918 1366 1917 1365.8 1916 1365.5ZM1949.3 1457.5 1950.3 1455.1 1951.4 1452 1952.4 1451.2 1953.4 1449.3 1954.4 1447.4 1955.5 1445.4 1956.5 1447.2 1957.5 1449.1 1958.5 1451 1959.6 1452.7 1960.6 1451.8 1961.6 1450.2 1962.6 1448.6 1963.7 1447 1964.7 1446.7 1965.7 1448.3 1966.7 1449.9 1967.8 1451.5 1968.8 1452 1969.8 1452.5 1970.8 1452.9 1971.9 1451.3 1972.9 1448.6 1973.9 1445.8 1974.9 1443.1 1976 1444.5 1977 1447.3 1978 1450 1979 1452.7 1980.1 1452.8 1981.1 1452.2 1982.1 1451.6 1983.1 1452.3 1984.2 1455.2 1985.2 1457.5 1985.2 1468.5 1984.2 1471.7 1983.1 1474.4 1982.1 1474 1981.1 1473.7 1980.1 1474.2 1979 1474.7 1978 1474.5 1977 1474 1976 1473.5 1974.9 1474.4 1973.9 1475.9 1972.9 1477.2 1971.9 1475.6 1970.8 1474 1969.8 1473.5 1968.8 1473.8 1967.8 1474.4 1966.7 1474.4 1965.7 1475.4 1964.7 1477.5 1963.7 1479.5 1962.6 1477.8 1961.6 1475.8 1960.6 1473.7 1959.6 1473.9 1958.5 1474.2 1957.5 1474.5 1956.5 1474.2 1955.5 1473.9 1954.4 1474.4 1953.4 1475.1 1952.4 1475.6 1951.4 1474.9 1950.3 1471.5 1949.3 1468.5ZM1987.7 1367.8 1988.7 1367 1989.7 1365.9 1990.7 1365 1991.7 1365.5 1992.7 1366 1993.7 1365 1994.7 1364.1 1995.7 1363.2 1996.7 1363.1 1997.7 1364.3 1998.7 1365.5 1999.7 1366.7 2000.7 1366 2001.7 1365.3 2002.7 1364.6 2003.7 1365.4 2004.7 1367.7 2005.7 1369.4 2006.7 1370.5 2006.7 1381.5 2005.7 1381.7 2004.7 1381.7 2003.7 1381.7 2002.7 1381.4 2001.7 1381.3 2000.7 1381.2 1999.7 1381.1 1998.7 1380.9 1997.7 1380.7 1996.7 1380.9 1995.7 1381.1 1994.7 1381.3 1993.7 1381.3 1992.7 1380.8 1991.7 1380.2 1990.7 1379.8 1989.7 1379.5 1988.7 1379.1 1987.7 1378.8ZM2021 1457.5 2022 1455.2 2023 1452.9 2024 1452.8 2025.1 1452.9 2026.1 1453 2027.1 1453 2028.1 1452.8 2029.1 1452.4 2030.1 1451.9 2031.1 1452.3 2032.1 1452.4 2033.2 1450.8 2034.2 1449.2 2035.2 1447.6 2036.2 1447.6 2037.2 1449.2 2038.2 1450.8 2039.2 1451 2040.3 1451.5 2041.3 1452.3 2042.3 1453 2043.3 1451.3 2044.3 1449.6 2045.3 1447.9 2046.3 1448.4 2047.4 1450.1 2048.4 1451.7 2049.4 1451.1 2050.4 1450 2051.4 1450.5 2052.4 1451.6 2053.4 1452.7 2054.4 1452.9 2055.5 1452.5 2056.5 1452.1 2057.5 1454.9 2058.5 1457.5 2058.5 1468.5 2057.5 1471.1 2056.5 1473.7 2055.5 1473.9 2054.4 1473.8 2053.4 1475.3 2052.4 1476.9 2051.4 1478.6 2050.4 1478.4 2049.4 1476.8 2048.4 1475.1 2047.4 1474.5 2046.3 1474 2045.3 1473.5 2044.3 1474.4 2043.3 1477.1 2042.3 1479.8 2041.3 1482.5 2040.3 1485.2 2039.2 1487.9 2038.2 1487.6 2037.2 1484.9 2036.2 1482.2 2035.2 1479.5 2034.2 1476.8 2033.2 1474.1 2032.1 1474 2031.1 1474.9 2030.1 1475.2 2029.1 1474.3 2028.1 1473.5 2027.1 1473.5 2026.1 1473.5 2025.1 1473.7 2024 1473.9 2023 1473.7 2022 1471 2021 1468.5ZM2061 1381.2 2062 1373.5 2063 1368 2064.1 1365.1 2065.1 1368.3 2066.1 1371.5 2067.1 1374.7 2068.1 1375 2069.1 1375.5 2070.2 1374.3 2071.2 1371.5 2072.2 1368.7 2073.2 1365.9 2074.2 1363.1 2075.2 1365 2076.3 1371.8 2077.3 1377.1 2078.3 1380.5 2078.3 1391.5 2077.3 1391.7 2076.3 1392 2075.2 1392.4 2074.2 1392.3 2073.2 1392.3 2072.2 1392.7 2071.2 1393.2 2070.2 1393.5 2069.1 1393.1 2068.1 1392.7 2067.1 1392.5 2066.1 1392.5 2065.1 1392.6 2064.1 1392.7 2063 1392.5 2062 1392.3 2061 1392.2ZM2091 1457.5 2092 1455 2093 1452.4 2094 1452.6 2095 1452.9 2096 1452.6 2097 1452.1 2098 1451.5 2099 1451.4 2100 1452 2101.1 1450.4 2102.1 1448.3 2103.1 1446.8 2104.1 1448.9 2105.1 1450.9 2106.1 1449.6 2107.1 1447.8 2108.1 1446.4 2109.1 1448.2 2110.1 1450 2111.1 1451.8 2112.1 1452.9 2113.1 1452.7 2114.1 1452.1 2115.1 1451.5 2116.1 1451.1 2117.1 1451.6 2118.1 1452.2 2119.1 1452.8 2120.1 1452.5 2121.2 1452.2 2122.2 1452.3 2123.2 1452.6 2124.2 1451.9 2125.2 1450.6 2126.2 1449.3 2127.2 1450.1 2128.2 1451.4 2129.2 1455.1 2130.2 1457.5 2130.2 1468.5 2129.2 1471 2128.2 1473.5 2127.2 1473.6 2126.2 1473.8 2125.2 1473.6 2124.2 1473.5 2123.2 1474 2122.2 1475.9 2121.2 1477.9 2120.1 1479.5 2119.1 1477.5 2118.1 1475.5 2117.1 1476.9 2116.1 1478.5 2115.1 1479.8 2114.1 1478.3 2113.1 1476.7 2112.1 1476.8 2111.1 1477.9 2110.1 1476.8 2109.1 1475.7 2108.1 1475.9 2107.1 1477.6 2106.1 1479.2 2105.1 1479.2 2104.1 1477.5 2103.1 1475.8 2102.1 1474.1 2101.1 1473.7 2100 1473.8 2099 1473.7 2098 1473.6 2097 1473.5 2096 1475.2 2095 1477 2094 1478.9 2093 1480.7 2092 1475.2 2091 1468.5Z"/>
<path fill="none" stroke="#000" stroke-width="11.3" stroke-linejoin="round" d="M403 1246 405.5 1240 406.5 1220 409 1068.7 410.5 1053.7 413.5 1047.7 417 1047.7 421.8 1057 423.8 1064 439.7 1241.7 442.7 1251.3 448.7 1253.3M474 1254.3 476.5 1248.3 477.5 1228.3 480 1085 481.5 1070 484.5 1064 488 1064 493.5 1077 495.5 1084 511.3 1261.7 514.3 1271.3 520.3 1273.3M546 1274.3 548.5 1268.3 549.5 1248.3 552 1112 553.5 1097 556.5 1091 560 1091 566.8 1100 568.8 1107 584.7 1285 587.7 1291.3 593.7 1293.3M619 1294.3 621.5 1288.3 622.5 1268.3 625 1128.7 626.5 1113.7 629.5 1107.7 633 1107.7 636.8 1113.7 638.8 1120.7 654.7 1301.7 657.7 1314.7 663.7 1316.7M691 1317.7 693.5 1311.7 694.5 1291.7 697 1148.7 698.5 1133.7 701.5 1127.7 705 1127.7 708.5 1133.7 710.5 1140.7 728 1318.3 731 1328 737 1330M763 1331 765.5 1325 766.5 1305 769 1165.3 770.5 1150.3 773.5 1144.3 777 1144.3 781.8 1150.3 783.8 1157.3 801.3 1335 804.3 1341.3 810.3 1343.3M835 1344.3 837.5 1338.3 838.5 1318.3 841 1178.7 842.5 1163.7 845.5 1157.7 849 1157.7 851.8 1163.7 853.8 1170.7 871.3 1345 874.3 1351.3 880.3 1353.3M906.7 1354.3 909.2 1348.3 910.2 1328.3 912.7 1195.3 914.2 1180.3 917.2 1174.3 920.7 1174.3 923.5 1180.3 925.5 1187.3 944.7 1361.7 947.7 1364.7 953.7 1366.7M978 1367.7 980.5 1361.7 981.5 1341.7 984 1212 985.5 1197 988.5 1191 992 1191 995.2 1200 997.2 1207 1014.7 1368.3 1017.7 1374.7 1023.7 1376.7M1050 1377.7 1052.5 1371.7 1053.5 1351.7 1056 1225.3 1057.5 1210.3 1060.5 1204.3 1064 1204.3 1066.8 1213.7 1068.8 1220.7 1086.3 1375 1089.3 1381.3 1095.3 1383.3M1121.7 1384.3 1124.2 1378.3 1125.2 1358.3 1127.7 1240.3 1129.2 1225.3 1132.2 1219.3 1135.7 1219.3 1138.5 1227 1140.5 1234 1158 1385 1161 1394.7 1167 1396.7M1193 1397.7 1195.5 1391.7 1196.5 1371.7 1199 1255.3 1200.5 1240.3 1203.5 1234.3 1207 1234.3 1210.2 1240.3 1212.2 1247.3 1229.7 1395 1232.7 1401.3 1238.7 1403.3M1265 1404.3 1267.5 1398.3 1268.5 1378.3 1271 1272 1272.5 1257 1275.5 1251 1279 1251 1281.8 1257 1283.8 1264 1301.3 1401.7 1304.3 1411.3 1310.3 1413.3M1336.7 1414.3 1339.2 1408.3 1340.2 1388.3 1342.7 1280.3 1344.2 1265.3 1347.2 1259.3 1350.7 1259.3 1353.5 1265.3 1355.5 1272.3 1373 1411.7 1376 1418 1382 1420M1408 1421 1410.5 1415 1411.5 1395 1414 1297 1415.5 1282 1418.5 1276 1422 1276 1426.8 1282 1428.8 1289 1446.3 1418.3 1449.3 1424.7 1455.3 1426.7M1480 1427.7 1482.5 1421.7 1483.5 1401.7 1486 1307 1487.5 1292 1490.5 1286 1494 1286 1498.5 1292 1500.5 1299 1518 1428.3 1521 1434.7 1527 1436.7M1551.5 1437.7 1554 1431.7 1555 1411.7 1557.5 1330 1559 1315 1562 1309 1565.5 1309 1573.5 1317 1575.5 1324 1588 1428.3 1591 1438 1597 1440M1623 1441 1625.5 1435 1626.5 1415 1629 1338.7 1630.5 1323.7 1633.5 1317.7 1637 1317.7 1645.2 1327 1647.2 1334 1658 1438.3 1661 1444.7 1667 1446.7M1695 1447.7 1697.5 1441.7 1698.5 1421.7 1701 1352 1702.5 1337 1705.5 1331 1709 1331 1716.8 1337 1718.8 1344 1731.3 1445 1734.3 1449.7 1740.3 1451.7M1766.7 1452.7 1769.2 1446.7 1770.2 1426.7 1772.7 1360.3 1774.2 1345.3 1777.2 1339.3 1780.7 1339.3 1788.5 1345.3 1790.5 1352.3 1803 1455 1806 1459 1812 1461M1838 1462 1840.5 1456 1841.5 1436 1844 1370.3 1845.5 1355.3 1848.5 1349.3 1852 1349.3 1860.2 1352 1862.2 1359 1874.7 1457 1877.7 1461 1883.7 1463M1910 1464 1912.5 1458 1913.5 1438 1916 1382 1917.5 1367 1920.5 1361 1924 1361 1931.8 1362 1933.8 1369 1946.3 1457 1949.3 1461 1955.3 1463M1981.7 1464 1984.2 1458 1985.2 1438 1987.7 1395.3 1989.2 1380.3 1992.2 1374.3 1995.7 1374.3 2005.2 1377 2007.2 1384 2018 1457 2021 1461 2027 1463M2055 1464 2057.5 1458 2058.5 1438 2061 1408.7 2062.5 1393.7 2065.5 1387.7 2069 1387.7 2076.8 1387 2078.8 1394 2088 1457 2091 1461 2097 1463M2126.7 1464 2129.2 1458 2130.2 1438 2132.7 1420 2134 1404 2137 1398 2141 1397"/>
</g>
<g clip-path="url(#cB)">
<path fill="#000" d="M380 2184.7 381 2184.6 382 2184.6 383 2184.6 384 2184.7 385 2184.7 386 2184.7 387 2184.7 388 2184.7 389 2184.7 390 2184.5 391 2184.4 392 2184.5 393 2184.6 394 2184.5 395 2184.4 396 2184.5 397 2184.6 398 2184.7 399 2184.7 400 2184.6 401 2184.5 402 2184.5 403 2184.6 404 2184.7 405 2184.6 406 2184.6 407 2184.5 408 2184.6 409 2184.6 410 2184.7 411 2184.7 412 2184.7 413 2184.7 414 2184.6 415 2184.5 416 2184.3 417 2184.4 418 2184.6 419 2184.7 420 2184.6 421 2184.5 422 2184.6 423 2184.6 424 2184.7 425 2184.7 426 2184.7 427 2184.7 428 2184.7 429 2184.7 430 2184.6 431 2184.7 432 2184.6 433 2184.5 434 2184.6 435 2184.7 436 2184.7 437 2184.7 438 2184.7 439 2184.6 440 2184.7 441 2184.7 442 2184.6 443 2184.6 444 2184.6 445 2184.6 446 2184.7 447 2184.7 448 2184.7 449 2184.6 450 2184.5 451 2184.5 452 2184.6 453 2184.7 454 2184.4 455 2184.1 456 2184.3 457 2184.6 458 2184.6 459 2184.6 460 2184.6 461 2184.6 462 2184.5 463 2184.3 464 2184.2 465 2184.4 466 2184.5 467 2184.7 468 2184.7 469 2184.7 470 2184.7 471 2184.7 472 2184.7 473 2184.6 474 2184.6 475 2184.6 476 2184.7 477 2184.7 478 2184.6 479 2184.5 480 2184.6 481 2184.6 482 2184.6 483 2184.5 484 2184.4 485 2184.5 486 2184.6 487 2184.6 488 2184.7 489 2184.6 490 2184.4 491 2184.5 492 2184.6 493 2184.5 494 2184.4 495 2184.5 496 2184.6 497 2184.7 498 2184.7 499 2184.6 500 2184.6 501 2184.7 502 2184.7 503 2184.3 504 2183.7 505 2183.9 506 2184.4 507 2184.7 508 2184.6 509 2184.5 510 2184.6 511 2184.6 512 2184.5 513 2184.4 514 2184.3 515 2184.4 516 2184.6 517 2184.7 518 2184.6 519 2184.6 520 2184.6 521 2184.6 522 2184.5 523 2184.4 524 2184.5 525 2184.6 526 2184.7 527 2184.7 528 2184.7 529 2184.7 530 2184.2 531 2183.2 532 2182.1 533 2181.1 534 2182.2 535 2183.2 536 2184.3 537 2184.4 538 2184.5 539 2184.6 540 2184.3 541 2183.8 542 2184.2 543 2184.6 544 2184.4 545 2184.4 546 2184.6 547 2184.4 548 2184.2 549 2184.4 550 2184.7 551 2184.5 552 2184.3 553 2184.4 554 2184.6 555 2184.7 556 2184.3 557 2183.9 558 2183.5 559 2183.5 560 2184 561 2184.4 562 2184.5 563 2184.4 564 2184.2 565 2184.3 566 2184.5 567 2184.6 568 2184.4 569 2184.1 570 2184.2 571 2184.5 572 2184.7 573 2184.6 574 2184.6 575 2184.6 576 2184.7 577 2184.7 578 2184.6 579 2184.5 580 2184.6 581 2184.7 582 2184.6 583 2184.6 584 2184.5 585 2184.6 586 2184.6 587 2184.5 588 2184.5 589 2184.6 590 2184.7 591 2184.6 592 2184.5 593 2184.3 594 2184.5 595 2184.7 596 2184.7 597 2184.7 598 2184.6 599 2184.5 600 2184.6 601 2184.7 602 2184.6 603 2184.5 604 2184.4 605 2184.6 606 2184.7 607 2184.7 608 2184.7 609 2184.6 610 2184.7 611 2184.7 612 2184.6 613 2184.6 614 2184.6 615 2184.7 616 2184.7 617 2184.6 618 2184.7 619 2184.7 620 2184.7 621 2183.5 622 2180.9 623 2178.2 624 2175.5 625 2172.8 626 2172.9 627 2175.6 628 2178.3 629 2181 630 2183.7 631 2183.9 632 2184.3 633 2184.7 634 2184.7 635 2184.7 636 2184.7 637 2184.7 638 2184.7 639 2184.6 640 2184.6 641 2184.6 642 2184.7 643 2184.5 644 2184.4 645 2184.2 646 2184.3 647 2184.5 648 2184.6 649 2184.6 650 2184.6 651 2184.6 652 2184.7 653 2184.7 654 2184.7 655 2184.7 656 2184.7 657 2184.7 658 2184.6 659 2184.6 660 2184.6 661 2184.7 662 2184.7 663 2184.7 664 2184.6 665 2184.7 666 2184.4 667 2184.2 668 2184.3 669 2184.5 670 2184.4 671 2183.7 672 2182.9 673 2183.1 674 2183.9 675 2184.6 676 2184.6 677 2184.7 678 2184.7 679 2184.7 680 2184.6 681 2184.5 682 2184.6 683 2184.7 684 2184.7 685 2184.6 686 2184.5 687 2184.6 688 2184.7 689 2184.7 690 2184.6 691 2184.3 692 2184.1 693 2184.3 694 2184.5 695 2184.2 696 2183.7 697 2183.1 698 2183.5 699 2184.1 700 2184.6 701 2184.6 702 2184.5 703 2184.6 704 2184.7 705 2184.6 706 2184.6 707 2184.6 708 2184.2 709 2183.9 710 2183.7 711 2184 712 2184.4 713 2184.5 714 2184.5 715 2184.6 716 2184.7 717 2184.6 718 2184.5 719 2184.3 720 2184.4 721 2184.5 722 2184 723 2182.9 724 2181.8 725 2182.8 726 2183.9 727 2184.6 728 2184.5 729 2184.4 730 2184.4 731 2184.6 732 2184.6 733 2184.4 734 2184.4 735 2184.5 736 2184.7 737 2184.7 738 2184.6 739 2184.6 740 2184.6 741 2184.7 742 2184.7 743 2184.4 744 2184.3 745 2184.5 746 2184.7 747 2184.6 748 2184.6 749 2184.6 750 2184.7 751 2184.7 752 2184.7 753 2184.6 754 2184.6 755 2184.6 756 2184.7 757 2184.6 758 2184.6 759 2184.6 760 2184.6 761 2184.4 762 2184.2 763 2184.4 764 2184.6 765 2184.7 766 2184.6 767 2184.5 768 2184.6 769 2184.7 770 2184.7 771 2184.7 772 2184.7 773 2184.6 774 2184.6 775 2184.6 776 2184.7 777 2184.6 778 2184.6 779 2184.6 780 2184.7 781 2184.7 782 2184.6 783 2184.6 784 2184.6 785 2184.7 786 2184.7 787 2184.7 788 2184.7 789 2184.7 790 2184.6 791 2184.6 792 2184.6 793 2184.6 794 2184.6 795 2184.4 796 2184.3 797 2184.4 798 2184.5 799 2184.6 800 2184.7 801 2184.7 802 2184.7 803 2184.7 804 2184.6 805 2184.6 806 2184.6 807 2184.6 808 2184.5 809 2184.5 810 2184.6 811 2184.7 812 2184.7 813 2184.7 814 2184.7 815 2184.7 816 2184.7 817 2184.7 818 2184.6 819 2184.6 820 2184.7 821 2184.7 822 2184.6 823 2184.5 824 2184.6 825 2184.7 826 2184.7 827 2184.6 828 2184.5 829 2184.5 830 2184.6 831 2184.7 832 2184.7 833 2184.6 834 2184.6 835 2184.7 836 2184.7 837 2184.5 838 2184.4 839 2184.4 840 2184.6 841 2184.7 842 2184.7 843 2184.7 844 2184.4 845 2184.3 846 2184.5 847 2184.7 848 2184.7 849 2184.7 850 2184.7 851 2184.7 852 2184.7 853 2184.7 854 2184.7 855 2184.6 856 2184.6 857 2184.7 858 2183.2 859 2181 860 2178.8 861 2176.5 862 2177.1 863 2179.3 864 2181.5 865 2183.8 866 2184.5 867 2184.4 868 2184.5 869 2184.6 870 2184.4 871 2184.1 872 2184.4 873 2184.7 874 2184.7 875 2184.7 876 2184.7 877 2184.7 878 2184.7 879 2184.7 880 2184.7 881 2184.7 882 2184.6 883 2184.4 884 2184.3 885 2184.1 886 2184.3 887 2184.5 888 2184.5 889 2184.3 890 2184.4 891 2184.5 892 2184.6 893 2184.7 894 2184.6 895 2184.4 896 2184.5 897 2184.7 898 2184.7 899 2184.7 900 2184.6 901 2184.5 902 2184.5 903 2184.6 904 2184.5 905 2184.4 906 2184.5 907 2184.6 908 2184.7 909 2184.7 910 2184.7 911 2184.7 912 2184.7 913 2184.6 914 2184.4 915 2184.3 916 2184.4 917 2184.5 918 2184.7 919 2184.6 920 2184.6 921 2184.7 922 2184.7 923 2184.6 924 2184.5 925 2184.6 926 2184.7 927 2184.7 928 2184.6 929 2184.4 930 2184.4 931 2184.6 932 2184.6 933 2184.6 934 2184.6 935 2184.7 936 2184.6 937 2184.6 938 2184.5 939 2184.6 940 2184.7 941 2184.6 942 2184.5 943 2184.6 944 2184.7 945 2184.7 946 2184.7 947 2184.6 948 2184.6 949 2184.7 950 2184.6 951 2184.5 952 2184.5 953 2184.6 954 2184.7 955 2184.7 956 2184.7 957 2184.6 958 2184.7 959 2184.7 960 2184.7 961 2184.7 962 2184.6 963 2184.6 964 2184.7 965 2184.7 966 2184.6 967 2184.5 968 2184.5 969 2184.6 970 2184.5 971 2184.3 972 2184.3 973 2184.4 974 2184.6 975 2184.7 976 2184.6 977 2184.6 978 2184.6 979 2184.6 980 2184.7 981 2184.7 982 2184.7 983 2184.7 984 2184.7 985 2184.6 986 2184.7 987 2184.7 988 2184.7 989 2184.7 990 2184.7 991 2184.7 992 2184.6 993 2184.5 994 2184.6 995 2184.7 996 2184.7 997 2184.7 998 2184.7 999 2184.7 1000 2184.6 1001 2184.5 1002 2184.3 1003 2184.5 1004 2184.6 1005 2184.4 1006 2184.4 1007 2184.5 1008 2184.6 1009 2184.5 1010 2184.5 1011 2184.6 1012 2184.7 1013 2184.7 1014 2184.7 1015 2184.7 1016 2184.7 1017 2184.6 1018 2184.5 1019 2184.6 1020 2184.7 1021 2184.7 1022 2184.3 1023 2183.6 1024 2183.3 1025 2184 1026 2184.7 1027 2184.7 1028 2184.7 1029 2184.7 1030 2184.6 1031 2184.6 1032 2184.6 1033 2184.6 1034 2184.7 1035 2184.7 1036 2184.7 1037 2184.7 1038 2184.7 1039 2184.7 1040 2184.7 1041 2184.7 1042 2184.7 1043 2184.7 1044 2184.7 1045 2183.7 1046 2182 1047 2180.3 1048 2179.3 1049 2181 1050 2182.7 1051 2184.4 1052 2184.7 1053 2184.6 1054 2184.6 1055 2184.6 1056 2184.7 1057 2184.7 1058 2184.7 1059 2184.6 1060 2184.5 1061 2184.6 1062 2184.6 1063 2184.7 1064 2184.7 1065 2184.5 1066 2184.3 1067 2184.5 1068 2184.6 1069 2184.4 1070 2184.2 1071 2184.2 1072 2184.4 1073 2184.6 1074 2184.6 1075 2184.6 1076 2184.6 1077 2184.7 1078 2184.7 1079 2184.5 1080 2184.3 1081 2184.3 1082 2184.5 1083 2184.6 1084 2183.2 1085 2181.8 1086 2180.5 1087 2180.5 1088 2181.9 1089 2183.3 1090 2184.6 1091 2184.6 1092 2184.6 1093 2184.6 1094 2184.7 1095 2184.7 1096 2184.6 1097 2184.5 1098 2184.4 1099 2184.5 1100 2184.6 1101 2184.2 1102 2183.3 1103 2182.3 1104 2182.8 1105 2183.8 1106 2184.7 1107 2184.6 1108 2184.6 1109 2184.6 1110 2184.7 1111 2184.5 1112 2184.4 1113 2184.4 1114 2184.6 1115 2184.7 1116 2184.7 1117 2184.7 1118 2184.7 1119 2184.7 1120 2184.7 1121 2184.7 1122 2184.7 1123 2184.7 1124 2184.7 1125 2184.7 1126 2184.7 1127 2184.6 1128 2184.6 1129 2184.6 1130 2184.6 1131 2184.5 1132 2184.5 1133 2184.6 1134 2184.6 1135 2184.6 1136 2184.6 1137 2184.6 1138 2184.7 1139 2184.5 1140 2184.4 1141 2184.6 1142 2184.7 1143 2184.7 1144 2184.7 1145 2184.6 1146 2184.6 1147 2184.7 1148 2184.6 1149 2184.4 1150 2184.2 1151 2184.4 1152 2184.6 1153 2184.7 1154 2184.7 1155 2184.6 1156 2184.6 1157 2184.7 1158 2184.7 1159 2184.4 1160 2184.1 1161 2184.2 1162 2184.5 1163 2183.8 1164 2183.1 1165 2182.4 1166 2182.7 1167 2183.4 1168 2184.1 1169 2184.5 1170 2184.6 1171 2184.7 1172 2184.7 1173 2184.7 1174 2184.7 1175 2184.7 1176 2184.7 1177 2184.7 1178 2184.6 1179 2184.6 1180 2184.6 1181 2184.7 1182 2184.7 1183 2184.7 1184 2184.7 1185 2184.6 1186 2184.7 1187 2184.7 1188 2184.7 1189 2184.7 1190 2184.6 1191 2184.6 1192 2184.6 1193 2184.7 1194 2184.7 1195 2184.7 1196 2184.7 1197 2184.7 1198 2184.7 1199 2184.7 1200 2184.7 1201 2184.7 1202 2184.6 1203 2184.6 1204 2184.6 1205 2184.6 1206 2184.7 1207 2184.7 1208 2184.7 1209 2184.7 1210 2184.7 1211 2184.7 1212 2184.6 1213 2184.7 1214 2184.7 1215 2184.7 1216 2184.6 1217 2184.6 1218 2184.7 1219 2184.6 1220 2184.5 1221 2184.5 1222 2184.6 1223 2184.7 1224 2184.7 1225 2184.6 1226 2184.7 1227 2184.7 1228 2184.6 1229 2184.5 1230 2184.4 1231 2184.5 1232 2184.6 1233 2184.7 1234 2184.7 1235 2184.6 1236 2184.6 1237 2184.6 1238 2184.7 1239 2184.7 1240 2184.6 1241 2184.4 1242 2184.1 1243 2184.1 1244 2184.3 1245 2184.5 1246 2184.7 1247 2184.7 1248 2184.6 1249 2184.7 1250 2184.7 1251 2184.7 1252 2184.6 1253 2184.5 1254 2184.5 1255 2184.6 1256 2184.7 1257 2184.6 1258 2184.7 1259 2184.7 1260 2184.6 1261 2184.5 1262 2184.4 1263 2184.5 1264 2184.6 1265 2184.5 1266 2184.6 1267 2184.6 1268 2184.7 1269 2184.7 1270 2184.7 1271 2184.7 1272 2184.6 1273 2184.6 1274 2184.6 1275 2184.7 1276 2184.7 1277 2184.6 1278 2184.6 1279 2184.6 1280 2184.4 1281 2184.1 1282 2184 1283 2184.3 1284 2184.5 1285 2184.7 1286 2184.7 1287 2184.6 1288 2184.6 1289 2184.6 1290 2184.7 1291 2184.7 1292 2184.6 1293 2184.5 1294 2184.4 1295 2184.5 1296 2184.6 1297 2184.7 1298 2184.7 1299 2184.7 1300 2184.6 1301 2184.7 1302 2184.7 1303 2184.6 1304 2184.6 1305 2184.6 1306 2184.7 1307 2184.7 1308 2184.7 1309 2184.5 1310 2184.4 1311 2184.6 1312 2184.7 1313 2184.7 1314 2184.7 1315 2184.6 1316 2184.6 1317 2184.5 1318 2184.4 1319 2184.4 1320 2184.5 1321 2184.6 1322 2184.4 1323 2184.3 1324 2184.5 1325 2184.7 1326 2184.7 1327 2184.7 1328 2184.7 1329 2184.5 1330 2184.2 1331 2184.5 1332 2184.7 1333 2184.7 1334 2184.7 1335 2184.7 1336 2184.6 1337 2184.7 1338 2184.6 1339 2184.5 1340 2184.4 1341 2184.5 1342 2184.7 1343 2184.6 1344 2184.6 1345 2184.7 1346 2184.7 1347 2184.7 1348 2184.5 1349 2184.3 1350 2184.2 1351 2184.3 1352 2184.5 1353 2184.4 1354 2184.5 1355 2184.6 1356 2184.6 1357 2184.5 1358 2184.3 1359 2184.4 1360 2184.6 1361 2184.6 1362 2184.6 1363 2184.6 1364 2184.7 1365 2184.6 1366 2184.5 1367 2184.3 1368 2184.5 1369 2184.6 1370 2184.7 1371 2184.7 1372 2184.5 1373 2184.3 1374 2184.4 1375 2184.6 1376 2184.7 1377 2184.7 1378 2184.7 1379 2184.6 1380 2184.6 1381 2184.7 1382 2184.7 1383 2184.5 1384 2184.3 1385 2184 1386 2184.3 1387 2184.5 1388 2184.7 1389 2184.7 1390 2184.5 1391 2184.4 1392 2184.4 1393 2184.6 1394 2184.7 1395 2184.7 1396 2184.6 1397 2184.6 1398 2184.6 1399 2184.7 1400 2184.7 1401 2184.7 1402 2184.6 1403 2184.6 1404 2184.7 1405 2184.7 1406 2184.7 1407 2184.7 1408 2184.7 1409 2184.7 1410 2184.4 1411 2183.9 1412 2183.5 1413 2183.5 1414 2183.9 1415 2184.4 1416 2184.7 1417 2184.7 1418 2184.7 1419 2183.8 1420 2182.9 1421 2181.9 1422 2182.9 1423 2183.9 1424 2184.7 1425 2184.7 1426 2184.6 1427 2184.6 1428 2184.6 1429 2184.6 1430 2184.7 1431 2184.7 1432 2184.6 1433 2184.6 1434 2184.7 1435 2184.6 1436 2184.5 1437 2184.5 1438 2184.6 1439 2184.7 1440 2184.3 1441 2183.8 1442 2183.4 1443 2183.7 1444 2183.1 1445 2182.5 1446 2183.2 1447 2183.8 1448 2184.5 1449 2184.3 1450 2184 1451 2184 1452 2184.4 1453 2184.7 1454 2184.7 1455 2184.7 1456 2184.7 1457 2184.7 1458 2184.7 1459 2184.7 1460 2184.7 1461 2184.7 1462 2184.7 1463 2184.7 1464 2184.6 1465 2184.6 1466 2184.6 1467 2184.6 1468 2184.7 1469 2184.6 1470 2184.6 1471 2184.5 1472 2184.5 1473 2184.6 1474 2184.7 1475 2184.7 1476 2184.2 1477 2183.7 1478 2184.1 1479 2184.6 1480 2184.7 1481 2184.6 1482 2184.5 1483 2184.4 1484 2184.5 1485 2184.6 1486 2184.7 1487 2184.6 1488 2184.4 1489 2184.2 1490 2184.3 1491 2184.5 1492 2184.7 1493 2184.6 1494 2184.6 1495 2184.7 1496 2184.6 1497 2184.5 1498 2184.5 1499 2184.6 1500 2184.7 1501 2184.7 1502 2184.7 1503 2184.6 1504 2184.5 1505 2184.6 1506 2184.7 1507 2184.6 1508 2184.5 1509 2184.5 1510 2184.6 1511 2184.7 1512 2184.6 1513 2184.6 1514 2184.6 1515 2184.6 1516 2184.4 1517 2183.8 1518 2183.1 1519 2182.5 1520 2182.9 1521 2181.7 1522 2180.4 1523 2181 1524 2182.3 1525 2183.5 1526 2184.6 1527 2184.6 1528 2184.7 1529 2184.6 1530 2184.5 1531 2184.5 1532 2184.6 1533 2184.6 1534 2184.7 1535 2184.7 1536 2184.5 1537 2184.4 1538 2184.4 1539 2184.6 1540 2184.7 1541 2184.6 1542 2184.6 1543 2184.6 1544 2184.6 1545 2184.5 1546 2184.5 1547 2184.6 1548 2184.6 1549 2184.6 1550 2184.6 1551 2184.5 1552 2184.3 1553 2184.4 1554 2184.5 1555 2184.7 1556 2184.7 1557 2184.7 1558 2184.7 1559 2184.7 1560 2184.7 1561 2184.6 1562 2184.6 1563 2184.6 1564 2184.6 1565 2184.4 1566 2184.4 1567 2184.6 1568 2184.7 1569 2184.6 1570 2184.5 1571 2184.3 1572 2184.4 1573 2184.3 1574 2182.4 1575 2180.6 1576 2178.7 1577 2176.9 1578 2178.1 1579 2179.9 1580 2181.7 1581 2183.6 1582 2184.5 1583 2184.7 1584 2184.5 1585 2184.1 1586 2183.8 1587 2183.8 1588 2184.2 1589 2184.5 1590 2184.7 1591 2184.7 1592 2184.6 1593 2184.6 1594 2184.7 1595 2184.7 1596 2184.7 1597 2184.6 1598 2184.6 1599 2184.5 1600 2184.6 1601 2184.7 1602 2184.7 1603 2184.7 1604 2184.7 1605 2184.7 1606 2184.6 1607 2184.5 1608 2184.5 1609 2184.6 1610 2184.7 1611 2184.7 1612 2184.5 1613 2184.4 1614 2184.5 1615 2184.6 1616 2184.5 1617 2184.3 1618 2184.4 1619 2184.6 1620 2184.7 1621 2184.7 1622 2184.7 1623 2184.7 1624 2184.7 1625 2184.7 1626 2184.7 1627 2184.7 1628 2184.7 1629 2184.7 1630 2184.7 1631 2184.7 1632 2184.7 1633 2184.7 1634 2184.7 1635 2184.6 1636 2184.6 1637 2184.7 1638 2184.7 1639 2184.7 1640 2184.6 1641 2184.7 1642 2184.7 1643 2184.7 1644 2184.7 1645 2184.6 1646 2184.6 1647 2184.6 1648 2184.7 1649 2184.6 1650 2184.6 1651 2184.6 1652 2184.7 1653 2184.6 1654 2184.6 1655 2184.6 1656 2184.7 1657 2184.6 1658 2184.6 1659 2184.5 1660 2184.6 1661 2184.6 1662 2184.7 1663 2184.7 1664 2184.6 1665 2184.6 1666 2184.6 1667 2184.6 1668 2184.7 1669 2184.6 1670 2184.7 1671 2184.7 1672 2184.7 1673 2184.7 1674 2184.7 1675 2184.7 1676 2184.7 1677 2184.7 1678 2184.6 1679 2184.6 1680 2184.6 1681 2184.6 1682 2184.7 1683 2184.7 1684 2184.7 1685 2184.7 1686 2184.7 1687 2184.7 1688 2184.6 1689 2184.5 1690 2184.4 1691 2184.5 1692 2184.6 1693 2184.6 1694 2184.6 1695 2184.6 1696 2184.6 1697 2184.7 1698 2184.5 1699 2184.3 1700 2184.1 1701 2184.2 1702 2184.4 1703 2184.2 1704 2183.9 1705 2182 1706 2180 1707 2178.1 1708 2176.2 1709 2177.7 1710 2179.7 1711 2181.6 1712 2183.5 1713 2184.3 1714 2184.5 1715 2184.6 1716 2184.6 1717 2184.6 1718 2184.6 1719 2184.7 1720 2184.7 1721 2184.7 1722 2184.7 1723 2184.7 1724 2184.7 1725 2184.6 1726 2184.6 1727 2184.6 1728 2184.6 1729 2184.7 1730 2184.7 1731 2184.7 1732 2184.6 1733 2184.5 1734 2184.5 1735 2184.6 1736 2184.6 1737 2184.6 1738 2184.6 1739 2184.7 1740 2184.7 1741 2184.7 1742 2184.6 1743 2184.6 1744 2184.6 1745 2184.4 1746 2184.1 1747 2184.1 1748 2184.4 1749 2184.6 1750 2184.7 1751 2184.6 1752 2184.7 1753 2184.7 1754 2184.4 1755 2184 1756 2183.9 1757 2184.3 1758 2184.7 1759 2184.7 1760 2184.7 1761 2184.7 1762 2184.7 1763 2184.7 1764 2184.7 1765 2184.6 1766 2184.7 1767 2184.7 1768 2184.5 1769 2184.4 1770 2184.3 1771 2184.4 1772 2184.6 1773 2184.7 1774 2184.6 1775 2184.6 1776 2184.6 1777 2184.7 1778 2184.7 1779 2184.7 1780 2184.7 1781 2184.7 1782 2184.7 1783 2184.7 1784 2184.7 1785 2184.7 1786 2184.7 1787 2184.6 1788 2184.5 1789 2184.5 1790 2184.6 1791 2184.7 1792 2184.7 1793 2184.7 1794 2184.7 1795 2184.6 1796 2184.5 1797 2184.4 1798 2184.5 1799 2184.6 1800 2184.6 1801 2184.5 1802 2184.4 1803 2184.5 1804 2184.4 1805 2184 1806 2183.9 1807 2184.2 1808 2184.6 1809 2184.7 1810 2184.7 1811 2184.7 1812 2184.7 1813 2184.7 1814 2184.7 1815 2184.7 1816 2184.7 1817 2184.7 1818 2184.7 1819 2184.7 1820 2184.7 1821 2184.6 1822 2184.5 1823 2184.4 1824 2184.6 1825 2184.7 1826 2184.7 1827 2184.7 1828 2184.6 1829 2184.6 1830 2184.7 1831 2184.7 1832 2184.6 1833 2184.5 1834 2184.5 1835 2183.5 1836 2180.9 1837 2178.2 1838 2175.5 1839 2177.6 1840 2180.3 1841 2182.9 1842 2184.6 1843 2184.6 1844 2184.6 1845 2184.5 1846 2184.4 1847 2184.3 1848 2184.5 1849 2184.6 1850 2184.7 1851 2184.7 1852 2184.7 1853 2184.7 1854 2184.7 1855 2184.7 1856 2184.7 1857 2184.7 1858 2184.7 1859 2184.7 1860 2184.6 1861 2184.5 1862 2184.5 1863 2184.6 1864 2184.6 1865 2184.7 1866 2184.7 1867 2184.6 1868 2184.7 1869 2184.7 1870 2184.7 1871 2184.7 1872 2184.7 1873 2184.7 1874 2184.7 1875 2184.6 1876 2184.6 1877 2184.6 1878 2184.6 1879 2184.4 1880 2184.4 1881 2184.5 1882 2184.6 1883 2184.7 1884 2184.7 1885 2184.7 1886 2184.4 1887 2184.2 1888 2184.4 1889 2184.6 1890 2184.7 1891 2184.6 1892 2184.5 1893 2184.4 1894 2184.6 1895 2184.7 1896 2184.7 1897 2184.1 1898 2183.2 1899 2182.3 1900 2183.2 1901 2184.1 1902 2184.6 1903 2184.6 1904 2184.7 1905 2184.2 1906 2181.8 1907 2179.4 1908 2177 1909 2176.3 1910 2178.7 1911 2181.1 1912 2183.5 1913 2184.7 1914 2184.7 1915 2184.7 1916 2184.6 1917 2184.7 1918 2184.7 1919 2184.6 1920 2184.5 1921 2184.6 1922 2184.6 1923 2184.4 1924 2184.1 1925 2184.2 1926 2184.5 1927 2184.7 1928 2184.6 1929 2184.6 1930 2184.6 1931 2184.7 1932 2184.7 1933 2184.7 1934 2184.7 1935 2184.7 1936 2184.5 1937 2184.4 1938 2184.5 1939 2184.6 1940 2184.7 1941 2184.7 1942 2184.6 1943 2184.6 1944 2184.6 1945 2184.6 1946 2184.5 1947 2184.5 1948 2184.5 1949 2184.1 1950 2183.4 1951 2183.5 1952 2184.2 1953 2184.6 1954 2184.5 1955 2184.6 1956 2184.6 1957 2184.5 1958 2184.5 1959 2184.6 1960 2184.5 1961 2184.3 1962 2184.4 1963 2184.6 1964 2184.6 1965 2184.6 1966 2184.6 1967 2184.7 1968 2184.7 1969 2184.7 1970 2184.5 1971 2184.3 1972 2184.2 1973 2184.4 1974 2184.6 1975 2184.7 1976 2184.7 1977 2184.7 1978 2184.7 1979 2184.7 1980 2184.7 1981 2184.7 1982 2184.6 1983 2184.5 1984 2184.5 1985 2184.6 1986 2184.5 1987 2184.3 1988 2184.5 1989 2184.7 1990 2184.7 1991 2184.7 1992 2184.6 1993 2184.6 1994 2184.7 1995 2184.7 1996 2184.7 1997 2184.7 1998 2184.6 1999 2184.6 2000 2184.6 2001 2184.7 2002 2184.7 2003 2184.7 2004 2184.6 2005 2184.6 2006 2184.7 2007 2184.7 2008 2184.7 2009 2184.7 2010 2184.7 2011 2184.5 2012 2184.2 2013 2184 2014 2183.9 2015 2184.2 2016 2184.4 2017 2184.4 2018 2184.5 2019 2184.3 2020 2184.1 2021 2184.3 2022 2184.1 2023 2181.6 2024 2179 2025 2176.4 2026 2174.8 2027 2177.4 2028 2179.9 2029 2182.5 2030 2184.7 2031 2184.7 2032 2184.7 2033 2184.7 2034 2184.7 2035 2182.3 2036 2178.5 2037 2174.6 2038 2170.8 2039 2166.9 2040 2163.1 2041 2161.2 2042 2165 2043 2168.9 2044 2172.7 2045 2176.6 2046 2180.5 2047 2184.3 2048 2184.5 2049 2184.7 2050 2184.7 2051 2184.7 2052 2184.6 2053 2184.6 2054 2184.7 2055 2184.6 2056 2184.5 2057 2184.3 2058 2184.4 2059 2184.5 2060 2184.6 2061 2184.6 2062 2184.6 2063 2184.7 2064 2184.7 2065 2184.7 2066 2184.6 2067 2184.5 2068 2184.6 2069 2184.7 2070 2184.6 2071 2184 2072 2183.7 2073 2184.2 2074 2184.7 2075 2184.6 2076 2184.6 2077 2184.5 2078 2184.3 2079 2184.1 2080 2184.2 2081 2184.4 2082 2184.6 2083 2184.6 2084 2184.5 2085 2184.4 2086 2184.6 2087 2184.7 2088 2184.7 2089 2184.7 2090 2184.6 2091 2184.7 2092 2184.7 2093 2184.7 2094 2184.7 2095 2184.7 2096 2184.7 2097 2184.7 2098 2184.7 2099 2184.7 2100 2184.4 2101 2184 2102 2183.9 2103 2184.3 2104 2184.5 2105 2184.4 2106 2184.5 2107 2184.6 2108 2184.7 2109 2184.6 2110 2184.6 2111 2184.5 2112 2184.6 2113 2184.7 2114 2184.6 2115 2184.5 2116 2184.4 2117 2184.5 2118 2184.6 2119 2184.7 2120 2184.6 2121 2184.5 2122 2184.5 2123 2184.6 2124 2184.7 2125 2184.6 2126 2184.6 2127 2184.6 2128 2184.7 2129 2184.6 2130 2184.6 2131 2184.6 2132 2184.6 2133 2184.7 2134 2184.7 2135 2184.7 2136 2184.7 2137 2184.6 2138 2184.5 2139 2184.5 2140 2184.5 2141 2184.3 2142 2184.3 2142 2189.3 2141 2189.3 2140 2189.3 2139 2189.3 2138 2189.3 2137 2189.3 2136 2189.3 2135 2189.3 2134 2189.3 2133 2189.3 2132 2189.3 2131 2189.3 2130 2189.3 2129 2189.3 2128 2189.3 2127 2189.3 2126 2189.3 2125 2189.3 2124 2189.3 2123 2189.3 2122 2189.3 2121 2189.3 2120 2189.3 2119 2189.3 2118 2189.3 2117 2189.3 2116 2189.3 2115 2189.3 2114 2189.3 2113 2189.3 2112 2189.3 2111 2189.3 2110 2189.3 2109 2189.3 2108 2189.3 2107 2189.3 2106 2189.3 2105 2189.3 2104 2189.3 2103 2189.3 2102 2189.3 2101 2189.3 2100 2189.3 2099 2189.3 2098 2189.3 2097 2189.3 2096 2189.3 2095 2189.3 2094 2189.3 2093 2189.3 2092 2189.3 2091 2189.3 2090 2189.3 2089 2189.3 2088 2189.3 2087 2189.3 2086 2189.3 2085 2189.3 2084 2189.3 2083 2189.3 2082 2189.3 2081 2189.3 2080 2189.3 2079 2189.3 2078 2189.3 2077 2189.3 2076 2189.3 2075 2189.3 2074 2189.3 2073 2189.3 2072 2189.3 2071 2189.3 2070 2189.3 2069 2189.3 2068 2189.3 2067 2189.3 2066 2189.3 2065 2189.3 2064 2189.3 2063 2189.3 2062 2189.3 2061 2189.3 2060 2189.3 2059 2189.3 2058 2189.3 2057 2189.3 2056 2189.3 2055 2189.3 2054 2189.3 2053 2189.3 2052 2189.3 2051 2189.3 2050 2189.3 2049 2189.3 2048 2189.3 2047 2189.3 2046 2189.3 2045 2189.3 2044 2189.3 2043 2189.3 2042 2189.3 2041 2189.3 2040 2189.3 2039 2189.3 2038 2189.3 2037 2189.3 2036 2189.3 2035 2189.3 2034 2189.3 2033 2189.3 2032 2189.3 2031 2189.3 2030 2189.3 2029 2189.3 2028 2189.3 2027 2189.3 2026 2189.3 2025 2189.3 2024 2189.3 2023 2189.3 2022 2189.3 2021 2189.3 2020 2189.3 2019 2189.3 2018 2189.3 2017 2189.3 2016 2189.3 2015 2189.3 2014 2189.3 2013 2189.3 2012 2189.3 2011 2189.3 2010 2189.3 2009 2189.3 2008 2189.3 2007 2189.3 2006 2189.3 2005 2189.3 2004 2189.3 2003 2189.3 2002 2189.3 2001 2189.3 2000 2189.3 1999 2189.3 1998 2189.3 1997 2189.3 1996 2189.3 1995 2189.3 1994 2189.3 1993 2189.3 1992 2189.3 1991 2189.3 1990 2189.3 1989 2189.3 1988 2189.3 1987 2189.3 1986 2189.3 1985 2189.3 1984 2189.3 1983 2189.3 1982 2189.3 1981 2189.3 1980 2189.3 1979 2189.3 1978 2189.3 1977 2189.3 1976 2189.3 1975 2189.3 1974 2189.3 1973 2189.3 1972 2189.3 1971 2189.3 1970 2189.3 1969 2189.3 1968 2189.3 1967 2189.3 1966 2189.3 1965 2189.3 1964 2189.3 1963 2189.3 1962 2189.3 1961 2189.3 1960 2189.3 1959 2189.3 1958 2189.3 1957 2189.3 1956 2189.3 1955 2189.3 1954 2189.3 1953 2189.3 1952 2189.3 1951 2189.3 1950 2189.3 1949 2189.3 1948 2189.3 1947 2189.3 1946 2189.3 1945 2189.3 1944 2189.3 1943 2189.3 1942 2189.3 1941 2189.3 1940 2189.3 1939 2189.3 1938 2189.3 1937 2189.3 1936 2189.3 1935 2189.3 1934 2189.3 1933 2189.3 1932 2189.3 1931 2189.3 1930 2189.3 1929 2189.3 1928 2189.3 1927 2189.3 1926 2189.3 1925 2189.3 1924 2189.3 1923 2189.3 1922 2189.3 1921 2189.3 1920 2189.3 1919 2189.3 1918 2189.3 1917 2189.3 1916 2189.3 1915 2189.3 1914 2189.3 1913 2189.3 1912 2189.3 1911 2189.3 1910 2189.3 1909 2189.3 1908 2189.3 1907 2189.3 1906 2189.3 1905 2189.3 1904 2189.3 1903 2189.3 1902 2189.3 1901 2189.3 1900 2189.3 1899 2189.3 1898 2189.3 1897 2189.3 1896 2189.3 1895 2189.3 1894 2189.3 1893 2189.3 1892 2189.3 1891 2189.3 1890 2189.3 1889 2189.3 1888 2189.3 1887 2189.3 1886 2189.3 1885 2189.3 1884 2189.3 1883 2189.3 1882 2189.3 1881 2189.3 1880 2189.3 1879 2189.3 1878 2189.3 1877 2189.3 1876 2189.3 1875 2189.3 1874 2189.3 1873 2189.3 1872 2189.3 1871 2189.3 1870 2189.3 1869 2189.3 1868 2189.3 1867 2189.3 1866 2189.3 1865 2189.3 1864 2189.3 1863 2189.3 1862 2189.3 1861 2189.3 1860 2189.3 1859 2189.3 1858 2189.3 1857 2189.3 1856 2189.3 1855 2189.3 1854 2189.3 1853 2189.3 1852 2189.3 1851 2189.3 1850 2189.3 1849 2189.3 1848 2189.3 1847 2189.3 1846 2189.3 1845 2189.3 1844 2189.3 1843 2189.3 1842 2189.3 1841 2189.3 1840 2189.3 1839 2189.3 1838 2189.3 1837 2189.3 1836 2189.3 1835 2189.3 1834 2189.3 1833 2189.3 1832 2189.3 1831 2189.3 1830 2189.3 1829 2189.3 1828 2189.3 1827 2189.3 1826 2189.3 1825 2189.3 1824 2189.3 1823 2189.3 1822 2189.3 1821 2189.3 1820 2189.3 1819 2189.3 1818 2189.3 1817 2189.3 1816 2189.3 1815 2189.3 1814 2189.3 1813 2189.3 1812 2189.3 1811 2189.3 1810 2189.3 1809 2189.3 1808 2189.3 1807 2189.3 1806 2189.3 1805 2189.3 1804 2189.3 1803 2189.3 1802 2189.3 1801 2189.3 1800 2189.3 1799 2189.3 1798 2189.3 1797 2189.3 1796 2189.3 1795 2189.3 1794 2189.3 1793 2189.3 1792 2189.3 1791 2189.3 1790 2189.3 1789 2189.3 1788 2189.3 1787 2189.3 1786 2189.3 1785 2189.3 1784 2189.3 1783 2189.3 1782 2189.3 1781 2189.3 1780 2189.3 1779 2189.3 1778 2189.3 1777 2189.3 1776 2189.3 1775 2189.3 1774 2189.3 1773 2189.3 1772 2189.3 1771 2189.3 1770 2189.3 1769 2189.3 1768 2189.3 1767 2189.3 1766 2189.3 1765 2189.3 1764 2189.3 1763 2189.3 1762 2189.3 1761 2189.3 1760 2189.3 1759 2189.3 1758 2189.3 1757 2189.3 1756 2189.3 1755 2189.3 1754 2189.3 1753 2189.3 1752 2189.3 1751 2189.3 1750 2189.3 1749 2189.3 1748 2189.3 1747 2189.3 1746 2189.3 1745 2189.3 1744 2189.3 1743 2189.3 1742 2189.3 1741 2189.3 1740 2189.3 1739 2189.3 1738 2189.3 1737 2189.3 1736 2189.3 1735 2189.3 1734 2189.3 1733 2189.3 1732 2189.3 1731 2189.3 1730 2189.3 1729 2189.3 1728 2189.3 1727 2189.3 1726 2189.3 1725 2189.3 1724 2189.3 1723 2189.3 1722 2189.3 1721 2189.3 1720 2189.3 1719 2189.3 1718 2189.3 1717 2189.3 1716 2189.3 1715 2189.3 1714 2189.3 1713 2189.3 1712 2189.3 1711 2189.3 1710 2189.3 1709 2189.3 1708 2189.3 1707 2189.3 1706 2189.3 1705 2189.3 1704 2189.3 1703 2189.3 1702 2189.3 1701 2189.3 1700 2189.3 1699 2189.3 1698 2189.3 1697 2189.3 1696 2189.3 1695 2189.3 1694 2189.3 1693 2189.3 1692 2189.3 1691 2189.3 1690 2189.3 1689 2189.3 1688 2189.3 1687 2189.3 1686 2189.3 1685 2189.3 1684 2189.3 1683 2189.3 1682 2189.3 1681 2189.3 1680 2189.3 1679 2189.3 1678 2189.3 1677 2189.3 1676 2189.3 1675 2189.3 1674 2189.3 1673 2189.3 1672 2189.3 1671 2189.3 1670 2189.3 1669 2189.3 1668 2189.3 1667 2189.3 1666 2189.3 1665 2189.3 1664 2189.3 1663 2189.3 1662 2189.3 1661 2189.3 1660 2189.3 1659 2189.3 1658 2189.3 1657 2189.3 1656 2189.3 1655 2189.3 1654 2189.3 1653 2189.3 1652 2189.3 1651 2189.3 1650 2189.3 1649 2189.3 1648 2189.3 1647 2189.3 1646 2189.3 1645 2189.3 1644 2189.3 1643 2189.3 1642 2189.3 1641 2189.3 1640 2189.3 1639 2189.3 1638 2189.3 1637 2189.3 1636 2189.3 1635 2189.3 1634 2189.3 1633 2189.3 1632 2189.3 1631 2189.3 1630 2189.3 1629 2189.3 1628 2189.3 1627 2189.3 1626 2189.3 1625 2189.3 1624 2189.3 1623 2189.3 1622 2189.3 1621 2189.3 1620 2189.3 1619 2189.3 1618 2189.3 1617 2189.3 1616 2189.3 1615 2189.3 1614 2189.3 1613 2189.3 1612 2189.3 1611 2189.3 1610 2189.3 1609 2189.3 1608 2189.3 1607 2189.3 1606 2189.3 1605 2189.3 1604 2189.3 1603 2189.3 1602 2189.3 1601 2189.3 1600 2189.3 1599 2189.3 1598 2189.3 1597 2189.3 1596 2189.3 1595 2189.3 1594 2189.3 1593 2189.3 1592 2189.3 1591 2189.3 1590 2189.3 1589 2189.3 1588 2189.3 1587 2189.3 1586 2189.3 1585 2189.3 1584 2189.3 1583 2189.3 1582 2189.3 1581 2189.3 1580 2189.3 1579 2189.3 1578 2189.3 1577 2189.3 1576 2189.3 1575 2189.3 1574 2189.3 1573 2189.3 1572 2189.3 1571 2189.3 1570 2189.3 1569 2189.3 1568 2189.3 1567 2189.3 1566 2189.3 1565 2189.3 1564 2189.3 1563 2189.3 1562 2189.3 1561 2189.3 1560 2189.3 1559 2189.3 1558 2189.3 1557 2189.3 1556 2189.3 1555 2189.3 1554 2189.3 1553 2189.3 1552 2189.3 1551 2189.3 1550 2189.3 1549 2189.3 1548 2189.3 1547 2189.3 1546 2189.3 1545 2189.3 1544 2189.3 1543 2189.3 1542 2189.3 1541 2189.3 1540 2189.3 1539 2189.3 1538 2189.3 1537 2189.3 1536 2189.3 1535 2189.3 1534 2189.3 1533 2189.3 1532 2189.3 1531 2189.3 1530 2189.3 1529 2189.3 1528 2189.3 1527 2189.3 1526 2189.3 1525 2189.3 1524 2189.3 1523 2189.3 1522 2189.3 1521 2189.3 1520 2189.3 1519 2189.3 1518 2189.3 1517 2189.3 1516 2189.3 1515 2189.3 1514 2189.3 1513 2189.3 1512 2189.3 1511 2189.3 1510 2189.3 1509 2189.3 1508 2189.3 1507 2189.3 1506 2189.3 1505 2189.3 1504 2189.3 1503 2189.3 1502 2189.3 1501 2189.3 1500 2189.3 1499 2189.3 1498 2189.3 1497 2189.3 1496 2189.3 1495 2189.3 1494 2189.3 1493 2189.3 1492 2189.3 1491 2189.3 1490 2189.3 1489 2189.3 1488 2189.3 1487 2189.3 1486 2189.3 1485 2189.3 1484 2189.3 1483 2189.3 1482 2189.3 1481 2189.3 1480 2189.3 1479 2189.3 1478 2189.3 1477 2189.3 1476 2189.3 1475 2189.3 1474 2189.3 1473 2189.3 1472 2189.3 1471 2189.3 1470 2189.3 1469 2189.3 1468 2189.3 1467 2189.3 1466 2189.3 1465 2189.3 1464 2189.3 1463 2189.3 1462 2189.3 1461 2189.3 1460 2189.3 1459 2189.3 1458 2189.3 1457 2189.3 1456 2189.3 1455 2189.3 1454 2189.3 1453 2189.3 1452 2189.3 1451 2189.3 1450 2189.3 1449 2189.3 1448 2189.3 1447 2189.3 1446 2189.3 1445 2189.3 1444 2189.3 1443 2189.3 1442 2189.3 1441 2189.3 1440 2189.3 1439 2189.3 1438 2189.3 1437 2189.3 1436 2189.3 1435 2189.3 1434 2189.3 1433 2189.3 1432 2189.3 1431 2189.3 1430 2189.3 1429 2189.3 1428 2189.3 1427 2189.3 1426 2189.3 1425 2189.3 1424 2189.3 1423 2189.3 1422 2189.3 1421 2189.3 1420 2189.3 1419 2189.3 1418 2189.3 1417 2189.3 1416 2189.3 1415 2189.3 1414 2189.3 1413 2189.3 1412 2189.3 1411 2189.3 1410 2189.3 1409 2189.3 1408 2189.3 1407 2189.3 1406 2189.3 1405 2189.3 1404 2189.3 1403 2189.3 1402 2189.3 1401 2189.3 1400 2189.3 1399 2189.3 1398 2189.3 1397 2189.3 1396 2189.3 1395 2189.3 1394 2189.3 1393 2189.3 1392 2189.3 1391 2189.3 1390 2189.3 1389 2189.3 1388 2189.3 1387 2189.3 1386 2189.3 1385 2189.3 1384 2189.3 1383 2189.3 1382 2189.3 1381 2189.3 1380 2189.3 1379 2189.3 1378 2189.3 1377 2189.3 1376 2189.3 1375 2189.3 1374 2189.3 1373 2189.3 1372 2189.3 1371 2189.3 1370 2189.3 1369 2189.3 1368 2189.3 1367 2189.3 1366 2189.3 1365 2189.3 1364 2189.3 1363 2189.3 1362 2189.3 1361 2189.3 1360 2189.3 1359 2189.3 1358 2189.3 1357 2189.3 1356 2189.3 1355 2189.3 1354 2189.3 1353 2189.3 1352 2189.3 1351 2189.3 1350 2189.3 1349 2189.3 1348 2189.3 1347 2189.3 1346 2189.3 1345 2189.3 1344 2189.3 1343 2189.3 1342 2189.3 1341 2189.3 1340 2189.3 1339 2189.3 1338 2189.3 1337 2189.3 1336 2189.3 1335 2189.3 1334 2189.3 1333 2189.3 1332 2189.3 1331 2189.3 1330 2189.3 1329 2189.3 1328 2189.3 1327 2189.3 1326 2189.3 1325 2189.3 1324 2189.3 1323 2189.3 1322 2189.3 1321 2189.3 1320 2189.3 1319 2189.3 1318 2189.3 1317 2189.3 1316 2189.3 1315 2189.3 1314 2189.3 1313 2189.3 1312 2189.3 1311 2189.3 1310 2189.3 1309 2189.3 1308 2189.3 1307 2189.3 1306 2189.3 1305 2189.3 1304 2189.3 1303 2189.3 1302 2189.3 1301 2189.3 1300 2189.3 1299 2189.3 1298 2189.3 1297 2189.3 1296 2189.3 1295 2189.3 1294 2189.3 1293 2189.3 1292 2189.3 1291 2189.3 1290 2189.3 1289 2189.3 1288 2189.3 1287 2189.3 1286 2189.3 1285 2189.3 1284 2189.3 1283 2189.3 1282 2189.3 1281 2189.3 1280 2189.3 1279 2189.3 1278 2189.3 1277 2189.3 1276 2189.3 1275 2189.3 1274 2189.3 1273 2189.3 1272 2189.3 1271 2189.3 1270 2189.3 1269 2189.3 1268 2189.3 1267 2189.3 1266 2189.3 1265 2189.3 1264 2189.3 1263 2189.3 1262 2189.3 1261 2189.3 1260 2189.3 1259 2189.3 1258 2189.3 1257 2189.3 1256 2189.3 1255 2189.3 1254 2189.3 1253 2189.3 1252 2189.3 1251 2189.3 1250 2189.3 1249 2189.3 1248 2189.3 1247 2189.3 1246 2189.3 1245 2189.3 1244 2189.3 1243 2189.3 1242 2189.3 1241 2189.3 1240 2189.3 1239 2189.3 1238 2189.3 1237 2189.3 1236 2189.3 1235 2189.3 1234 2189.3 1233 2189.3 1232 2189.3 1231 2189.3 1230 2189.3 1229 2189.3 1228 2189.3 1227 2189.3 1226 2189.3 1225 2189.3 1224 2189.3 1223 2189.3 1222 2189.3 1221 2189.3 1220 2189.3 1219 2189.3 1218 2189.3 1217 2189.3 1216 2189.3 1215 2189.3 1214 2189.3 1213 2189.3 1212 2189.3 1211 2189.3 1210 2189.3 1209 2189.3 1208 2189.3 1207 2189.3 1206 2189.3 1205 2189.3 1204 2189.3 1203 2189.3 1202 2189.3 1201 2189.3 1200 2189.3 1199 2189.3 1198 2189.3 1197 2189.3 1196 2189.3 1195 2189.3 1194 2189.3 1193 2189.3 1192 2189.3 1191 2189.3 1190 2189.3 1189 2189.3 1188 2189.3 1187 2189.3 1186 2189.3 1185 2189.3 1184 2189.3 1183 2189.3 1182 2189.3 1181 2189.3 1180 2189.3 1179 2189.3 1178 2189.3 1177 2189.3 1176 2189.3 1175 2189.3 1174 2189.3 1173 2189.3 1172 2189.3 1171 2189.3 1170 2189.3 1169 2189.3 1168 2189.3 1167 2189.3 1166 2189.3 1165 2189.3 1164 2189.3 1163 2189.3 1162 2189.3 1161 2189.3 1160 2189.3 1159 2189.3 1158 2189.3 1157 2189.3 1156 2189.3 1155 2189.3 1154 2189.3 1153 2189.3 1152 2189.3 1151 2189.3 1150 2189.3 1149 2189.3 1148 2189.3 1147 2189.3 1146 2189.3 1145 2189.3 1144 2189.3 1143 2189.3 1142 2189.3 1141 2189.3 1140 2189.3 1139 2189.3 1138 2189.3 1137 2189.3 1136 2189.3 1135 2189.3 1134 2189.3 1133 2189.3 1132 2189.3 1131 2189.3 1130 2189.3 1129 2189.3 1128 2189.3 1127 2189.3 1126 2189.3 1125 2189.3 1124 2189.3 1123 2189.3 1122 2189.3 1121 2189.3 1120 2189.3 1119 2189.3 1118 2189.3 1117 2189.3 1116 2189.3 1115 2189.3 1114 2189.3 1113 2189.3 1112 2189.3 1111 2189.3 1110 2189.3 1109 2189.3 1108 2189.3 1107 2189.3 1106 2189.3 1105 2189.3 1104 2189.3 1103 2189.3 1102 2189.3 1101 2189.3 1100 2189.3 1099 2189.3 1098 2189.3 1097 2189.3 1096 2189.3 1095 2189.3 1094 2189.3 1093 2189.3 1092 2189.3 1091 2189.3 1090 2189.3 1089 2189.3 1088 2189.3 1087 2189.3 1086 2189.3 1085 2189.3 1084 2189.3 1083 2189.3 1082 2189.3 1081 2189.3 1080 2189.3 1079 2189.3 1078 2189.3 1077 2189.3 1076 2189.3 1075 2189.3 1074 2189.3 1073 2189.3 1072 2189.3 1071 2189.3 1070 2189.3 1069 2189.3 1068 2189.3 1067 2189.3 1066 2189.3 1065 2189.3 1064 2189.3 1063 2189.3 1062 2189.3 1061 2189.3 1060 2189.3 1059 2189.3 1058 2189.3 1057 2189.3 1056 2189.3 1055 2189.3 1054 2189.3 1053 2189.3 1052 2189.3 1051 2189.3 1050 2189.3 1049 2189.3 1048 2189.3 1047 2189.3 1046 2189.3 1045 2189.3 1044 2189.3 1043 2189.3 1042 2189.3 1041 2189.3 1040 2189.3 1039 2189.3 1038 2189.3 1037 2189.3 1036 2189.3 1035 2189.3 1034 2189.3 1033 2189.3 1032 2189.3 1031 2189.3 1030 2189.3 1029 2189.3 1028 2189.3 1027 2189.3 1026 2189.3 1025 2189.3 1024 2189.3 1023 2189.3 1022 2189.3 1021 2189.3 1020 2189.3 1019 2189.3 1018 2189.3 1017 2189.3 1016 2189.3 1015 2189.3 1014 2189.3 1013 2189.3 1012 2189.3 1011 2189.3 1010 2189.3 1009 2189.3 1008 2189.3 1007 2189.3 1006 2189.3 1005 2189.3 1004 2189.3 1003 2189.3 1002 2189.3 1001 2189.3 1000 2189.3 999 2189.3 998 2189.3 997 2189.3 996 2189.3 995 2189.3 994 2189.3 993 2189.3 992 2189.3 991 2189.3 990 2189.3 989 2189.3 988 2189.3 987 2189.3 986 2189.3 985 2189.3 984 2189.3 983 2189.3 982 2189.3 981 2189.3 980 2189.3 979 2189.3 978 2189.3 977 2189.3 976 2189.3 975 2189.3 974 2189.3 973 2189.3 972 2189.3 971 2189.3 970 2189.3 969 2189.3 968 2189.3 967 2189.3 966 2189.3 965 2189.3 964 2189.3 963 2189.3 962 2189.3 961 2189.3 960 2189.3 959 2189.3 958 2189.3 957 2189.3 956 2189.3 955 2189.3 954 2189.3 953 2189.3 952 2189.3 951 2189.3 950 2189.3 949 2189.3 948 2189.3 947 2189.3 946 2189.3 945 2189.3 944 2189.3 943 2189.3 942 2189.3 941 2189.3 940 2189.3 939 2189.3 938 2189.3 937 2189.3 936 2189.3 935 2189.3 934 2189.3 933 2189.3 932 2189.3 931 2189.3 930 2189.3 929 2189.3 928 2189.3 927 2189.3 926 2189.3 925 2189.3 924 2189.3 923 2189.3 922 2189.3 921 2189.3 920 2189.3 919 2189.3 918 2189.3 917 2189.3 916 2189.3 915 2189.3 914 2189.3 913 2189.3 912 2189.3 911 2189.3 910 2189.3 909 2189.3 908 2189.3 907 2189.3 906 2189.3 905 2189.3 904 2189.3 903 2189.3 902 2189.3 901 2189.3 900 2189.3 899 2189.3 898 2189.3 897 2189.3 896 2189.3 895 2189.3 894 2189.3 893 2189.3 892 2189.3 891 2189.3 890 2189.3 889 2189.3 888 2189.3 887 2189.3 886 2189.3 885 2189.3 884 2189.3 883 2189.3 882 2189.3 881 2189.3 880 2189.3 879 2189.3 878 2189.3 877 2189.3 876 2189.3 875 2189.3 874 2189.3 873 2189.3 872 2189.3 871 2189.3 870 2189.3 869 2189.3 868 2189.3 867 2189.3 866 2189.3 865 2189.3 864 2189.3 863 2189.3 862 2189.3 861 2189.3 860 2189.3 859 2189.3 858 2189.3 857 2189.3 856 2189.3 855 2189.3 854 2189.3 853 2189.3 852 2189.3 851 2189.3 850 2189.3 849 2189.3 848 2189.3 847 2189.3 846 2189.3 845 2189.3 844 2189.3 843 2189.3 842 2189.3 841 2189.3 840 2189.3 839 2189.3 838 2189.3 837 2189.3 836 2189.3 835 2189.3 834 2189.3 833 2189.3 832 2189.3 831 2189.3 830 2189.3 829 2189.3 828 2189.3 827 2189.3 826 2189.3 825 2189.3 824 2189.3 823 2189.3 822 2189.3 821 2189.3 820 2189.3 819 2189.3 818 2189.3 817 2189.3 816 2189.3 815 2189.3 814 2189.3 813 2189.3 812 2189.3 811 2189.3 810 2189.3 809 2189.3 808 2189.3 807 2189.3 806 2189.3 805 2189.3 804 2189.3 803 2189.3 802 2189.3 801 2189.3 800 2189.3 799 2189.3 798 2189.3 797 2189.3 796 2189.3 795 2189.3 794 2189.3 793 2189.3 792 2189.3 791 2189.3 790 2189.3 789 2189.3 788 2189.3 787 2189.3 786 2189.3 785 2189.3 784 2189.3 783 2189.3 782 2189.3 781 2189.3 780 2189.3 779 2189.3 778 2189.3 777 2189.3 776 2189.3 775 2189.3 774 2189.3 773 2189.3 772 2189.3 771 2189.3 770 2189.3 769 2189.3 768 2189.3 767 2189.3 766 2189.3 765 2189.3 764 2189.3 763 2189.3 762 2189.3 761 2189.3 760 2189.3 759 2189.3 758 2189.3 757 2189.3 756 2189.3 755 2189.3 754 2189.3 753 2189.3 752 2189.3 751 2189.3 750 2189.3 749 2189.3 748 2189.3 747 2189.3 746 2189.3 745 2189.3 744 2189.3 743 2189.3 742 2189.3 741 2189.3 740 2189.3 739 2189.3 738 2189.3 737 2189.3 736 2189.3 735 2189.3 734 2189.3 733 2189.3 732 2189.3 731 2189.3 730 2189.3 729 2189.3 728 2189.3 727 2189.3 726 2189.3 725 2189.3 724 2189.3 723 2189.3 722 2189.3 721 2189.3 720 2189.3 719 2189.3 718 2189.3 717 2189.3 716 2189.3 715 2189.3 714 2189.3 713 2189.3 712 2189.3 711 2189.3 710 2189.3 709 2189.3 708 2189.3 707 2189.3 706 2189.3 705 2189.3 704 2189.3 703 2189.3 702 2189.3 701 2189.3 700 2189.3 699 2189.3 698 2189.3 697 2189.3 696 2189.3 695 2189.3 694 2189.3 693 2189.3 692 2189.3 691 2189.3 690 2189.3 689 2189.3 688 2189.3 687 2189.3 686 2189.3 685 2189.3 684 2189.3 683 2189.3 682 2189.3 681 2189.3 680 2189.3 679 2189.3 678 2189.3 677 2189.3 676 2189.3 675 2189.3 674 2189.3 673 2189.3 672 2189.3 671 2189.3 670 2189.3 669 2189.3 668 2189.3 667 2189.3 666 2189.3 665 2189.3 664 2189.3 663 2189.3 662 2189.3 661 2189.3 660 2189.3 659 2189.3 658 2189.3 657 2189.3 656 2189.3 655 2189.3 654 2189.3 653 2189.3 652 2189.3 651 2189.3 650 2189.3 649 2189.3 648 2189.3 647 2189.3 646 2189.3 645 2189.3 644 2189.3 643 2189.3 642 2189.3 641 2189.3 640 2189.3 639 2189.3 638 2189.3 637 2189.3 636 2189.3 635 2189.3 634 2189.3 633 2189.3 632 2189.3 631 2189.3 630 2189.3 629 2189.3 628 2189.3 627 2189.3 626 2189.3 625 2189.3 624 2189.3 623 2189.3 622 2189.3 621 2189.3 620 2189.3 619 2189.3 618 2189.3 617 2189.3 616 2189.3 615 2189.3 614 2189.3 613 2189.3 612 2189.3 611 2189.3 610 2189.3 609 2189.3 608 2189.3 607 2189.3 606 2189.3 605 2189.3 604 2189.3 603 2189.3 602 2189.3 601 2189.3 600 2189.3 599 2189.3 598 2189.3 597 2189.3 596 2189.3 595 2189.3 594 2189.3 593 2189.3 592 2189.3 591 2189.3 590 2189.3 589 2189.3 588 2189.3 587 2189.3 586 2189.3 585 2189.3 584 2189.3 583 2189.3 582 2189.3 581 2189.3 580 2189.3 579 2189.3 578 2189.3 577 2189.3 576 2189.3 575 2189.3 574 2189.3 573 2189.3 572 2189.3 571 2189.3 570 2189.3 569 2189.3 568 2189.3 567 2189.3 566 2189.3 565 2189.3 564 2189.3 563 2189.3 562 2189.3 561 2189.3 560 2189.3 559 2189.3 558 2189.3 557 2189.3 556 2189.3 555 2189.3 554 2189.3 553 2189.3 552 2189.3 551 2189.3 550 2189.3 549 2189.3 548 2189.3 547 2189.3 546 2189.3 545 2189.3 544 2189.3 543 2189.3 542 2189.3 541 2189.3 540 2189.3 539 2189.3 538 2189.3 537 2189.3 536 2189.3 535 2189.3 534 2189.3 533 2189.3 532 2189.3 531 2189.3 530 2189.3 529 2189.3 528 2189.3 527 2189.3 526 2189.3 525 2189.3 524 2189.3 523 2189.3 522 2189.3 521 2189.3 520 2189.3 519 2189.3 518 2189.3 517 2189.3 516 2189.3 515 2189.3 514 2189.3 513 2189.3 512 2189.3 511 2189.3 510 2189.3 509 2189.3 508 2189.3 507 2189.3 506 2189.3 505 2189.3 504 2189.3 503 2189.3 502 2189.3 501 2189.3 500 2189.3 499 2189.3 498 2189.3 497 2189.3 496 2189.3 495 2189.3 494 2189.3 493 2189.3 492 2189.3 491 2189.3 490 2189.3 489 2189.3 488 2189.3 487 2189.3 486 2189.3 485 2189.3 484 2189.3 483 2189.3 482 2189.3 481 2189.3 480 2189.3 479 2189.3 478 2189.3 477 2189.3 476 2189.3 475 2189.3 474 2189.3 473 2189.3 472 2189.3 471 2189.3 470 2189.3 469 2189.3 468 2189.3 467 2189.3 466 2189.3 465 2189.3 464 2189.3 463 2189.3 462 2189.3 461 2189.3 460 2189.3 459 2189.3 458 2189.3 457 2189.3 456 2189.3 455 2189.3 454 2189.3 453 2189.3 452 2189.3 451 2189.3 450 2189.3 449 2189.3 448 2189.3 447 2189.3 446 2189.3 445 2189.3 444 2189.3 443 2189.3 442 2189.3 441 2189.3 440 2189.3 439 2189.3 438 2189.3 437 2189.3 436 2189.3 435 2189.3 434 2189.3 433 2189.3 432 2189.3 431 2189.3 430 2189.3 429 2189.3 428 2189.3 427 2189.3 426 2189.3 425 2189.3 424 2189.3 423 2189.3 422 2189.3 421 2189.3 420 2189.3 419 2189.3 418 2189.3 417 2189.3 416 2189.3 415 2189.3 414 2189.3 413 2189.3 412 2189.3 411 2189.3 410 2189.3 409 2189.3 408 2189.3 407 2189.3 406 2189.3 405 2189.3 404 2189.3 403 2189.3 402 2189.3 401 2189.3 400 2189.3 399 2189.3 398 2189.3 397 2189.3 396 2189.3 395 2189.3 394 2189.3 393 2189.3 392 2189.3 391 2189.3 390 2189.3 389 2189.3 388 2189.3 387 2189.3 386 2189.3 385 2189.3 384 2189.3 383 2189.3 382 2189.3 381 2189.3 380 2189.3ZM443.1 1624 444.1 1618.7 445.2 1614.4 446.2 1615.3 447.2 1615.6 448.2 1614.3 449.3 1612.7 450.3 1608.4 451.3 1604.1 452.4 1599.9 453.4 1595.8 454.4 1591.7 455.4 1587.6 456.5 1588.4 457.5 1592.5 458.5 1596.6 459.6 1600.8 460.6 1605.1 461.6 1609.4 462.7 1612 463.7 1613.9 464.7 1611.8 465.7 1609.1 466.8 1614.6 467.8 1624 467.8 1638 466.8 1640.4 465.7 1642.5 464.7 1641.7 463.7 1640.8 462.7 1640.4 461.6 1640.1 460.6 1639.9 459.6 1639.5 458.5 1639.3 457.5 1639.1 456.5 1639.1 455.4 1639 454.4 1639.1 453.4 1639.1 452.4 1639.4 451.3 1639.9 450.3 1639.9 449.3 1640.1 448.2 1640.7 447.2 1641.4 446.2 1642 445.2 1642.2 444.1 1640 443.1 1638ZM526.9 1637 527.9 1633 529 1628.4 530 1626.9 531 1626.8 532 1627.3 533.1 1626.4 534.1 1625.3 535.1 1622.1 536.1 1618.1 537.2 1614.3 538.2 1610.5 539.2 1606.9 540.3 1608.9 541.3 1613.2 542.3 1617.7 543.3 1620.1 544.4 1628.5 545.4 1637 545.4 1651 544.4 1652.7 543.3 1654.4 542.3 1653.8 541.3 1653.3 540.3 1652.9 539.2 1652.5 538.2 1652.2 537.2 1652.2 536.1 1652.3 535.1 1652.2 534.1 1652.2 533.1 1652.4 532 1652.9 531 1653.5 530 1654.1 529 1654.8 527.9 1652.8 526.9 1651ZM611.4 1660 612.4 1654.2 613.5 1645 614.5 1640.6 615.5 1636.4 616.5 1632.2 617.6 1628.2 618.6 1624.2 619.6 1626.2 620.6 1629.9 621.7 1633.6 622.7 1637.5 623.7 1641.4 624.8 1645.5 625.8 1649.6 626.8 1648.5 627.8 1647.1 628.9 1652.3 629.9 1660 629.9 1674 628.9 1676.1 627.8 1678.5 626.8 1678.1 625.8 1677.1 624.8 1676.2 623.7 1675.5 622.7 1675.2 621.7 1675.1 620.6 1675 619.6 1675.3 618.6 1675.7 617.6 1675.9 616.5 1675.9 615.5 1676.3 614.5 1676.8 613.5 1677.5 612.4 1675.7 611.4 1674ZM693.3 1674 694.3 1663.6 695.4 1650.7 696.4 1646.7 697.4 1645.1 698.5 1648 699.5 1651 700.5 1654 701.6 1657.2 702.6 1657.2 703.6 1657.3 704.7 1653.3 705.7 1649.3 706.8 1645.4 707.8 1641.6 708.8 1642 709.9 1646.6 710.9 1647.5 711.9 1647.4 713 1662.1 714 1674 714 1688 713 1690 711.9 1692.1 710.9 1691.4 709.9 1690.7 708.8 1690 707.8 1689.7 706.8 1689.5 705.7 1689.3 704.7 1689.1 703.6 1689.8 702.6 1690.9 701.6 1692.1 700.5 1691.7 699.5 1690.9 698.5 1690.3 697.4 1691 696.4 1691.6 695.4 1691.9 694.3 1689.9 693.3 1688ZM777.8 1702 778.8 1698.7 779.8 1695.5 780.9 1694.8 781.9 1694.3 782.9 1693.6 783.9 1692.5 784.9 1691.4 786 1691.5 787 1691.3 788 1689.9 789 1688.6 790 1688.2 791.1 1689 792.1 1685.5 793.1 1682.1 794.1 1678.8 795.1 1675.5 796.2 1672.4 797.2 1687.4 798.2 1702 798.2 1716 797.2 1718 796.2 1720.4 795.1 1720 794.1 1719.1 793.1 1718.3 792.1 1717.7 791.1 1717.4 790 1717.7 789 1718 788 1718 787 1717.6 786 1717.3 784.9 1717.9 783.9 1718.7 782.9 1718.9 781.9 1718.9 780.9 1719.2 779.8 1720.1 778.8 1718.1 777.8 1716ZM861.5 1709 862.5 1699.4 863.6 1693.2 864.6 1695.3 865.7 1696.3 866.7 1695.2 867.7 1696.7 868.8 1698.4 869.8 1697.7 870.9 1695.9 871.9 1695.5 873 1697.1 874 1698.8 875 1700.1 876.1 1699.9 877.1 1699.2 878.2 1699.2 879.2 1699.9 880.2 1697.6 881.3 1695.4 882.3 1693.2 883.4 1699.3 884.4 1709 884.4 1723 883.4 1724.9 882.3 1727 881.3 1726.9 880.2 1726.4 879.2 1725.6 878.2 1724.8 877.1 1724.5 876.1 1724.3 875 1724.2 874 1724.1 873 1724 871.9 1724.5 870.9 1725.5 869.8 1726.6 868.8 1727.7 867.7 1727.3 866.7 1726.7 865.7 1726.2 864.6 1726.1 863.6 1726.7 862.5 1725 861.5 1723ZM943.5 1717 944.5 1711.8 945.5 1705.3 946.5 1701.5 947.5 1697.7 948.5 1694 949.6 1693.4 950.6 1696.3 951.6 1699.4 952.6 1702.5 953.6 1705.6 954.6 1707.2 955.6 1706.6 956.6 1704.9 957.6 1703.3 958.6 1701.7 959.6 1702 960.7 1699.4 961.7 1696.5 962.7 1693.7 963.7 1696.4 964.7 1708.2 965.7 1717 965.7 1731 964.7 1732.8 963.7 1735.5 962.7 1735.9 961.7 1736.3 960.7 1734.9 959.6 1733.5 958.6 1733.2 957.6 1733 956.6 1732.5 955.6 1732 954.6 1732 953.6 1732.1 952.6 1732.5 951.6 1732.7 950.6 1732.7 949.6 1732.8 948.5 1733.4 947.5 1734.1 946.5 1734.6 945.5 1734.9 944.5 1732.9 943.5 1731ZM1027.1 1728 1028.1 1719.2 1029.2 1707.8 1030.2 1709.7 1031.3 1712.4 1032.3 1715.1 1033.3 1718 1034.4 1716.7 1035.4 1713.2 1036.4 1709.7 1037.5 1706.3 1038.5 1703 1039.6 1699.2 1040.6 1694.9 1041.6 1690.8 1042.7 1688.3 1043.7 1693.1 1044.7 1697.9 1045.8 1702.8 1046.8 1707.7 1047.9 1719.7 1048.9 1728 1048.9 1742 1047.9 1743.9 1046.8 1745.8 1045.8 1745.5 1044.7 1745.3 1043.7 1744.9 1042.7 1744.2 1041.6 1743.6 1040.6 1743.4 1039.6 1743.4 1038.5 1743.5 1037.5 1743.3 1036.4 1743.2 1035.4 1743.3 1034.4 1744.1 1033.3 1744.9 1032.3 1744.9 1031.3 1744.8 1030.2 1745.3 1029.2 1746.3 1028.1 1744.5 1027.1 1742ZM1111.6 1749 1112.6 1745.6 1113.6 1741.9 1114.7 1740.8 1115.7 1740 1116.7 1740.2 1117.7 1737.5 1118.8 1734.9 1119.8 1732.3 1120.8 1729.8 1121.8 1729.7 1122.9 1732 1123.9 1734.5 1124.9 1736.8 1125.9 1733.3 1127 1729.8 1128 1726.4 1129 1723 1130 1722.4 1131.1 1726.7 1132.1 1739.5 1133.1 1749 1133.1 1763 1132.1 1765.1 1131.1 1766.7 1130 1766 1129 1765.6 1128 1765.2 1127 1764.8 1125.9 1764.5 1124.9 1764.3 1123.9 1764.2 1122.9 1764.4 1121.8 1764.7 1120.8 1764.6 1119.8 1764.4 1118.8 1764.8 1117.7 1765.4 1116.7 1765.9 1115.7 1766.1 1114.7 1766.3 1113.6 1766.7 1112.6 1764.9 1111.6 1763ZM1195.5 1755 1196.5 1748.8 1197.5 1740.5 1198.6 1740.2 1199.6 1735.7 1200.6 1731.4 1201.6 1727 1202.7 1722.8 1203.7 1721.7 1204.7 1725.5 1205.7 1729.4 1206.8 1733.3 1207.8 1737.3 1208.8 1740.7 1209.8 1737.8 1210.8 1735 1211.9 1734.4 1212.9 1737.8 1213.9 1738.6 1214.9 1736.1 1216 1733.7 1217 1744.9 1218 1755 1218 1769 1217 1770.9 1216 1772.7 1214.9 1772.2 1213.9 1771.8 1212.9 1771.3 1211.9 1770.9 1210.8 1770.7 1209.8 1770.8 1208.8 1770.8 1207.8 1770.4 1206.8 1770 1205.7 1770 1204.7 1770.1 1203.7 1770.3 1202.7 1770.6 1201.6 1770.9 1200.6 1771.4 1199.6 1771.9 1198.6 1772.4 1197.5 1772.8 1196.5 1770.9 1195.5 1769ZM1278.4 1756 1279.4 1747.3 1280.4 1739.5 1281.4 1735.9 1282.5 1732.4 1283.5 1733.9 1284.5 1736.5 1285.5 1739.2 1286.5 1742 1287.5 1743.4 1288.5 1741.7 1289.5 1742.3 1290.6 1743.8 1291.6 1745.4 1292.6 1746 1293.6 1745 1294.6 1744.1 1295.6 1745.4 1296.6 1747 1297.6 1748.3 1298.7 1747.9 1299.7 1747.4 1300.7 1751.2 1301.7 1756 1301.7 1770 1300.7 1772.4 1299.7 1775.1 1298.7 1774.1 1297.6 1773.2 1296.6 1772.3 1295.6 1771.9 1294.6 1771.6 1293.6 1771.4 1292.6 1771.5 1291.6 1772.1 1290.6 1772.7 1289.5 1772.4 1288.5 1771.7 1287.5 1771.3 1286.5 1771.5 1285.5 1771.7 1284.5 1771.9 1283.5 1772.3 1282.5 1772.9 1281.4 1773.6 1280.4 1774.1 1279.4 1772 1278.4 1770ZM1362 1778 1363 1771.3 1364 1766.7 1365 1768.3 1366 1769.4 1367 1768.2 1368 1767.1 1369 1765.6 1370 1763.1 1371 1760.7 1372 1759.8 1373 1762 1374 1764.4 1375 1766.8 1376 1766.9 1377 1767.1 1378 1768.7 1379 1770.3 1380 1770.4 1381 1770.4 1382 1774.1 1383 1778 1383 1792 1382 1794.1 1381 1796.2 1380 1795.3 1379 1795.1 1378 1794.7 1377 1794.1 1376 1793.9 1375 1794 1374 1794 1373 1793.6 1372 1793.2 1371 1793.2 1370 1793.3 1369 1793.5 1368 1794.2 1367 1795 1366 1795.7 1365 1795.8 1364 1796.5 1363 1794.5 1362 1792ZM1447.1 1805 1448.1 1801.1 1449.2 1798 1450.2 1796.6 1451.2 1792.8 1452.3 1789 1453.3 1785.4 1454.3 1783.9 1455.4 1787 1456.4 1790.2 1457.4 1791.8 1458.4 1789.3 1459.5 1786.9 1460.5 1785.8 1461.5 1788.8 1462.6 1791.8 1463.6 1794.9 1464.6 1797.6 1465.7 1800.9 1466.7 1805 1466.7 1819 1465.7 1821.4 1464.6 1823.3 1463.6 1822.2 1462.6 1821.6 1461.5 1821.8 1460.5 1822 1459.5 1821.4 1458.4 1820.9 1457.4 1821.5 1456.4 1822.1 1455.4 1821.6 1454.3 1821.1 1453.3 1820.7 1452.3 1821.8 1451.2 1822.9 1450.2 1823.9 1449.2 1823.8 1448.1 1821.1 1447.1 1819ZM1530.7 1797 1531.7 1790.5 1532.7 1781.6 1533.7 1779 1534.7 1781 1535.7 1783 1536.7 1785.2 1537.7 1787.4 1538.7 1785.7 1539.7 1782.9 1540.7 1780.2 1541.8 1777.6 1542.8 1775.1 1543.8 1777.3 1544.8 1780.1 1545.8 1782.9 1546.8 1784.2 1547.8 1781.1 1548.8 1778 1549.8 1774.9 1550.8 1774 1551.8 1787.2 1552.8 1797 1552.8 1811 1551.8 1812.9 1550.8 1814.7 1549.8 1814.4 1548.8 1814.4 1547.8 1814.5 1546.8 1814.5 1545.8 1813.7 1544.8 1812.9 1543.8 1812.3 1542.8 1812.1 1541.8 1812 1540.7 1812.1 1539.7 1812.4 1538.7 1812.8 1537.7 1813 1536.7 1813.2 1535.7 1814.1 1534.7 1815.2 1533.7 1816 1532.7 1816 1531.7 1813.2 1530.7 1811ZM1615.2 1813 1616.2 1806.6 1617.3 1802.5 1618.3 1803.8 1619.3 1802.1 1620.3 1800.2 1621.4 1799.6 1622.4 1800.8 1623.4 1802.1 1624.4 1798.8 1625.5 1795 1626.5 1791.2 1627.5 1787.6 1628.5 1784 1629.6 1784.4 1630.6 1788.7 1631.6 1793.1 1632.6 1797.3 1633.7 1803.6 1634.7 1813 1634.7 1827 1633.7 1828.9 1632.6 1831.1 1631.6 1830.3 1630.6 1829.4 1629.6 1829.2 1628.5 1829.2 1627.5 1829.2 1626.5 1829.1 1625.5 1828.7 1624.4 1828.3 1623.4 1828.1 1622.4 1828.5 1621.4 1829 1620.3 1829.3 1619.3 1830.6 1618.3 1832.1 1617.3 1833.7 1616.2 1830.4 1615.2 1827ZM1700.7 1830 1701.7 1825.7 1702.8 1819.6 1703.8 1816.8 1704.9 1818.3 1705.9 1819.9 1706.9 1820.8 1708 1816.8 1709 1812.9 1710.1 1809 1711.1 1805.3 1712.1 1801.7 1713.2 1798.6 1714.2 1802.7 1715.2 1806.9 1716.3 1805.4 1717.3 1804.4 1718.4 1818.3 1719.4 1830 1719.4 1844 1718.4 1845.8 1717.3 1847.5 1716.3 1846.8 1715.2 1846.2 1714.2 1845.8 1713.2 1845.5 1712.1 1845.2 1711.1 1845.1 1710.1 1845.1 1709 1845.3 1708 1845.5 1706.9 1845.5 1705.9 1845.8 1704.9 1846.8 1703.8 1848 1702.8 1849.3 1701.7 1846.8 1700.7 1844ZM1782.8 1846 1783.8 1841.7 1784.8 1835.8 1785.8 1833.5 1786.8 1832.5 1787.8 1833.8 1788.8 1833.1 1789.8 1831.2 1790.8 1830.3 1791.8 1831.9 1792.8 1831.1 1793.8 1828.4 1794.8 1828.7 1795.8 1827.2 1796.8 1824.7 1797.8 1823.4 1798.8 1824.6 1799.8 1821.7 1800.8 1819 1801.8 1832.1 1802.8 1846 1802.8 1860 1801.8 1862.1 1800.8 1864 1799.8 1863.2 1798.8 1863 1797.8 1862.7 1796.8 1862.1 1795.8 1861.6 1794.8 1861.5 1793.8 1861.2 1792.8 1861.1 1791.8 1861.4 1790.8 1861.8 1789.8 1862.2 1788.8 1862.2 1787.8 1862.2 1786.8 1862.5 1785.8 1863 1784.8 1863.6 1783.8 1861.8 1782.8 1860ZM1866.7 1843 1867.7 1837.9 1868.8 1831.8 1869.8 1832.6 1870.9 1833.5 1871.9 1832.7 1872.9 1830.1 1874 1827.1 1875 1823.5 1876.1 1820.1 1877.1 1816.7 1878.1 1813.4 1879.2 1813.2 1880.2 1817 1881.2 1820.8 1882.3 1824.8 1883.3 1828.8 1884.4 1837.4 1885.4 1843 1885.4 1857 1884.4 1859.3 1883.3 1860.9 1882.3 1859.8 1881.2 1859.4 1880.2 1859.2 1879.2 1859 1878.1 1858.7 1877.1 1858.3 1876.1 1858.1 1875 1858.2 1874 1858.3 1872.9 1858.5 1871.9 1859 1870.9 1859.7 1869.8 1860.1 1868.8 1860.6 1867.7 1858.8 1866.7 1857ZM1950 1852 1951 1844.6 1952.1 1840.3 1953.2 1839.6 1954.2 1836 1955.2 1832.5 1956.3 1830.4 1957.4 1833.2 1958.4 1836.1 1959.5 1836.2 1960.5 1838 1961.5 1839.9 1962.6 1841.9 1963.7 1842.8 1964.7 1843.8 1965.8 1844.8 1966.8 1845.4 1967.9 1848.5 1968.9 1852 1968.9 1866 1967.9 1867.8 1966.8 1869.5 1965.8 1869 1964.7 1868.3 1963.7 1868.1 1962.6 1868.8 1961.5 1869.6 1960.5 1870.5 1959.5 1869.6 1958.4 1869.5 1957.4 1870.8 1956.3 1870.5 1955.2 1869.6 1954.2 1868.8 1953.2 1869.4 1952.1 1870 1951 1867.9 1950 1866ZM2033.7 1870 2034.7 1857 2035.8 1848.1 2036.8 1850.7 2037.8 1847.3 2038.9 1848.8 2039.9 1851.6 2040.9 1854.4 2042 1857.4 2043 1860.4 2044 1860.6 2045 1860.9 2046.1 1861.2 2047.1 1860.9 2048.1 1860.4 2049.2 1860 2050.2 1860.7 2051.2 1862.1 2052.3 1866.3 2053.3 1870 2053.3 1884 2052.3 1886.1 2051.2 1888.6 2050.2 1887.4 2049.2 1886.3 2048.1 1886 2047.1 1885.9 2046.1 1885.9 2045 1885.6 2044 1885.7 2043 1886.1 2042 1886 2040.9 1885.8 2039.9 1885.6 2038.9 1885.9 2037.8 1886.5 2036.8 1887.1 2035.8 1887.6 2034.7 1885.8 2033.7 1884ZM2117.3 1878 2118.3 1874.6 2119.4 1871.5 2120.4 1870.8 2121.4 1869.8 2122.4 1868.5 2123.5 1867.3 2124.5 1866.5 2125.5 1867.1 2126.5 1867.9 2127.6 1868.1 2128.6 1867.2 2129.6 1866.4 2130.6 1866.4 2131.7 1864.8 2132.7 1863.2 2133.7 1865.6 2134.7 1868.2 2135.8 1874 2136.8 1878 2136.8 1892 2135.8 1894 2134.7 1895.7 2133.7 1894.9 2132.7 1894.8 2131.7 1894.9 2130.6 1894.2 2129.6 1893.4 2128.6 1893.3 2127.6 1893.3 2126.5 1893.5 2125.5 1893.5 2124.5 1893.5 2123.5 1893.6 2122.4 1893.9 2121.4 1894.4 2120.4 1895 2119.4 1895.6 2118.3 1893.8 2117.3 1892Z"/>
<path fill="none" stroke="#000" stroke-width="11.5" stroke-linejoin="round" d="M380 1815 381.5 1850 386 2197M437 2197 448.1 1645 449.6 1629 461.3 1629 462.8 1645 468 2197M520.5 2197 531.9 1658 533.4 1642 538.9 1642 540.4 1658 550.1 2197M605 2197 616.4 1681 617.9 1665 623.4 1665 624.9 1681 634.7 2197M688.5 2197 698.3 1695 699.8 1679 707.5 1679 709 1695 718.7 2197M773.1 2197 782.8 1723 784.3 1707 791.7 1707 793.2 1723 801.2 2197M856.6 2197 866.5 1730 868 1714 877.9 1714 879.4 1730 885.7 2197M940.6 2197 948.5 1738 950 1722 959.2 1722 960.7 1738 968.7 2197M1024.1 2197 1032.1 1749 1033.6 1733 1042.4 1733 1043.9 1749 1052.2 2197M1108.6 2197 1116.6 1770 1118.1 1754 1126.6 1754 1128.1 1770 1136.2 2197M1192.4 2197 1200.5 1776 1202 1760 1211.5 1760 1213 1776 1219.3 2197M1275.3 2197 1283.4 1777 1284.9 1761 1295.2 1761 1296.7 1777 1303.1 2197M1359 2197 1367 1799 1368.5 1783 1376.5 1783 1378 1799 1386 2197M1444.1 2197 1452.1 1826 1453.6 1810 1460.2 1810 1461.7 1826 1469.7 2197M1527.7 2197 1535.7 1818 1537.2 1802 1546.3 1802 1547.8 1818 1554.2 2197M1612.2 2197 1620.2 1834 1621.7 1818 1628.2 1818 1629.7 1834 1637.7 2197M1696.2 2197 1705.7 1851 1707.2 1835 1712.9 1835 1714.4 1851 1721.2 2197M1779.7 2197 1787.8 1867 1789.3 1851 1796.3 1851 1797.8 1867 1804.7 2197M1863.7 2197 1871.7 1864 1873.2 1848 1878.9 1848 1880.4 1864 1887.7 2197M1946.7 2197 1955 1873 1956.5 1857 1962.4 1857 1963.9 1873 1971.2 2197M2030.7 2197 2038.7 1891 2040.2 1875 2046.8 1875 2048.3 1891 2054.7 2197M2114.2 2197 2122.3 1899 2123.8 1883 2130.3 1883 2131.8 1899 2138.2 2197"/>
</g>
<g fill="#fff">
<rect x="828" y="186" width="775" height="169"/>
<rect x="1680" y="60" width="470" height="192"/>
<rect x="1680" y="800" width="470" height="180"/>
<rect x="1680" y="1560" width="470" height="188"/>
<rect x="788" y="2046" width="823" height="86"/>
<rect x="596" y="648" width="220" height="100"/>
</g>
<g stroke="#000" stroke-width="3.2" fill="none" stroke-linecap="butt">
<path d="M380 101.7 V743"/>
<path d="M335 262.7H380"/>
<path d="M335 462.7H380"/>
<path d="M335 662.7H380"/>
<path d="M358 162.7H380"/>
<path d="M358 362.7H380"/>
<path d="M358 562.7H380"/>
<path d="M380 826.7 V1466.7"/>
<path d="M335 1466.7H380"/>
<path d="M335 1360H380"/>
<path d="M335 1253.4H380"/>
<path d="M335 1146.7H380"/>
<path d="M335 1040H380"/>
<path d="M335 933.4H380"/>
<path d="M335 826.7H380"/>
<path d="M358 1413.4H380"/>
<path d="M358 1306.7H380"/>
<path d="M358 1200H380"/>
<path d="M358 1093.4H380"/>
<path d="M358 986.7H380"/>
<path d="M358 880H380"/>
<path d="M380 1549.5 V2190.6"/>
<path d="M335 2030.3H380"/>
<path d="M335 1870H380"/>
<path d="M335 1709.8H380"/>
<path d="M335 1549.5H380"/>
<path d="M335 2190.6H2164"/>
<path d="M379.3 2190.6V2233"/>
<path d="M506.8 2190.6V2211.5"/>
<path d="M634.3 2190.6V2233"/>
<path d="M761.8 2190.6V2211.5"/>
<path d="M889.3 2190.6V2233"/>
<path d="M1016.8 2190.6V2211.5"/>
<path d="M1144.3 2190.6V2233"/>
<path d="M1271.8 2190.6V2211.5"/>
<path d="M1399.3 2190.6V2233"/>
<path d="M1526.8 2190.6V2211.5"/>
<path d="M1654.3 2190.6V2233"/>
<path d="M1781.8 2190.6V2211.5"/>
<path d="M1909.3 2190.6V2233"/>
<path d="M2036.8 2190.6V2211.5"/>
<path d="M2164.3 2190.6V2233"/>
</g>
<g stroke="#000" stroke-width="5.5" fill="none">
<path d="M482.6 590V701H593.8"/>
<path d="M488.2 1352V1435.8H615.5"/>
<path d="M783 2087.5L667 2157"/>
</g>
<g fill="#000">
<path d="M482.5 563.3L457.4 605L482.5 588.6L507.8 605Z"/>
<path d="M488.2 1326.2L463.9 1366.4L488.2 1351L512.5 1366.4Z"/>
<path d="M644.8 2170.3L668.4 2127.3L668.9 2156L693.9 2170.1Z"/>
</g>
<g class="t" font-size="67" fill="#000">
<text x="284.8" y="285.5" text-anchor="start">5</text>
<text x="283.9" y="485.5" text-anchor="start">4</text>
<text x="284.9" y="685.5" text-anchor="start">3</text>
<text x="211.7" y="389.3" text-anchor="start">mm</text>
<text x="284.6" y="1489.5" text-anchor="start">0</text>
<text x="285.2" y="1382.8" text-anchor="start">1</text>
<text x="285.3" y="1276.2" text-anchor="start">2</text>
<text x="284.9" y="1169.5" text-anchor="start">3</text>
<text x="283.9" y="1062.8" text-anchor="start">4</text>
<text x="284.8" y="956.2" text-anchor="start">5</text>
<text x="284.9" y="849.5" text-anchor="start">6</text>
<text x="210.7" y="900.8" text-anchor="start">mm</text>
<text x="284.6" y="2213.4" text-anchor="start">0</text>
<text x="228.9" y="2053.1" text-anchor="start">0.5</text>
<text x="228.7" y="1892.8" text-anchor="start">1.0</text>
<text x="228.9" y="1732.6" text-anchor="start">1.5</text>
<text x="228.7" y="1572.3" text-anchor="start">2.0</text>
<text x="205.7" y="1653" text-anchor="start">mm</text>
<text x="379.3" y="2295.6" text-anchor="middle">1.0</text>
<text x="634.3" y="2295.6" text-anchor="middle">1.5</text>
<text x="889.3" y="2295.6" text-anchor="middle">2.0</text>
<text x="1144.3" y="2295.6" text-anchor="middle">2.5</text>
<text x="1399.3" y="2295.6" text-anchor="middle">3.0</text>
<text x="1654.3" y="2295.6" text-anchor="middle">3.5</text>
<text x="1909.3" y="2295.6" text-anchor="middle">4.0</text>
<text x="2164.3" y="2295.6" text-anchor="middle">4.5</text>
<text x="2044.8" y="2295.6" text-anchor="start">s</text>
<text x="1148.5" y="2375.5" text-anchor="start">time</text>
<text x="0" y="0" text-anchor="start" transform="translate(114.6 678) rotate(-90)">displacement</text>
<text x="0" y="0" text-anchor="start" transform="translate(114.6 1402.2) rotate(-90)">displacement</text>
<text x="0" y="0" text-anchor="start" transform="translate(114.6 2126.5) rotate(-90)">displacement</text>
<text x="1711.6" y="137.8" text-anchor="start">Control piston</text>
<text x="1712.4" y="217.9" text-anchor="start">0 mm preload</text>
<text x="852.3" y="249.2" text-anchor="start">Overshoots above 3 mm</text>
<text x="852.7" y="328.8" text-anchor="start">displacement</text>
<text x="614.1" y="724.2" text-anchor="start">Offset</text>
<text x="1715.2" y="887.3" text-anchor="start">Control piston</text>
<text x="1718.7" y="966.4" text-anchor="start">1 mm preload</text>
<text x="852.3" y="999.7" text-anchor="start">Overshoots above 3 mm</text>
<text x="852.7" y="1079.6" text-anchor="start">displacement</text>
<text x="635.5" y="1457.4" text-anchor="start">Offset decreased</text>
<text x="734.9" y="1642" text-anchor="start">Displacement insufficent</text>
<text x="1705.3" y="1636.2" text-anchor="start">Control Piston</text>
<text x="1705.3" y="1717" text-anchor="start">2 mm preload</text>
<text x="802.4" y="2109.4" text-anchor="start">No Offset - problem solved</text>
</g>
<g class="a" font-size="61" fill="#000">
<text x="1300.9" y="2379.3" text-anchor="start">⟶</text>
<text x="0" y="0" transform="translate(116.8 259) rotate(-90)">⟶</text>
<text x="0" y="0" transform="translate(116.8 983.2) rotate(-90)">⟶</text>
<text x="0" y="0" transform="translate(116.8 1706.6) rotate(-90)">⟶</text>
</g>
</svg>
</body></html>
